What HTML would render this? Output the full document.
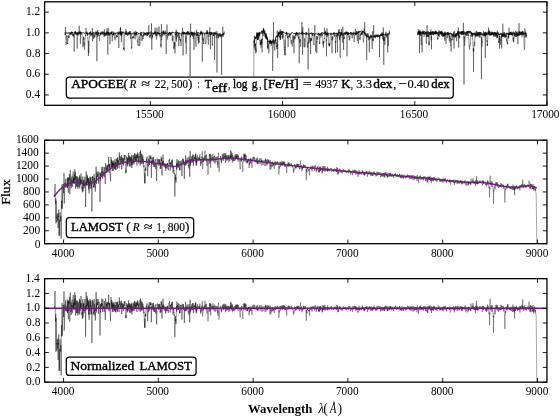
<!DOCTYPE html>
<html><head><meta charset="utf-8"><style>html,body{margin:0;padding:0;background:#fff;overflow:hidden}svg{display:block;will-change:transform;filter:blur(0.3px)}text{font-family:"Liberation Serif",serif;fill:#000}.b{font-weight:bold}.i{font-style:italic}</style></head><body>
<svg width="560" height="417" viewBox="0 0 560 417">
<defs><clipPath id="c1"><rect x="44.6" y="1.8" width="502.4" height="103.5"/></clipPath><clipPath id="c2"><rect x="44.6" y="140.2" width="502.4" height="103.5"/></clipPath><clipPath id="c3"><rect x="44.6" y="278.6" width="502.4" height="103.5"/></clipPath></defs>
<polyline fill="none" stroke="#000" stroke-width="0.4" stroke-linejoin="round" clip-path="url(#c1)" points="65,32 65.1,35 65.2,33.7 65.3,34.6 65.4,27 65.5,34.4 65.6,34.6 65.7,38 65.8,39.5 65.9,39.2 66,44.9 66.1,44.4 66.2,42.7 66.3,43.4 66.4,40.6 66.5,39.3 66.6,38.6 66.7,35.3 66.8,36.1 66.9,36.4 67,36.6 67.1,36 67.2,38.7 67.3,38.4 67.4,41.8 67.5,44 67.6,43 67.7,43.7 67.8,43.9 67.9,42.8 68,39.3 68.1,38 68.2,35.6 68.3,35.2 68.4,35.2 68.5,37.5 68.6,38.1 68.7,37 68.8,36.5 68.9,37.8 69,37.4 69.1,36.5 69.2,37.2 69.3,35.3 69.4,34.7 69.5,33.2 69.6,34 69.7,34.8 69.8,33.4 69.9,33.3 70,33.5 70.1,33.3 70.2,33.5 70.3,33.6 70.4,33.7 70.5,32.5 70.6,33.8 70.7,32.4 70.8,34.7 70.9,33.6 71,34.7 71.1,34.9 71.2,33.6 71.3,33.7 71.4,31.7 71.5,32.3 71.6,33.7 71.7,31.9 71.8,33.6 71.9,31.7 72,32.2 72.1,32 72.2,33.1 72.3,33.6 72.4,32.3 72.5,33.3 72.6,35.4 72.7,34 72.8,34 72.9,35.8 73,35.7 73.1,35.7 73.2,34.8 73.3,37.2 73.4,35.6 73.5,35.6 73.6,34 73.7,35.7 73.8,34.7 73.9,34.5 74,33.2 74.1,33.6 74.2,51.6 74.3,34 74.4,33.3 74.5,32.9 74.6,32.7 74.7,32.3 74.8,32.1 74.9,33.3 75,32.8 75.1,31.1 75.2,32.9 75.3,34.1 75.4,32.8 75.5,31.3 75.6,33 75.7,33.9 75.8,33.4 75.9,32.8 76,35 76.1,35.1 76.2,33.3 76.3,34.2 76.4,33.8 76.5,34.2 76.6,34.7 76.7,34.1 76.8,33.3 76.9,32.5 77,32.3 77.1,33 77.2,48.6 77.3,33.3 77.4,33.2 77.5,33.6 77.6,33.7 77.7,34.7 77.8,33.6 77.9,33.1 78,34.5 78.1,33.4 78.2,35.6 78.3,33.4 78.4,33 78.5,31.6 78.6,33.3 78.7,32.4 78.8,34.1 78.9,33.8 79,32.3 79.1,33.4 79.2,25.8 79.3,32.4 79.4,34.2 79.5,33.8 79.6,33.2 79.7,33 79.8,31.7 79.9,31.7 80,33.2 80.1,34.7 80.2,30.9 80.3,33.6 80.4,43.8 80.5,33.9 80.6,32.2 80.7,32.5 80.8,33 80.9,32 81,32 81.1,32.7 81.2,33.9 81.3,34.5 81.4,33.7 81.5,33.3 81.6,32.5 81.7,32.5 81.8,34.4 81.9,33.6 82,34.1 82.1,35.8 82.2,37.1 82.3,38.4 82.4,39.1 82.5,40.3 82.6,42.4 82.7,44 82.8,46.6 82.9,46.5 83,47.1 83.1,45.8 83.2,45.7 83.3,40.5 83.4,40.6 83.5,39.3 83.6,36.6 83.7,39.7 83.8,37.5 83.9,37.8 84,45.6 84.1,42.1 84.2,44 84.3,45.7 84.4,48.2 84.5,49.5 84.6,49.8 84.7,47.8 84.8,44.9 84.9,43.4 85,39.8 85.1,39.5 85.2,39.4 85.3,37.8 85.4,36.1 85.5,34.9 85.6,36 85.7,34.2 85.8,34.4 85.9,33.7 86,27.9 86.1,34.6 86.2,31.9 86.3,31.9 86.4,32.6 86.5,32.3 86.6,32.5 86.7,32.4 86.8,33.9 86.9,33.1 87,33.4 87.1,31.6 87.2,32.4 87.3,34.5 87.4,32.7 87.5,35.5 87.6,34.4 87.7,37 87.8,37.7 87.9,41.1 88,42.8 88.1,46.4 88.2,51.2 88.3,51.8 88.4,56 88.5,54.4 88.6,40.8 88.7,53.2 88.8,50.5 88.9,49.6 89,45.6 89.1,42.7 89.2,39.4 89.3,39 89.4,35.8 89.5,34.6 89.6,32.7 89.7,32.3 89.8,33.3 89.9,34 90,34.1 90.1,32.1 90.2,33.5 90.3,33.2 90.4,32 90.5,33.7 90.6,31.1 90.7,33.7 90.8,36.2 90.9,33.8 91,35.6 91.1,33.9 91.2,34.3 91.3,35.2 91.4,33.5 91.5,34.6 91.6,34.3 91.7,34.2 91.8,34.5 91.9,34.6 92,35.1 92.1,34.6 92.2,33 92.3,34.6 92.4,28 92.5,31.7 92.6,41.4 92.7,34 92.8,34 92.9,33.7 93,32.5 93.1,34.8 93.2,35 93.3,37.8 93.4,39 93.5,36 93.6,34.9 93.7,33.4 93.8,33.2 93.9,33.5 94,35.1 94.1,34.7 94.2,35.2 94.3,37.2 94.4,34.9 94.5,35.6 94.6,36.9 94.7,37.7 94.8,37.7 94.9,35.8 95,36.2 95.1,34.7 95.2,34.3 95.3,32.4 95.4,33.5 95.5,33.4 95.6,32.7 95.7,33.3 95.8,33.1 95.9,35.1 96,30.9 96.1,32.5 96.2,32.2 96.3,33.5 96.4,33.3 96.5,33.7 96.6,34.8 96.7,32.5 96.8,33.2 96.9,61.2 97,32.8 97.1,34.5 97.2,34.8 97.3,34.3 97.4,33.6 97.5,36.9 97.6,35.8 97.7,35.4 97.8,30 97.9,34 98,34.4 98.1,33.3 98.2,32.6 98.3,33.8 98.4,33.1 98.5,32.4 98.6,32.4 98.7,34.6 98.8,34.4 98.9,36.2 99,34.5 99.1,35.1 99.2,37.1 99.3,38.9 99.4,38.9 99.5,39.3 99.6,40.8 99.7,38.1 99.8,37 99.9,36.7 100,36.2 100.1,36 100.2,35.8 100.3,34.6 100.4,35.2 100.5,32.7 100.6,35.1 100.7,32.5 100.8,34.3 100.9,32.3 101,33.5 101.1,33.2 101.2,33.6 101.3,33.8 101.4,32.8 101.5,33 101.6,33.2 101.7,31.8 101.8,32.3 101.9,31.5 102,33 102.1,35.1 102.2,33.7 102.3,32.2 102.4,32.3 102.5,33.9 102.6,32.5 102.7,31.5 102.8,32 102.9,32 103,32 103.1,33.7 103.2,33.1 103.3,31.7 103.4,32.6 103.5,32.1 103.6,32.2 103.7,32.1 103.8,35.4 103.9,33.9 104,35.4 104.1,36.6 104.2,35.9 104.3,36.4 104.4,29.4 104.5,34.7 104.6,36.2 104.7,34.1 104.8,33.4 104.9,34 105,35 105.1,34.1 105.2,32.7 105.3,32.4 105.4,32.6 105.5,33.2 105.6,34.6 105.7,35.6 105.8,33.1 105.9,35.4 106,34.3 106.1,35.7 106.2,35.4 106.3,33.4 106.4,33.3 106.5,32.5 106.6,33.6 106.7,31.6 106.8,32 106.9,32.4 107,28.3 107.1,35.3 107.2,33 107.3,31.8 107.4,33.1 107.5,32.2 107.6,33.4 107.7,31.9 107.8,54.6 107.9,33 108,33.5 108.1,33 108.2,27.9 108.3,33.4 108.4,31.8 108.5,34.6 108.6,33.7 108.7,33.6 108.8,35.9 108.9,33.6 109,34.5 109.1,33.6 109.2,35.4 109.3,33.5 109.4,34 109.5,32.7 109.6,36.5 109.7,36.6 109.8,40.2 109.9,44.2 110,44.2 110.1,42.3 110.2,36.4 110.3,35.6 110.4,34.1 110.5,33.8 110.6,34.2 110.7,33.2 110.8,32.2 110.9,32.9 111,34.5 111.1,31.9 111.2,33.1 111.3,32.1 111.4,34.1 111.5,31.4 111.6,32.7 111.7,32.9 111.8,33.3 111.9,36 112,36.5 112.1,36.1 112.2,41.2 112.3,38.9 112.4,37.5 112.5,36.2 112.6,36.5 112.7,36.2 112.8,33.4 112.9,35.7 113,34.8 113.1,35.4 113.2,33.9 113.3,34.8 113.4,34.2 113.5,32.3 113.6,34.6 113.7,33.4 113.8,34 113.9,34.7 114,32.9 114.1,34.2 114.2,33.6 114.3,33.4 114.4,34.5 114.5,35.1 114.6,37 114.7,38.3 114.8,37.8 114.9,37.2 115,40.3 115.1,38 115.2,34.5 115.3,32.9 115.4,32.9 115.5,33.3 115.6,34.1 115.7,34 115.8,33.5 115.9,33 116,33.5 116.1,33.4 116.2,34.2 116.3,34.8 116.4,36.4 116.5,35.1 116.6,37.2 116.7,37.5 116.8,36.6 116.9,37.2 117,36 117.1,36.3 117.2,36.8 117.3,36.9 117.4,36.2 117.5,36.8 117.6,34.8 117.7,34.1 117.8,33.6 117.9,32.6 118,32.4 118.1,34.1 118.2,33 118.3,31.8 118.4,31.5 118.5,33.9 118.6,33 118.7,33.6 118.8,48 118.9,33.2 119,33.3 119.1,32.2 119.2,33.3 119.3,34.3 119.4,34.2 119.5,31.9 119.6,32.1 119.7,31.9 119.8,32.8 119.9,33.8 120,33.3 120.1,31.3 120.2,33.1 120.3,27.7 120.4,32.6 120.5,34.9 120.6,27 120.7,34.2 120.8,35.4 120.9,31.9 121,32.8 121.1,33.6 121.2,36.1 121.3,31.3 121.4,42 121.5,33.3 121.6,32.6 121.7,32.2 121.8,32.5 121.9,32.7 122,31.8 122.1,34.5 122.2,31.9 122.3,32.6 122.4,32.4 122.5,32.6 122.6,33.1 122.7,32.4 122.8,33 122.9,35.2 123,35.2 123.1,35.4 123.2,39.2 123.3,41.6 123.4,47 123.5,48.7 123.6,48 123.7,49 123.8,49.2 123.9,47.5 124,48.8 124.1,50.1 124.2,50.9 124.3,49.1 124.4,45.6 124.5,41 124.6,36.8 124.7,35 124.8,35.7 124.9,35.3 125,34.1 125.1,31.7 125.2,34.7 125.3,33.4 125.4,33 125.5,33.1 125.6,32.7 125.7,34.7 125.8,29.1 125.9,32.1 126,32.9 126.1,33.4 126.2,34.3 126.3,30.8 126.4,34 126.5,34.7 126.6,32.9 126.7,33.3 126.8,34.8 126.9,34.4 127,33.4 127.1,34.3 127.2,34.7 127.3,34.3 127.4,35.5 127.5,34.8 127.6,35.1 127.7,35.3 127.8,35.9 127.9,34 128,31.8 128.1,34.6 128.2,33.1 128.3,34.2 128.4,32.7 128.5,33.5 128.6,33.2 128.7,33.5 128.8,35 128.9,33.2 129,34 129.1,34 129.2,33.3 129.3,31.6 129.4,34.1 129.5,31.3 129.6,32.6 129.7,33.6 129.8,34.3 129.9,34.4 130,34.2 130.1,33.8 130.2,32.8 130.3,34.2 130.4,32.8 130.5,34.2 130.6,31.1 130.7,32.5 130.8,39 130.9,34.7 131,33.6 131.1,38.4 131.2,40.8 131.3,43.1 131.4,44.2 131.5,47.9 131.6,47.1 131.7,48.8 131.8,46.8 131.9,44.2 132,40.8 132.1,38.3 132.2,37.6 132.3,36.9 132.4,36.6 132.5,36.2 132.6,36.4 132.7,36.8 132.8,38.6 132.9,37.1 133,37.3 133.1,38.2 133.2,36.7 133.3,37.9 133.4,37.9 133.5,36.6 133.6,36.5 133.7,37.1 133.8,35.6 133.9,35.3 134,35.7 134.1,33.6 134.2,32.6 134.3,33.3 134.4,33.6 134.5,31.5 134.6,34 134.7,33.6 134.8,34.7 134.9,36.1 135,38.2 135.1,39.4 135.2,37.5 135.3,36 135.4,33.6 135.5,35 135.6,34.6 135.7,33.4 135.8,30.9 135.9,33.4 136,35.9 136.1,33.2 136.2,32.3 136.3,35.1 136.4,33.1 136.5,34.1 136.6,34.2 136.7,32 136.8,33.6 136.9,34.9 137,34.1 137.1,36.2 137.2,37 137.3,39.7 137.4,42.1 137.5,40.7 137.6,42.7 137.7,44.4 137.8,44.1 137.9,44.5 138,45.2 138.1,45.5 138.2,45.1 138.3,45.9 138.4,45.8 138.5,44.8 138.6,43.4 138.7,42.4 138.8,38.4 138.9,38.2 139,37.5 139.1,37.5 139.2,35.7 139.3,40 139.4,39 139.5,41.9 139.6,44.2 139.7,45.9 139.8,44.7 139.9,44.5 140,44.1 140.1,42.4 140.2,40.6 140.3,37.7 140.4,35.4 140.5,33.6 140.6,35.7 140.7,32.2 140.8,34 140.9,33.5 141,34 141.1,34.4 141.2,35.2 141.3,34.4 141.4,35.7 141.5,34.5 141.6,37.6 141.7,37.8 141.8,39.4 141.9,41.1 142,39.8 142.1,40.1 142.2,38.1 142.3,38.1 142.4,37.2 142.5,35.4 142.6,37.6 142.7,38.4 142.8,39.1 142.9,38.9 143,38.5 143.1,39 143.2,38 143.3,36.4 143.4,37.1 143.5,34 143.6,35.2 143.7,35 143.8,35.9 143.9,33.7 144,32.4 144.1,33.7 144.2,34.9 144.3,32.9 144.4,33 144.5,32.9 144.6,33.1 144.7,34.3 144.8,35.1 144.9,33.8 145,33.4 145.1,35.5 145.2,34.1 145.3,34.3 145.4,34.1 145.5,34.2 145.6,34.6 145.7,33.9 145.8,34.3 145.9,33.8 146,34.1 146.1,33.2 146.2,33.5 146.3,34.2 146.4,34.2 146.5,34.4 146.6,35.5 146.7,33.4 146.8,32.7 146.9,35.4 147,34.5 147.1,35.9 147.2,34.3 147.3,33 147.4,35.9 147.5,33.9 147.6,33 147.7,32.6 147.8,34 147.9,32.9 148,34 148.1,34.8 148.2,32.3 148.3,33.1 148.4,33.7 148.5,34.7 148.6,34 148.7,32.6 148.8,25.2 148.9,32.7 149,32.9 149.1,33.5 149.2,32.3 149.3,36.6 149.4,35.3 149.5,35.1 149.6,35.1 149.7,35.3 149.8,37.4 149.9,38.1 150,37.2 150.1,37.3 150.2,37.8 150.3,37 150.4,34.7 150.5,36.4 150.6,35.1 150.7,34.8 150.8,32.9 150.9,31.3 151,32 151.1,33.5 151.2,35.3 151.3,35.7 151.4,34 151.5,23.4 151.6,34.4 151.7,35.8 151.8,49.8 151.9,36.7 152,38.3 152.1,36.3 152.2,35 152.3,35.9 152.4,35.1 152.5,37.7 152.6,34.7 152.7,33 152.8,34.4 152.9,34.5 153,33.4 153.1,33.4 153.2,34.2 153.3,33.7 153.4,32.7 153.5,34 153.6,34.5 153.7,34 153.8,34.5 153.9,34.1 154,33.2 154.1,33.2 154.2,33.8 154.3,32.6 154.4,34.3 154.5,34.4 154.6,31.5 154.7,33.6 154.8,33.1 154.9,33.2 155,33.8 155.1,27.7 155.2,33.8 155.3,33.4 155.4,33.4 155.5,32.4 155.6,32.9 155.7,34.7 155.8,31.3 155.9,35.7 156,34.1 156.1,36.4 156.2,33.7 156.3,36.7 156.4,38.7 156.5,38.6 156.6,39.6 156.7,37.6 156.8,37.2 156.9,36.2 157,27.7 157.1,35.4 157.2,34.1 157.3,33.5 157.4,33.1 157.5,33.3 157.6,32.2 157.7,33 157.8,32.9 157.9,32.5 158,32.5 158.1,34.4 158.2,32.4 158.3,33.4 158.4,34.3 158.5,33.7 158.6,33 158.7,34 158.8,31.6 158.9,31.8 159,26.4 159.1,32.8 159.2,32.9 159.3,34.8 159.4,34.8 159.5,33.3 159.6,33.9 159.7,33.2 159.8,34.8 159.9,33.6 160,36.5 160.1,35 160.2,36.3 160.3,35.1 160.4,38.4 160.5,38.8 160.6,41.5 160.7,41.4 160.8,46.2 160.9,43.9 161,44.5 161.1,47.6 161.2,45 161.3,43.5 161.4,24 161.5,40.3 161.6,38.4 161.7,35.8 161.8,33.2 161.9,33.1 162,31.9 162.1,35.1 162.2,34.7 162.3,33.8 162.4,35.2 162.5,35.8 162.6,36.4 162.7,36.5 162.8,36.5 162.9,35 163,32 163.1,30.9 163.2,34.5 163.3,33.7 163.4,30.7 163.5,33.2 163.6,32.2 163.7,32.5 163.8,30.5 163.9,33.8 164,33 164.1,34.1 164.2,34.7 164.3,35.2 164.4,35.4 164.5,33.8 164.6,33.4 164.7,32.4 164.8,33.5 164.9,32.8 165,31.9 165.1,34.1 165.2,33.7 165.3,30.5 165.4,31.3 165.5,33.1 165.6,32.3 165.7,35.3 165.8,35.2 165.9,37 166,38.7 166.1,39.4 166.2,54 166.3,37.7 166.4,36.6 166.5,36.3 166.6,35.3 166.7,35.7 166.8,34.8 166.9,34 167,24.6 167.1,34.9 167.2,37.4 167.3,39.5 167.4,37.9 167.5,36.6 167.6,37.1 167.7,35.4 167.8,34.9 167.9,34.1 168,35.1 168.1,33.6 168.2,35.1 168.3,33.1 168.4,34.3 168.5,35.8 168.6,35.9 168.7,36.2 168.8,34.5 168.9,33.4 169,33.2 169.1,33.7 169.2,31.9 169.3,32.2 169.4,32.3 169.5,32.5 169.6,34.2 169.7,33.1 169.8,32.9 169.9,33.6 170,34.8 170.1,33.4 170.2,35.5 170.3,32.5 170.4,33.8 170.5,35.7 170.6,35.4 170.7,33.7 170.8,32.9 170.9,33.9 171,32.7 171.1,34.6 171.2,34.3 171.3,34 171.4,32.5 171.5,34.3 171.6,33.1 171.7,33.2 171.8,33.2 171.9,33.9 172,35.3 172.1,36.7 172.2,37.9 172.3,41.4 172.4,38.4 172.5,39.8 172.6,37.5 172.7,37.1 172.8,35.4 172.9,37.3 173,36.6 173.1,37.3 173.2,38.4 173.3,41 173.4,41.5 173.5,44.3 173.6,48.1 173.7,47.1 173.8,47.7 173.9,47.8 174,49.4 174.1,47.9 174.2,45.7 174.3,44 174.4,43.4 174.5,42.2 174.6,46.5 174.7,45.9 174.8,45.6 174.9,42.5 175,53.4 175.1,34.1 175.2,33.7 175.3,33.6 175.4,32.4 175.5,35.2 175.6,34.1 175.7,35 175.8,35 175.9,34.1 176,38.3 176.1,39.4 176.2,29.4 176.3,41.7 176.4,40.9 176.5,37.6 176.6,34.3 176.7,35 176.8,32.9 176.9,33.8 177,34 177.1,32.4 177.2,33.7 177.3,33.7 177.4,34.7 177.5,35.4 177.6,36.2 177.7,35.5 177.8,37.4 177.9,37.4 178,35.5 178.1,35.2 178.2,34.5 178.3,34.5 178.4,33.2 178.5,33.6 178.6,33.3 178.7,33.2 178.8,46 178.9,32.9 179,32.2 179.1,33.2 179.2,34.4 179.3,34.8 179.4,35.6 179.5,35.6 179.6,38.1 179.7,37.4 179.8,39.6 179.9,40 180,39.3 180.1,39.2 180.2,40.2 180.3,39 180.4,38.7 180.5,41.5 180.6,39.9 180.7,41 180.8,43.6 180.9,44.2 181,45.6 181.1,45.9 181.2,43.1 181.3,41.6 181.4,39 181.5,37.2 181.6,33.9 181.7,36.3 181.8,33.9 181.9,34.1 182,32.4 182.1,32 182.2,33.2 182.3,32.8 182.4,33.7 182.5,32.2 182.6,27.7 182.7,33.4 182.8,33.7 182.9,33.9 183,33 183.1,55.5 183.2,32.3 183.3,34.3 183.4,34.2 183.5,34.1 183.6,31.6 183.7,33.9 183.8,32.4 183.9,33.6 184,33.7 184.1,34.6 184.2,33.4 184.3,33.3 184.4,32.6 184.5,32.3 184.6,33.8 184.7,32.3 184.8,33.7 184.9,32.7 185,32.5 185.1,34 185.2,34.1 185.3,33 185.4,35.3 185.5,38.2 185.6,42 185.7,42.8 185.8,42.8 185.9,40.5 186,38.1 186.1,35.9 186.2,54 186.3,35 186.4,33.7 186.5,32.7 186.6,32.3 186.7,33.6 186.8,32 186.9,34.6 187,34.9 187.1,35.3 187.2,34.3 187.3,31.9 187.4,33 187.5,33.8 187.6,31 187.7,32.3 187.8,33.6 187.9,33.1 188,31.1 188.1,32.6 188.2,33.1 188.3,35 188.4,32.6 188.5,32.2 188.6,33.3 188.7,33.4 188.8,33.6 188.9,34.4 189,33 189.1,31.8 189.2,33.1 189.3,33.2 189.4,34.4 189.5,34.5 189.6,33 189.7,34.3 189.8,34.5 189.9,33.6 190,35 190.1,76 190.2,35.2 190.3,35 190.4,35.6 190.5,37.1 190.6,23.6 190.7,32.3 190.8,32.9 190.9,32.5 191,33.4 191.1,32.9 191.2,35.5 191.3,33.8 191.4,34.8 191.5,32.4 191.6,32.9 191.7,35.1 191.8,31.7 191.9,33.5 192,32 192.1,35.1 192.2,32.4 192.3,33.6 192.4,34 192.5,32.8 192.6,36.6 192.7,33.7 192.8,35.1 192.9,32.8 193,32.6 193.1,35.4 193.2,36.5 193.3,39 193.4,34 193.5,32.3 193.6,32.7 193.7,33.5 193.8,33.9 193.9,32.8 194,50 194.1,34.4 194.2,35.1 194.3,33.7 194.4,34.4 194.5,31.6 194.6,33.1 194.7,34.3 194.8,33.8 194.9,33.6 195,35.4 195.1,34 195.2,33.8 195.3,36 195.4,37.3 195.5,37.8 195.6,41.7 195.7,44.4 195.8,44.3 195.9,45.7 196,46.8 196.1,46.8 196.2,42.6 196.3,39.6 196.4,37.3 196.5,29.7 196.6,35.1 196.7,34.1 196.8,35.1 196.9,36 197,33.1 197.1,34.4 197.2,33.6 197.3,36.2 197.4,32.7 197.5,33.5 197.6,34.5 197.7,33.7 197.8,35.8 197.9,37.8 198,36.9 198.1,39 198.2,40.5 198.3,37.4 198.4,43.8 198.5,33.5 198.6,35.5 198.7,34.7 198.8,38.1 198.9,40.9 199,41.6 199.1,41.3 199.2,42.8 199.3,41 199.4,39 199.5,37.9 199.6,36.9 199.7,35 199.8,34.9 199.9,35.9 200,34.4 200.1,34.6 200.2,32.8 200.3,34.4 200.4,33.4 200.5,34 200.6,32.3 200.7,33.3 200.8,30.8 200.9,32.7 201,32.2 201.1,32.1 201.2,34.7 201.3,31.6 201.4,32.9 201.5,32.9 201.6,33.5 201.7,34 201.8,31.5 201.9,32.5 202,32.4 202.1,33.8 202.2,34.2 202.3,61.7 202.4,33.7 202.5,34.2 202.6,36.9 202.7,39.8 202.8,40 202.9,39.9 203,39.8 203.1,39.3 203.2,37.8 203.3,40.8 203.4,39.8 203.5,40.5 203.6,44 203.7,42.7 203.8,43.6 203.9,41.3 204,40.4 204.1,37.6 204.2,35.5 204.3,35.1 204.4,34.7 204.5,34.7 204.6,33.8 204.7,33.6 204.8,34 204.9,35.4 205,35.7 205.1,37.1 205.2,39.3 205.3,40.8 205.4,42.1 205.5,42 205.6,42.2 205.7,44.3 205.8,44.2 205.9,43.1 206,42.7 206.1,41.9 206.2,39.3 206.3,38.3 206.4,35.6 206.5,35.2 206.6,33.7 206.7,32.5 206.8,34 206.9,30.6 207,33.2 207.1,34 207.2,30 207.3,32 207.4,34 207.5,32.4 207.6,33.9 207.7,36.9 207.8,36.8 207.9,39.3 208,38.9 208.1,39.5 208.2,42.1 208.3,44.8 208.4,44.3 208.5,43.2 208.6,39.7 208.7,37.2 208.8,35.1 208.9,36.9 209,33.6 209.1,34.9 209.2,33 209.3,34.4 209.4,32 209.5,32.5 209.6,33.4 209.7,32.5 209.8,27.3 209.9,32.9 210,32.5 210.1,34.9 210.2,34.5 210.3,32.1 210.4,49.3 210.5,34 210.6,34.6 210.7,34.6 210.8,35.1 210.9,34.4 211,32.9 211.1,33.3 211.2,32 211.3,35 211.4,32.4 211.5,32.4 211.6,32.5 211.7,33.3 211.8,34 211.9,33.4 212,35 212.1,37.2 212.2,42.4 212.3,44.9 212.4,44.2 212.5,45.5 212.6,40.8 212.7,38.8 212.8,34.2 212.9,33.5 213,33.8 213.1,32.9 213.2,34.3 213.3,36.1 213.4,35.7 213.5,32.6 213.6,36 213.7,34.9 213.8,35.3 213.9,34.5 214,34.5 214.1,34.2 214.2,34.1 214.3,32.8 214.4,34.6 214.5,33.7 214.6,60 214.7,33.8 214.8,33.3 214.9,33.5 215,32.3 215.1,33.7 215.2,33.7 215.3,33.1 215.4,31.7 215.5,34.6 215.6,33.2 215.7,33.3 215.8,33.1 215.9,32.8 216,33.2 216.1,33.1 216.2,34.9 216.3,37.9 216.4,35.9 216.5,35.8 216.6,33.1 216.7,31.8 216.8,32.4 216.9,31.2 217,72.6 217.1,35 217.2,34 217.3,34.4 217.4,34.5 217.5,34.3 217.6,35.4 217.7,34.1 217.8,35.2 217.9,36.1 218,35.3 218.1,36.6 218.2,38.5 218.3,38.6 218.4,35.6 218.5,37.8 218.6,36.1 218.7,35.8 218.8,34.7 218.9,35.2 219,33.4 219.1,34.4 219.2,33.6 219.3,34.2 219.4,35.9 219.5,36.3 219.6,34.9 219.7,34.5 219.8,35.7 219.9,35.4 220,36.9 220.1,35.7 220.2,32.9 220.3,35.3 220.4,35 220.5,34.7 220.6,35.8 220.7,35.9 220.8,35.7 220.9,37.5 221,36.5 221.1,36.4 221.2,36 221.3,36.8 221.4,34.4 221.5,36.4 221.6,75 221.7,36.5 221.8,36.3 221.9,35.5 222,35 222.1,36.1 222.2,36.1 222.3,33.8 222.4,34.4 222.5,33.9 222.6,35.9 222.7,36.4 222.8,26.7 222.9,34.7 223,34.1 223.1,35.6 223.2,36 223.3,36.6 223.4,33.2 223.5,35 223.6,33.7 223.7,32.9 223.8,33.2 223.9,32.7 224,33.8 224.1,33.3 224.2,34.3 224.3,32.6 224.4,31.3"/>
<polyline fill="none" stroke="#000" stroke-width="0.8" stroke-linejoin="round" clip-path="url(#c1)" stroke-opacity="0.8" points="65.3,33 65.8,32.6 66.3,33.5 66.8,32.3 67.3,33.4 67.8,33.3 68.3,33.7 68.8,32 69.3,32.6 69.8,33 70.3,33.7 70.8,33.1 71.3,33.5 71.8,33.4 72.3,32.5 72.8,33 73.3,32.8 73.8,32.9 74.3,32.5 74.8,33.5 75.3,33.3 75.8,31.9 76.3,33.5 76.8,32.7 77.3,32.2 77.8,33.8 78.3,33.1 78.8,33.3 79.3,33 79.8,33.1 80.3,32 80.8,33.5 81.3,32.6 81.8,33.1 82.3,33 82.8,32.5 83.3,32.3 83.8,33 84.3,33.8 84.8,32.7 85.3,32.7 85.8,33.1 86.3,32.7 86.8,33.9 87.3,33.4 87.8,34.6 88.3,33.2 88.8,34.4 89.3,32.7 89.8,33.2 90.3,32.5 90.8,32.9 91.3,32.9 91.8,33.5 92.3,33.9 92.8,32.9 93.3,32.2 93.8,33.1 94.3,33 94.8,32.8 95.3,33.6 95.8,33.8 96.3,32.7 96.8,32.7 97.3,31.6 97.8,32.7 98.3,33.6 98.8,32.6 99.3,33.6 99.8,33.5 100.3,33.5 100.8,33.5 101.3,33.1 101.8,33.7 102.3,33.7 102.8,33.3 103.3,33.1 103.8,33.9 104.3,34 104.8,32.7 105.3,33.6 105.8,33.2 106.3,34.5 106.8,32.9 107.3,32.8 107.8,32.6 108.3,33.7 108.8,32.5 109.3,33.5 109.8,32.8 110.3,33.9 110.8,34.1 111.3,33.8 111.8,32 112.3,32.3 112.8,31.5 113.3,34.7 113.8,32.8 114.3,32.9 114.8,33.2 115.3,33.5 115.8,32.9 116.3,33.2 116.8,33.1 117.3,32.3 117.8,34.2 118.3,34.2 118.8,33.1 119.3,33.1 119.8,34.3 120.3,34.6 120.8,33.2 121.3,33.5 121.8,32.9 122.3,33.3 122.8,31.6 123.3,31.8 123.8,33.4 124.3,33 124.8,33.4 125.3,33.2 125.8,33.5 126.3,33.3 126.8,33 127.3,33.4 127.8,32.7 128.3,34 128.8,32.6 129.3,32.9 129.8,33.7 130.3,32.9 130.8,33.7 131.3,34 131.8,33.6 132.3,32.9 132.8,34.3 133.3,33.4 133.8,32.6 134.3,34.4 134.8,33.3 135.3,33.5 135.8,33.7 136.3,32.8 136.8,33.7 137.3,32.4 137.8,32.6 138.3,32.9 138.8,34.5 139.3,33.5 139.8,33.9 140.3,32.9 140.8,33.5 141.3,31.9 141.8,33 142.3,33.4 142.8,32.8 143.3,32 143.8,32.2 144.3,33.5 144.8,34 145.3,32.9 145.8,34.1 146.3,32.4 146.8,33.5 147.3,33.3 147.8,33.8 148.3,32.3 148.8,33.8 149.3,33.2 149.8,32.6 150.3,32.9 150.8,33 151.3,33.3 151.8,32.6 152.3,32.6 152.8,33.2 153.3,33.1 153.8,33.4 154.3,33.7 154.8,32 155.3,33.1 155.8,33.3 156.3,33.2 156.8,32.5 157.3,33.6 157.8,34.2 158.3,33 158.8,32.6 159.3,33.6 159.8,33.1 160.3,33.2 160.8,33.3 161.3,32.8 161.8,33.1 162.3,32.7 162.8,31.9 163.3,33.7 163.8,33.3 164.3,33.1 164.8,33.9 165.3,33 165.8,33.8 166.3,33.6 166.8,32.9 167.3,32.4 167.8,33.4 168.3,33.2 168.8,33.7 169.3,32.2 169.8,33 170.3,33.2 170.8,33.3 171.3,33.2 171.8,33.3 172.3,31.7 172.8,32.9 173.3,32.7 173.8,32.2 174.3,33.2 174.8,32.9 175.3,32.4 175.8,32.3 176.3,33.3 176.8,31.6 177.3,33 177.8,32.4 178.3,33.2 178.8,34.3 179.3,33.7 179.8,33.1 180.3,34 180.8,34.2 181.3,33.7 181.8,34.2 182.3,33.2 182.8,33.5 183.3,33.1 183.8,32.9 184.3,33.1 184.8,32.6 185.3,33.1 185.8,34.5 186.3,33.5 186.8,33 187.3,34.2 187.8,34 188.3,32.5 188.8,32.7 189.3,34.2 189.8,33.2 190.3,33.2 190.8,32.8 191.3,32.4 191.8,33.8 192.3,32.6 192.8,33.4 193.3,34.2 193.8,33.4 194.3,33 194.8,33.5 195.3,33.5 195.8,32.8 196.3,33.3 196.8,32.4 197.3,32.1 197.8,32.8 198.3,32 198.8,32.7 199.3,33 199.8,33.2 200.3,34.2 200.8,32.5 201.3,32.8 201.8,32.8 202.3,32.5 202.8,34.3 203.3,32.6 203.8,33 204.3,33 204.8,34.6 205.3,32.9 205.8,32.6 206.3,33.9 206.8,32.7 207.3,31.8 207.8,33.8 208.3,33.7 208.8,32.2 209.3,32.3 209.8,33.1 210.3,32.9 210.8,32.4 211.3,32.6 211.8,34.3 212.3,33.8 212.8,32.4 213.3,32.9 213.8,33 214.3,32.8 214.8,33.1 215.3,34.3 215.8,33 216.3,33.1 216.8,33.7 217.3,33.5 217.8,33.7 218.3,34 218.8,33.9 219.3,35.5 219.8,34.6 220.3,36 220.8,34.9 221.3,34.8 221.8,35.1 222.3,34.4 222.8,34.8 223.3,34.3 223.8,34.9"/>
<polyline fill="none" stroke="#000" stroke-width="0.4" stroke-linejoin="round" clip-path="url(#c1)" points="253.8,90 253.9,40.4 254,42.6 254.1,41.8 254.2,41.7 254.3,47.7 254.4,35.6 254.5,42.8 254.6,40.8 254.7,42 254.8,45.5 254.9,43.8 255,47 255.1,49.3 255.2,50 255.3,43.2 255.4,46.4 255.5,44.8 255.6,45.9 255.7,47.4 255.8,53.5 255.9,47.9 256,49.6 256.1,49.8 256.2,52.2 256.3,44.5 256.4,43.8 256.5,42.1 256.6,39.7 256.7,32.6 256.8,33.8 256.9,38.3 257,32.3 257.1,36 257.2,32.9 257.3,37.6 257.4,36.6 257.5,33.1 257.6,36.1 257.7,34.1 257.8,35.3 257.9,39.6 258,37.3 258.1,37.4 258.2,39.9 258.3,36 258.4,38.3 258.5,35.8 258.6,35.2 258.7,33.5 258.8,32.3 258.9,31.9 259,32.2 259.1,35.6 259.2,35.2 259.3,32.1 259.4,36.7 259.5,32.5 259.6,33.5 259.7,32.2 259.8,34.8 259.9,40.4 260,41 260.1,39.9 260.2,44.9 260.3,42.1 260.4,42.3 260.5,44.4 260.6,43.2 260.7,42.1 260.8,41.4 260.9,47.7 261,40.1 261.1,44.2 261.2,41.3 261.3,43 261.4,45.1 261.5,41 261.6,39.5 261.7,39.3 261.8,43.2 261.9,41.6 262,39.1 262.1,52.4 262.2,38.2 262.3,39.8 262.4,38 262.5,37.1 262.6,33.8 262.7,31.6 262.8,30.9 262.9,32.8 263,29.6 263.1,36.3 263.2,31.9 263.3,31.9 263.4,32.5 263.5,28.4 263.6,28.1 263.7,30 263.8,31.6 263.9,31.5 264,33.6 264.1,33.3 264.2,32.9 264.3,33.2 264.4,31.9 264.5,33.2 264.6,31.4 264.7,31.4 264.8,34.3 264.9,30.1 265,36.1 265.1,37.4 265.2,33.8 265.3,36.1 265.4,35.3 265.5,33.6 265.6,36.4 265.7,37.5 265.8,39 265.9,37.2 266,37.8 266.1,36.3 266.2,38.5 266.3,36.4 266.4,38 266.5,35.6 266.6,37.1 266.7,35.8 266.8,36.3 266.9,39.6 267,37.9 267.1,38.3 267.2,40.1 267.3,38.1 267.4,43.3 267.5,40.1 267.6,48.5 267.7,47.7 267.8,42.6 267.9,48.6 268,46.3 268.1,46 268.2,43.5 268.3,46.4 268.4,45.9 268.5,51.8 268.6,52.1 268.7,52.9 268.8,53.4 268.9,52.9 269,52.6 269.1,49.2 269.2,45.1 269.3,43.1 269.4,41.6 269.5,43.8 269.6,42.9 269.7,40.3 269.8,39.4 269.9,41.9 270,41.2 270.1,42.9 270.2,42 270.3,42.8 270.4,43.5 270.5,43.9 270.6,42 270.7,43.6 270.8,41.8 270.9,41 271,43.7 271.1,45.5 271.2,46.1 271.3,43.7 271.4,40.9 271.5,43.7 271.6,42.5 271.7,43.4 271.8,43.9 271.9,41.4 272,40.9 272.1,41.4 272.2,40.9 272.3,40.7 272.4,43.8 272.5,45.6 272.6,51.4 272.7,71 272.8,54.4 272.9,52.8 273,47.9 273.1,46.8 273.2,47.3 273.3,45.2 273.4,42.4 273.5,22 273.6,42.3 273.7,43.3 273.8,44.4 273.9,41.9 274,41.4 274.1,44.1 274.2,41.7 274.3,44.7 274.4,46.9 274.5,48 274.6,49 274.7,49.6 274.8,50.5 274.9,47.1 275,43.3 275.1,42.8 275.2,42.5 275.3,42.9 275.4,40.8 275.5,39.5 275.6,41.2 275.7,40.6 275.8,39.9 275.9,39.4 276,41.5 276.1,44 276.2,42.2 276.3,42.6 276.4,47.2 276.5,45.6 276.6,47.1 276.7,49.1 276.8,48.7 276.9,48.6 277,48.4 277.1,48.7 277.2,47.6 277.3,30.6 277.4,42.5 277.5,47 277.6,44.1 277.7,57.8 277.8,39 277.9,36.4 278,37.3 278.1,35.6 278.2,33 278.3,35.9 278.4,31.9 278.5,33.2 278.6,36.2 278.7,32.4 278.8,33.6 278.9,34.7 279,33.2 279.1,31.4 279.2,33.1 279.3,34.2 279.4,32.6 279.5,37 279.6,35.9 279.7,37 279.8,37.1 279.9,38.1 280,37.8 280.1,36.8 280.2,39.7 280.3,29.2 280.4,40 280.5,35.6 280.6,36.4 280.7,38 280.8,32.6 280.9,32.1 281,33.4 281.1,34.8 281.2,31 281.3,32.3 281.4,31.9 281.5,31.4 281.6,31.7 281.7,33.4 281.8,32.2 281.9,30.8 282,32.5 282.1,35.1 282.2,35.8 282.3,38.6 282.4,39.1 282.5,35.6 282.6,37.6 282.7,32 282.8,33.1 282.9,32.9 283,32.8 283.1,35.3 283.2,34.6 283.3,34.3 283.4,37 283.5,37.1 283.6,36.4 283.7,37.4 283.8,41.8 283.9,43 284,43.9 284.1,48 284.2,47.6 284.3,49.5 284.4,50 284.5,49.4 284.6,52.5 284.7,55 284.8,50.2 284.9,46.6 285,42.4 285.1,39.7 285.2,55.5 285.3,37.1 285.4,35.5 285.5,35.9 285.6,35.4 285.7,35.5 285.8,35.4 285.9,35.7 286,34.1 286.1,33.2 286.2,33.5 286.3,32.3 286.4,32.3 286.5,33.1 286.6,33.1 286.7,34.1 286.8,31.8 286.9,34.5 287,33.5 287.1,35.5 287.2,34.1 287.3,35.4 287.4,35.2 287.5,38 287.6,36.2 287.7,39.9 287.8,40.6 287.9,43.1 288,46.2 288.1,47.1 288.2,44.7 288.3,43 288.4,40.1 288.5,37.7 288.6,37.8 288.7,35.9 288.8,36.8 288.9,35.2 289,36.4 289.1,37.6 289.2,36.1 289.3,34.2 289.4,36.5 289.5,35.9 289.6,34.6 289.7,34.7 289.8,34 289.9,34.4 290,35 290.1,33.8 290.2,33.5 290.3,33.5 290.4,34.4 290.5,34.9 290.6,37.5 290.7,37.1 290.8,39.2 290.9,41.7 291,43 291.1,43.6 291.2,43.1 291.3,43.2 291.4,40.9 291.5,40.1 291.6,39.9 291.7,41.8 291.8,43.6 291.9,43.1 292,44.1 292.1,44.9 292.2,46.6 292.3,43.8 292.4,41.7 292.5,39 292.6,38 292.7,37.3 292.8,35.7 292.9,35.2 293,38.6 293.1,39.2 293.2,42.6 293.3,40.4 293.4,40.4 293.5,39.2 293.6,35.7 293.7,36.7 293.8,37.1 293.9,36.7 294,53.2 294.1,37.5 294.2,36.5 294.3,37.9 294.4,36.6 294.5,37.4 294.6,37.6 294.7,39.6 294.8,38.8 294.9,38.7 295,36.7 295.1,37.9 295.2,38.4 295.3,34.6 295.4,36.2 295.5,35 295.6,32.8 295.7,33.6 295.8,34.5 295.9,33.4 296,33.5 296.1,34.2 296.2,32.8 296.3,33.9 296.4,32 296.5,32.6 296.6,35.2 296.7,35.5 296.8,35.2 296.9,32.9 297,34.2 297.1,33.7 297.2,36.4 297.3,33.3 297.4,33.2 297.5,33.6 297.6,34.2 297.7,33.2 297.8,33.4 297.9,34 298,33.9 298.1,32.5 298.2,33.9 298.3,37.9 298.4,37.4 298.5,39.3 298.6,39 298.7,38.4 298.8,36.9 298.9,37.6 299,35.3 299.1,37.9 299.2,63.3 299.3,38.7 299.4,39.6 299.5,41.2 299.6,42.5 299.7,42.3 299.8,41.3 299.9,40.2 300,40.6 300.1,40.7 300.2,40.6 300.3,39.2 300.4,39.5 300.5,42.9 300.6,46.9 300.7,46.5 300.8,45.5 300.9,41.2 301,37.2 301.1,34.2 301.2,34.3 301.3,32.5 301.4,32.2 301.5,33.5 301.6,34 301.7,34 301.8,33.9 301.9,22 302,33 302.1,34.2 302.2,35.1 302.3,30.6 302.4,34.3 302.5,33.3 302.6,54.7 302.7,32.5 302.8,27.1 302.9,32.3 303,33.8 303.1,33 303.2,34.2 303.3,33.7 303.4,37.2 303.5,37.9 303.6,37.7 303.7,41.6 303.8,43.7 303.9,45.4 304,46.9 304.1,47.2 304.2,46.1 304.3,42.1 304.4,40.2 304.5,38.3 304.6,38.7 304.7,40.8 304.8,41.4 304.9,44.7 305,47.4 305.1,43.9 305.2,42.3 305.3,42.2 305.4,37.2 305.5,36.6 305.6,35.5 305.7,34.1 305.8,34.7 305.9,34.3 306,32.6 306.1,34.8 306.2,32.4 306.3,32.8 306.4,33.2 306.5,33.7 306.6,32.9 306.7,35 306.8,33.9 306.9,37.2 307,39 307.1,41.6 307.2,44.5 307.3,46.6 307.4,46.7 307.5,47.7 307.6,46.1 307.7,46.5 307.8,46.2 307.9,43 308,42.2 308.1,69.5 308.2,43.1 308.3,42.9 308.4,42.5 308.5,41.6 308.6,42.5 308.7,28.2 308.8,43.7 308.9,43.4 309,43.2 309.1,39.2 309.2,37.8 309.3,34.7 309.4,33.7 309.5,36.3 309.6,36.4 309.7,37.4 309.8,39.1 309.9,37.9 310,40.2 310.1,41.3 310.2,42 310.3,39.3 310.4,41.1 310.5,39.8 310.6,54 310.7,38.1 310.8,38 310.9,38.9 311,39.7 311.1,39.1 311.2,37.8 311.3,40.7 311.4,38.9 311.5,39.8 311.6,40.6 311.7,37.8 311.8,37.7 311.9,35.7 312,33.9 312.1,34.4 312.2,33.3 312.3,35.3 312.4,35.5 312.5,35.2 312.6,32.8 312.7,35.8 312.8,34.9 312.9,35.9 313,36.7 313.1,37.3 313.2,39.2 313.3,41.2 313.4,42.9 313.5,42.9 313.6,43 313.7,43.1 313.8,43.7 313.9,45.1 314,42.7 314.1,40.4 314.2,37 314.3,35.5 314.4,36.5 314.5,35.5 314.6,35.2 314.7,33.9 314.8,25 314.9,32.2 315,33.6 315.1,33.7 315.2,38.7 315.3,42 315.4,45.9 315.5,45.8 315.6,48.6 315.7,51.8 315.8,51.3 315.9,47.4 316,45.9 316.1,43.7 316.2,40.4 316.3,38.9 316.4,37 316.5,36 316.6,37.7 316.7,39.2 316.8,53.2 316.9,41.1 317,41.4 317.1,39.1 317.2,38.1 317.3,38.2 317.4,38.6 317.5,36.3 317.6,39.5 317.7,38.6 317.8,38 317.9,36.8 318,36.7 318.1,35.4 318.2,32.7 318.3,33.3 318.4,33.4 318.5,33.1 318.6,33.1 318.7,34.2 318.8,32.8 318.9,33.4 319,33.5 319.1,34.6 319.2,35.2 319.3,34.4 319.4,36.8 319.5,40.7 319.6,44.1 319.7,42.8 319.8,43.5 319.9,40.8 320,36 320.1,33.7 320.2,33.4 320.3,34.7 320.4,33.8 320.5,35.4 320.6,34.7 320.7,34.7 320.8,35.4 320.9,36.9 321,37.6 321.1,35.6 321.2,34.7 321.3,34 321.4,34.9 321.5,35.6 321.6,33.1 321.7,34 321.8,32.9 321.9,34.4 322,32.4 322.1,34.9 322.2,33.7 322.3,34.5 322.4,35.8 322.5,35.2 322.6,35.9 322.7,38.2 322.8,40.9 322.9,44.7 323,44 323.1,41.5 323.2,42.3 323.3,42.7 323.4,47.7 323.5,44.7 323.6,41.2 323.7,42.3 323.8,42 323.9,43.1 324,40.4 324.1,40.2 324.2,39.6 324.3,38 324.4,38.9 324.5,37.8 324.6,27.9 324.7,33.6 324.8,34.5 324.9,32.1 325,32.4 325.1,33 325.2,33 325.3,32.8 325.4,32.8 325.5,34.7 325.6,30.8 325.7,32.6 325.8,32.1 325.9,33.7 326,33.7 326.1,35.7 326.2,36.8 326.3,40.9 326.4,39.1 326.5,56.3 326.6,42 326.7,39.7 326.8,38.7 326.9,35.9 327,28.4 327.1,36.6 327.2,37 327.3,34.9 327.4,34.3 327.5,33.2 327.6,35.3 327.7,31.9 327.8,34 327.9,33.8 328,34.9 328.1,34.3 328.2,33.5 328.3,35.8 328.4,34.8 328.5,38.9 328.6,39.6 328.7,40.7 328.8,42.5 328.9,44.7 329,43.1 329.1,46.4 329.2,43.8 329.3,45.6 329.4,44.2 329.5,46.1 329.6,43.4 329.7,45.6 329.8,44.6 329.9,43.4 330,43.6 330.1,40.9 330.2,38.6 330.3,37.4 330.4,35.4 330.5,34.7 330.6,34.1 330.7,34.7 330.8,33.3 330.9,32.6 331,34.2 331.1,33.4 331.2,33.3 331.3,33.8 331.4,37.7 331.5,37.2 331.6,40.3 331.7,39.2 331.8,40.3 331.9,43.8 332,53.2 332.1,41.9 332.2,41.2 332.3,39.4 332.4,40.3 332.5,37.3 332.6,38.5 332.7,36.3 332.8,39.5 332.9,37.3 333,37.1 333.1,33.8 333.2,35.1 333.3,33.6 333.4,32.8 333.5,32.5 333.6,34 333.7,33.2 333.8,32.7 333.9,32.7 334,32.8 334.1,33.2 334.2,33.8 334.3,33.3 334.4,34 334.5,33.2 334.6,35.9 334.7,36.7 334.8,35.3 334.9,36.4 335,33.7 335.1,34.5 335.2,36.2 335.3,36.7 335.4,37.5 335.5,53.2 335.6,41 335.7,42.8 335.8,41.9 335.9,39.7 336,39.1 336.1,39.1 336.2,37.8 336.3,37.3 336.4,36.2 336.5,35.7 336.6,35.5 336.7,36.9 336.8,34.6 336.9,35.6 337,36.3 337.1,32.9 337.2,34.7 337.3,33.3 337.4,52.4 337.5,34.7 337.6,33.4 337.7,33.6 337.8,35 337.9,35.8 338,35.1 338.1,33.9 338.2,34.8 338.3,32.6 338.4,32 338.5,33.5 338.6,29.8 338.7,33.4 338.8,34.5 338.9,34.5 339,36 339.1,36.8 339.2,29.1 339.3,39 339.4,39 339.5,40.2 339.6,37.2 339.7,38.7 339.8,37 339.9,35.7 340,36.2 340.1,35.7 340.2,57.8 340.3,35.1 340.4,36.5 340.5,35 340.6,34.6 340.7,32.1 340.8,32.8 340.9,34.2 341,33.7 341.1,33.3 341.2,33.4 341.3,34.7 341.4,28.9 341.5,33.2 341.6,32.9 341.7,35.4 341.8,33.3 341.9,34.9 342,37.3 342.1,37.2 342.2,39.4 342.3,40.6 342.4,41.8 342.5,42.7 342.6,38 342.7,37.2 342.8,26.7 342.9,36.7 343,33.8 343.1,35.3 343.2,35.1 343.3,35.7 343.4,34.5 343.5,35.2 343.6,50 343.7,37.9 343.8,38.1 343.9,36.9 344,39 344.1,36.8 344.2,38.9 344.3,35.3 344.4,35.2 344.5,35 344.6,33.5 344.7,32.5 344.8,32.7 344.9,33.2 345,32.6 345.1,34.9 345.2,32.5 345.3,33.7 345.4,33.8 345.5,33.2 345.6,32 345.7,33.5 345.8,33.9 345.9,33.2 346,33 346.1,30.9 346.2,31.9 346.3,32.8 346.4,33.2 346.5,33.7 346.6,32.7 346.7,33.2 346.8,32 346.9,33.6 347,56.3 347.1,32.9 347.2,33.9 347.3,32.7 347.4,32.6 347.5,32.8 347.6,35.2 347.7,31.9 347.8,33.9 347.9,33.5 348,33.8 348.1,32.1 348.2,34 348.3,33.8 348.4,33 348.5,33 348.6,33.7 348.7,35 348.8,33.1 348.9,36.5 349,35.6 349.1,37.5 349.2,36.7 349.3,40 349.4,38.8 349.5,40.4 349.6,38 349.7,37.6 349.8,38.6 349.9,37.5 350,36.4 350.1,36.6 350.2,35.4 350.3,34.4 350.4,32.8 350.5,32.2 350.6,34.5 350.7,34 350.8,32.4 350.9,33.6 351,32.9 351.1,33.2 351.2,34.2 351.3,32 351.4,34 351.5,34.4 351.6,34.1 351.7,35.1 351.8,34.5 351.9,36.4 352,37.6 352.1,38.3 352.2,37 352.3,37.6 352.4,35.8 352.5,34.9 352.6,33.5 352.7,33.8 352.8,33.3 352.9,35.4 353,32.8 353.1,34.1 353.2,33 353.3,31.7 353.4,33.6 353.5,34.5 353.6,34.4 353.7,34.9 353.8,34.2 353.9,36.3 354,36.2 354.1,41 354.2,42.1 354.3,39.6 354.4,38.9 354.5,36 354.6,34.5 354.7,33.5 354.8,32.2 354.9,32.7 355,33.8 355.1,33 355.2,34.1 355.3,28.7 355.4,34.1 355.5,33.1 355.6,35.4 355.7,33.5 355.8,34.1 355.9,33 356,34.4 356.1,32.6 356.2,33.9 356.3,35.1 356.4,33.5 356.5,30.9 356.6,34 356.7,33.4 356.8,34.2 356.9,34.8 357,37.2 357.1,38.6 357.2,39.9 357.3,40.2 357.4,41.1 357.5,40.1 357.6,35 357.7,34.8 357.8,31.4 357.9,33.4 358,33.8 358.1,32.7 358.2,31.4 358.3,32.5 358.4,43.8 358.5,33.3 358.6,33.1 358.7,32.8 358.8,30.8 358.9,31.8 359,32.6 359.1,32.6 359.2,31.3 359.3,33.9 359.4,34.4 359.5,36.7 359.6,38.7 359.7,38.3 359.8,39.1 359.9,39.9 360,38.6 360.1,39.2 360.2,37.7 360.3,36.9 360.4,37.5 360.5,35.6 360.6,34.4 360.7,35.6 360.8,33.2 360.9,32.9 361,32.5 361.1,35.2 361.2,32.9 361.3,33.4 361.4,32.6 361.5,34.1 361.6,34.6 361.7,32.4 361.8,33.6 361.9,34.4 362,34.2 362.1,32.6 362.2,34.5 362.3,31.3 362.4,32.6 362.5,32.1 362.6,30.8 362.7,33.3 362.8,32 362.9,33.7 363,35.7 363.1,36.5 363.2,41 363.3,41.4 363.4,41.3 363.5,42.4 363.6,41.4 363.7,39.3 363.8,38.4 363.9,38.2 364,36.6 364.1,33.1 364.2,28.6 364.3,34.2 364.4,34.2 364.5,32.7 364.6,32.8 364.7,22 364.8,34.7 364.9,36.1 365,36 365.1,36.2 365.2,35.8 365.3,35.8 365.4,35.4 365.5,34.6 365.6,34 365.7,35.9 365.8,35.2 365.9,34.7 366,33.5 366.1,35 366.2,34.4 366.3,35.2 366.4,35 366.5,37.3 366.6,35.1 366.7,60.2 366.8,36.3 366.9,36.5 367,36.9 367.1,33.1 367.2,34.7 367.3,34.9 367.4,34.1 367.5,35.8 367.6,36.4 367.7,36.8 367.8,36.7 367.9,35.9 368,37.4 368.1,36.2 368.2,33.3 368.3,35.8 368.4,35.4 368.5,36.6 368.6,36.3 368.7,37.5 368.8,40.3 368.9,38 369,36.4 369.1,37.2 369.2,37.3 369.3,52.4 369.4,37.2 369.5,38 369.6,38.9 369.7,39.8 369.8,38.1 369.9,38.8 370,36.5 370.1,37.9 370.2,36.3 370.3,35.6 370.4,36.6 370.5,36.6 370.6,37.7 370.7,34.4 370.8,36 370.9,36.8 371,35.7 371.1,36.5 371.2,36.2 371.3,38.1 371.4,38.3 371.5,35.6 371.6,37.1 371.7,39.2 371.8,41.6 371.9,43.5 372,45.1 372.1,47.8 372.2,49 372.3,48.3 372.4,47.1 372.5,45.9 372.6,43.1 372.7,31.2 372.8,41.1 372.9,38.4 373,40.5 373.1,39.4 373.2,40.6 373.3,39.7 373.4,38.8 373.5,38.6 373.6,36 373.7,25.1 373.8,35.1 373.9,36.6 374,35.9 374.1,35.9 374.2,35.7 374.3,36.9 374.4,36.6 374.5,36.1 374.6,35.8 374.7,37.9 374.8,37.5 374.9,34.9 375,37.2 375.1,36.5 375.2,36.3 375.3,36.4 375.4,34.6 375.5,38.3 375.6,37.9 375.7,36 375.8,36 375.9,36.1 376,35.3 376.1,36.4 376.2,35.9 376.3,34.9 376.4,35.4 376.5,35.3 376.6,35.3 376.7,35.5 376.8,36.5 376.9,35.4 377,34.3 377.1,37.2 377.2,35.3 377.3,37.2 377.4,36 377.5,36.3 377.6,35 377.7,35.9 377.8,35.4 377.9,35.7 378,36.2 378.1,35.4 378.2,36.5 378.3,34.3 378.4,34.6 378.5,36 378.6,36.1 378.7,36.6 378.8,37.1 378.9,36.1 379,36.5 379.1,36.1 379.2,36.2 379.3,36 379.4,36.1 379.5,57 379.6,36 379.7,38 379.8,38.5 379.9,38.3 380,35.7 380.1,35.5 380.2,36.3 380.3,35 380.4,34.8 380.5,35.9 380.6,34.8 380.7,35.8 380.8,35 380.9,34.4 381,33.8 381.1,35.9 381.2,34.7 381.3,33.8 381.4,33.2 381.5,33.5 381.6,34.3 381.7,35.9 381.8,33.9 381.9,35.2 382,35.3 382.1,32 382.2,33.9 382.3,35.9 382.4,33.3 382.5,36.5 382.6,35.8 382.7,34.7 382.8,38.8 382.9,37.6 383,39.8 383.1,39 383.2,38.3 383.3,27.5 383.4,40.8 383.5,40.5 383.6,38.3 383.7,39.5 383.8,64.8 383.9,36.3 384,38.2 384.1,36.7 384.2,41.1 384.3,37.2 384.4,38 384.5,41.3 384.6,41.7 384.7,43 384.8,43 384.9,44.8 385,43.9 385.1,42.8 385.2,40.8 385.3,38.7 385.4,38.7 385.5,35.3 385.6,35.6 385.7,36 385.8,35.5 385.9,34.1 386,31.8 386.1,34.7 386.2,35.2 386.3,34.6 386.4,36.2 386.5,36.5 386.6,34.3 386.7,36.1 386.8,35.9 386.9,37.7 387,36.9 387.1,35.5 387.2,35.6 387.3,35.5 387.4,33.7 387.5,34.1 387.6,34.3 387.7,52.4 387.8,35.5 387.9,37.7 388,38.4 388.1,40.8 388.2,44.5 388.3,45.8 388.4,45.4 388.5,40 388.6,39.7 388.7,36.3 388.8,35 388.9,34.2 389,34.3 389.1,34.2 389.2,31.2 389.3,30.6 389.4,34.5 389.5,33.6 389.6,31.9"/>
<polyline fill="none" stroke="#000" stroke-width="0.95" stroke-linejoin="round" clip-path="url(#c1)" stroke-opacity="0.8" points="254.1,40.8 254.6,41.7 255.1,36.7 255.6,39 256.1,37.4 256.6,35.4 257.1,37.4 257.6,40 258.1,33.1 258.6,35.7 259.1,33.1 259.6,34.2 260.1,33.1 260.6,33.3 261.1,31.9 261.6,30.8 262.1,34 262.6,31.6 263.1,31.7 263.6,28.5 264.1,32.5 264.6,32.9 265.1,34.7 265.6,37.1 266.1,33.5 266.6,38.8 267.1,37.2 267.6,39.2 268.1,40.8 268.6,42.3 269.1,41.1 269.6,41 270.1,42.4 270.6,40.2 271.1,42.6 271.6,43.5 272.1,41.9 272.6,42.2 273.1,39.5 273.6,42.5 274.1,41.7 274.6,40.5 275.1,41.6 275.6,38 276.1,36.6 276.6,37.2 277.1,35.2 277.6,36.5 278.1,34.7 278.6,34.6 279.1,34.2 279.6,32.1 280.1,31.6 280.6,32.1 281.1,35.1 281.6,33.8 282.1,31.2 282.6,33.3 283.1,32.9 283.6,31.6 284.1,32.5 284.6,32.9 285.1,33.5 285.6,33.4 286.1,32.5 286.6,32.8 287.1,33.4 287.6,34 288.1,33.3 288.6,33.3 289.1,34.1 289.6,33.9 290.1,34.4 290.6,33.8 291.1,34.1 291.6,32.4 292.1,32.7 292.6,32.6 293.1,33.1 293.6,33.7 294.1,33.4 294.6,33.8 295.1,33.1 295.6,34.1 296.1,34 296.6,32.5 297.1,32.9 297.6,33.1 298.1,34 298.6,34 299.1,34.6 299.6,32.6 300.1,33.6 300.6,33.5 301.1,33.3 301.6,33.4 302.1,32.2 302.6,33.7 303.1,33.2 303.6,32.7 304.1,34.3 304.6,33.1 305.1,33.6 305.6,33.1 306.1,32.5 306.6,33.2 307.1,33.7 307.6,32.9 308.1,33.8 308.6,34.5 309.1,34.2 309.6,33.3 310.1,33 310.6,34 311.1,32.6 311.6,32.9 312.1,34.5 312.6,33.7 313.1,33.8 313.6,33.3 314.1,35.2 314.6,35.4 315.1,33.4 315.6,34 316.1,33.4 316.6,33.8 317.1,34.4 317.6,34.3 318.1,33.4 318.6,33.8 319.1,35.3 319.6,34.1 320.1,34.4 320.6,33.9 321.1,33.5 321.6,32.9 322.1,33 322.6,32.5 323.1,32.9 323.6,33 324.1,34 324.6,32.5 325.1,33.8 325.6,32.4 326.1,35.2 326.6,33.2 327.1,33.7 327.6,34.6 328.1,33.4 328.6,33.6 329.1,33.6 329.6,33.9 330.1,33.3 330.6,34.6 331.1,34.3 331.6,33.6 332.1,34.3 332.6,33.5 333.1,33.2 333.6,33.5 334.1,33.8 334.6,32.6 335.1,33.4 335.6,33.8 336.1,32.9 336.6,33.8 337.1,32.9 337.6,33.7 338.1,33.5 338.6,33.8 339.1,33.1 339.6,32.3 340.1,32 340.6,35.8 341.1,32.6 341.6,33 342.1,32.5 342.6,34.4 343.1,34 343.6,34.1 344.1,32.8 344.6,34.2 345.1,33.1 345.6,34.3 346.1,33.5 346.6,32.1 347.1,33.5 347.6,33 348.1,35 348.6,32.7 349.1,33.3 349.6,33.4 350.1,33 350.6,33.1 351.1,33.5 351.6,33.7 352.1,33.3 352.6,33.4 353.1,33.5 353.6,32.9 354.1,33.4 354.6,33.5 355.1,34.2 355.6,33.9 356.1,33.8 356.6,34.1 357.1,32.3 357.6,33.2 358.1,32.1 358.6,32 359.1,31.6 359.6,32 360.1,31 360.6,31.5 361.1,30.8 361.6,30.9 362.1,31.6 362.6,31 363.1,32.4 363.6,31.4 364.1,31.8 364.6,33.5 365.1,32.6 365.6,34.7 366.1,34.8 366.6,35.5 367.1,36.1 367.6,35.6 368.1,37.4 368.6,36.9 369.1,37.1 369.6,37.3 370.1,37.6 370.6,37.1 371.1,36.3 371.6,36 372.1,35.9 372.6,36.4 373.1,37.3 373.6,35.8 374.1,36.3 374.6,36.9 375.1,36.3 375.6,36.3 376.1,35.7 376.6,36.5 377.1,36 377.6,35.9 378.1,36 378.6,36.3 379.1,36.5 379.6,35 380.1,35.9 380.6,34.7 381.1,34.1 381.6,34.7 382.1,35 382.6,34.8 383.1,35 383.6,33.5 384.1,35.5 384.6,35.1 385.1,35 385.6,33.5 386.1,34.7 386.6,34.1 387.1,34 387.6,34.3 388.1,33.2 388.6,34.8 389.1,34.7"/>
<polyline fill="none" stroke="#000" stroke-width="0.4" stroke-linejoin="round" clip-path="url(#c1)" points="417.5,35.2 417.6,33.3 417.7,33.5 417.8,34.5 417.9,32.5 418,32.2 418.1,35 418.2,29 418.3,33.6 418.4,31 418.5,32.4 418.6,32.3 418.7,32 418.8,33.2 418.9,31.8 419,31.5 419.1,35.1 419.2,33.4 419.3,31.7 419.4,35.3 419.5,53.2 419.6,33.3 419.7,29.8 419.8,34.6 419.9,33.1 420,34.3 420.1,34.9 420.2,31.4 420.3,35.1 420.4,33.9 420.5,33.2 420.6,30.6 420.7,35.9 420.8,34.9 420.9,36.9 421,37.1 421.1,41.7 421.2,43.6 421.3,45.2 421.4,41.3 421.5,37.7 421.6,37.1 421.7,34.6 421.8,34.7 421.9,33.5 422,33.5 422.1,52.4 422.2,35 422.3,33 422.4,31.1 422.5,32.9 422.6,32.7 422.7,32.8 422.8,32.8 422.9,32.9 423,30.4 423.1,33.5 423.2,33.5 423.3,33.3 423.4,32.9 423.5,34.1 423.6,31.3 423.7,33.5 423.8,34.7 423.9,34.1 424,35.1 424.1,36.8 424.2,35.5 424.3,34.5 424.4,34.6 424.5,35 424.6,32.9 424.7,33.7 424.8,32.9 424.9,33.2 425,33.9 425.1,33.8 425.2,33.1 425.3,33.4 425.4,34.2 425.5,32.5 425.6,33.6 425.7,32 425.8,34.7 425.9,33.3 426,31.8 426.1,32.8 426.2,34.4 426.3,43.8 426.4,32.3 426.5,36.5 426.6,34.9 426.7,35 426.8,34 426.9,33.2 427,32.2 427.1,25.1 427.2,34.5 427.3,34.9 427.4,36.6 427.5,36.5 427.6,35.1 427.7,35.6 427.8,36.8 427.9,33.4 428,36.8 428.1,33.5 428.2,37.2 428.3,35.4 428.4,34.2 428.5,38.1 428.6,39.7 428.7,41.2 428.8,43.6 428.9,44.9 429,41.5 429.1,45.4 429.2,42.7 429.3,41.1 429.4,39.8 429.5,37.1 429.6,34.2 429.7,35.4 429.8,33.4 429.9,33.6 430,32.3 430.1,32.9 430.2,32 430.3,35.2 430.4,32.6 430.5,34.9 430.6,31.4 430.7,33.9 430.8,33.8 430.9,29.5 431,36.3 431.1,39.3 431.2,40.4 431.3,36.2 431.4,36.9 431.5,49.3 431.6,33.4 431.7,33.8 431.8,34.5 431.9,34 432,33 432.1,34.4 432.2,31.8 432.3,32.1 432.4,33.1 432.5,31.2 432.6,34.8 432.7,33.1 432.8,32.9 432.9,33.7 433,31.7 433.1,33.1 433.2,31.3 433.3,33.1 433.4,33.5 433.5,35.3 433.6,33.5 433.7,35 433.8,33.4 433.9,31.5 434,34.1 434.1,33.3 434.2,32.4 434.3,34.1 434.4,31.8 434.5,32.6 434.6,33.8 434.7,34 434.8,32.3 434.9,33.3 435,33.1 435.1,33.7 435.2,32.7 435.3,30.6 435.4,32.6 435.5,34.7 435.6,32 435.7,32.8 435.8,33.9 435.9,32.7 436,31.8 436.1,33 436.2,32.8 436.3,32.1 436.4,33 436.5,31.7 436.6,31.5 436.7,32.1 436.8,33.4 436.9,33.9 437,33.7 437.1,36.2 437.2,36.4 437.3,36.5 437.4,38.5 437.5,39.5 437.6,39.1 437.7,37.8 437.8,39.3 437.9,39.4 438,37.9 438.1,36.6 438.2,36.3 438.3,35.7 438.4,32.6 438.5,36 438.6,33.9 438.7,36 438.8,33.9 438.9,33.2 439,35.7 439.1,35.6 439.2,37.1 439.3,35.9 439.4,35.6 439.5,34.6 439.6,33.8 439.7,34.4 439.8,32 439.9,33.4 440,34.3 440.1,31.9 440.2,32.8 440.3,32.1 440.4,32.6 440.5,33.2 440.6,33.8 440.7,34.1 440.8,32.5 440.9,34.2 441,32.9 441.1,32.4 441.2,32.5 441.3,31.3 441.4,33.3 441.5,31.1 441.6,33.3 441.7,36 441.8,32 441.9,30.6 442,33.5 442.1,32 442.2,33.3 442.3,33.6 442.4,34.2 442.5,37 442.6,35.2 442.7,35.5 442.8,35.3 442.9,34.7 443,35 443.1,34.6 443.2,36.8 443.3,35.3 443.4,35.7 443.5,34.6 443.6,36.3 443.7,33.3 443.8,33.9 443.9,32.5 444,34.7 444.1,33.5 444.2,34 444.3,32.3 444.4,34.4 444.5,35.7 444.6,35.4 444.7,40.7 444.8,34.8 444.9,32.8 445,31.6 445.1,32 445.2,34.9 445.3,33.5 445.4,33.2 445.5,36.1 445.6,37.7 445.7,38.8 445.8,41.3 445.9,41.5 446,43.9 446.1,43.3 446.2,41.5 446.3,40.7 446.4,40 446.5,37.7 446.6,37.7 446.7,36.9 446.8,36.8 446.9,35.1 447,35.8 447.1,35.6 447.2,36.1 447.3,38.1 447.4,33.3 447.5,33.3 447.6,32 447.7,33.1 447.8,33.8 447.9,35.3 448,32.5 448.1,34.1 448.2,33.6 448.3,33 448.4,32 448.5,32.4 448.6,33.6 448.7,34.8 448.8,34.5 448.9,34.6 449,37.1 449.1,36.5 449.2,38.7 449.3,40.8 449.4,36.5 449.5,38.1 449.6,35.4 449.7,36.1 449.8,36.1 449.9,36.7 450,35.4 450.1,37.4 450.2,43 450.3,37.5 450.4,39 450.5,40.4 450.6,41.6 450.7,45.5 450.8,44.6 450.9,48 451,48.9 451.1,51.6 451.2,48.8 451.3,48.5 451.4,46 451.5,39 451.6,40.5 451.7,39 451.8,38.1 451.9,34.3 452,35.1 452.1,36.9 452.2,34.8 452.3,35.9 452.4,38.3 452.5,39 452.6,40.1 452.7,39.7 452.8,38.1 452.9,35.9 453,35.4 453.1,35.3 453.2,35 453.3,34 453.4,34.5 453.5,32.5 453.6,32.7 453.7,31.7 453.8,35.4 453.9,32.9 454,48.5 454.1,34.6 454.2,33.5 454.3,32.9 454.4,32.5 454.5,32.8 454.6,31.1 454.7,32.5 454.8,34.1 454.9,34.3 455,36.9 455.1,38.2 455.2,36.8 455.3,34.5 455.4,34.4 455.5,35.6 455.6,34.6 455.7,33.9 455.8,36.7 455.9,35.8 456,36.8 456.1,34.5 456.2,33 456.3,34.6 456.4,34.8 456.5,36.2 456.6,41.2 456.7,40.6 456.8,37.6 456.9,34.7 457,34.4 457.1,34.2 457.2,33.5 457.3,34.5 457.4,33.5 457.5,33.7 457.6,30.9 457.7,34.6 457.8,32.5 457.9,34.2 458,31.5 458.1,32.7 458.2,36.2 458.3,27.5 458.4,39.2 458.5,39.2 458.6,40.6 458.7,47.7 458.8,36.7 458.9,34.7 459,33.1 459.1,37.9 459.2,35.6 459.3,37 459.4,37.4 459.5,35.9 459.6,38.4 459.7,36.7 459.8,34.5 459.9,34 460,32.4 460.1,33.5 460.2,33.8 460.3,32.7 460.4,33.7 460.5,33.2 460.6,34.2 460.7,33.5 460.8,33.3 460.9,32.5 461,31.9 461.1,32.2 461.2,33.6 461.3,32.5 461.4,34.8 461.5,34 461.6,31.5 461.7,33.6 461.8,34.5 461.9,32.3 462,34.5 462.1,32.2 462.2,34.9 462.3,33.7 462.4,32.8 462.5,31.1 462.6,33 462.7,32.4 462.8,34.2 462.9,33 463,34.4 463.1,32.9 463.2,33.9 463.3,34.1 463.4,22.8 463.5,33.9 463.6,34.8 463.7,32.7 463.8,34.9 463.9,35.1 464,84.6 464.1,36.3 464.2,38.8 464.3,37.2 464.4,42.4 464.5,43.3 464.6,44.6 464.7,45.7 464.8,42.7 464.9,42.6 465,41 465.1,38.6 465.2,36.7 465.3,37 465.4,34.9 465.5,33.9 465.6,33.7 465.7,34.9 465.8,35.3 465.9,34.3 466,33.6 466.1,31.5 466.2,32.5 466.3,32.2 466.4,32.4 466.5,35.1 466.6,33.4 466.7,35.9 466.8,34.6 466.9,34.3 467,34 467.1,32.3 467.2,33.1 467.3,34.3 467.4,34 467.5,33.3 467.6,33.9 467.7,33.3 467.8,33.6 467.9,36 468,33.4 468.1,31.4 468.2,31 468.3,32.8 468.4,34.1 468.5,35.3 468.6,34.9 468.7,36.4 468.8,39 468.9,39.8 469,43.6 469.1,46.5 469.2,47.2 469.3,47.4 469.4,49.2 469.5,49.7 469.6,48.5 469.7,45.4 469.8,46.4 469.9,45.7 470,45.6 470.1,43.9 470.2,43.4 470.3,44.3 470.4,43.4 470.5,40.3 470.6,37 470.7,35.2 470.8,36 470.9,33.6 471,33.9 471.1,33.4 471.2,33.6 471.3,33.8 471.4,32.3 471.5,32.9 471.6,34.1 471.7,34.2 471.8,32.9 471.9,36.9 472,33.3 472.1,36.2 472.2,33.2 472.3,36.3 472.4,33.5 472.5,37.4 472.6,37.7 472.7,40.1 472.8,40.2 472.9,43.5 473,45.5 473.1,47.1 473.2,47.7 473.3,51 473.4,48.1 473.5,72.1 473.6,49 473.7,51.9 473.8,48.5 473.9,47.6 474,46.3 474.1,45.2 474.2,43.6 474.3,42.4 474.4,41.7 474.5,45.6 474.6,46 474.7,45.7 474.8,40.4 474.9,36 475,32.4 475.1,33.3 475.2,33.7 475.3,34.9 475.4,33.4 475.5,33.9 475.6,33.7 475.7,34.9 475.8,34.3 475.9,33 476,31.3 476.1,34.9 476.2,33.1 476.3,32.1 476.4,31.3 476.5,31 476.6,33.3 476.7,32.9 476.8,33.6 476.9,34.9 477,33.2 477.1,34.8 477.2,34.6 477.3,35.2 477.4,34.1 477.5,35.3 477.6,36.5 477.7,33.8 477.8,34.2 477.9,33.6 478,35.5 478.1,34.8 478.2,32.3 478.3,32.5 478.4,34.3 478.5,33.3 478.6,33.1 478.7,34.4 478.8,33.7 478.9,33.5 479,37.2 479.1,34.3 479.2,32.2 479.3,33.9 479.4,33.7 479.5,35.4 479.6,34.3 479.7,34.1 479.8,36.7 479.9,36.2 480,37.6 480.1,37.8 480.2,35 480.3,32.4 480.4,32.7 480.5,32.5 480.6,33.8 480.7,32.5 480.8,33 480.9,32 481,33.3 481.1,32.7 481.2,34.4 481.3,34.7 481.4,79.3 481.5,37.5 481.6,38.3 481.7,40.3 481.8,44.2 481.9,46.2 482,46.8 482.1,43.8 482.2,42.7 482.3,41.9 482.4,42.4 482.5,42.3 482.6,40.9 482.7,39.4 482.8,38.2 482.9,37.3 483,33.8 483.1,34.9 483.2,34.1 483.3,33.7 483.4,33 483.5,31.1 483.6,33.7 483.7,32.8 483.8,33.8 483.9,35 484,35.2 484.1,35.5 484.2,35 484.3,33 484.4,32.5 484.5,34.7 484.6,32.8 484.7,36.2 484.8,32.5 484.9,33.9 485,33.5 485.1,33.8 485.2,32.3 485.3,57.9 485.4,35.7 485.5,33.1 485.6,31.7 485.7,35.3 485.8,34.8 485.9,34.5 486,32.3 486.1,33.4 486.2,33.9 486.3,32.4 486.4,33.1 486.5,33.9 486.6,34.7 486.7,34.4 486.8,36.1 486.9,39.8 487,41.8 487.1,40.3 487.2,45.8 487.3,44 487.4,45.8 487.5,42.4 487.6,42 487.7,39.5 487.8,39.1 487.9,36.6 488,35.5 488.1,34.5 488.2,33.7 488.3,34.2 488.4,33.1 488.5,27.5 488.6,32.2 488.7,31.9 488.8,32.5 488.9,33.6 489,34.5 489.1,33.2 489.2,29.9 489.3,34.6 489.4,33.1 489.5,33.5 489.6,33.1 489.7,31.3 489.8,34.6 489.9,34.3 490,32.5 490.1,35.9 490.2,34.6 490.3,35.2 490.4,33.5 490.5,35.2 490.6,35.4 490.7,34 490.8,34.1 490.9,31.6 491,34.1 491.1,33.3 491.2,33.2 491.3,34 491.4,34.4 491.5,33.2 491.6,34.3 491.7,35.4 491.8,32.1 491.9,33.5 492,31.5 492.1,33.8 492.2,34.9 492.3,33.2 492.4,32.1 492.5,32.9 492.6,34.1 492.7,32.1 492.8,32.5 492.9,34.9 493,33.1 493.1,35 493.2,33.8 493.3,33.2 493.4,35.9 493.5,36.1 493.6,33.7 493.7,36.9 493.8,34.3 493.9,34.5 494,33.9 494.1,32.4 494.2,34.8 494.3,33.7 494.4,34.1 494.5,33.8 494.6,33.1 494.7,36.3 494.8,34.1 494.9,33.4 495,34.5 495.1,32.4 495.2,34.3 495.3,37 495.4,33.2 495.5,34.6 495.6,32.8 495.7,34.2 495.8,35.6 495.9,33.2 496,33.4 496.1,36 496.2,35.3 496.3,36.1 496.4,36.4 496.5,34.8 496.6,34.8 496.7,35.1 496.8,38.2 496.9,36.3 497,36 497.1,37.3 497.2,37.4 497.3,30.6 497.4,34.6 497.5,37.7 497.6,34.7 497.7,35.7 497.8,35.4 497.9,34.5 498,36.4 498.1,36.9 498.2,38.7 498.3,40.7 498.4,42.2 498.5,42.1 498.6,42.9 498.7,42.3 498.8,41 498.9,42.5 499,40.3 499.1,39.3 499.2,37.7 499.3,37.7 499.4,36 499.5,38.9 499.6,48.5 499.7,36 499.8,37.8 499.9,40.1 500,38.4 500.1,41.5 500.2,42.1 500.3,44 500.4,44.1 500.5,44.9 500.6,44.6 500.7,43.7 500.8,39.8 500.9,40.8 501,38.7 501.1,36.8 501.2,36.6 501.3,37.9 501.4,35.4 501.5,34.4 501.6,36.1 501.7,48.5 501.8,36 501.9,35.5 502,36.7 502.1,34.4 502.2,34.6 502.3,36.3 502.4,37 502.5,35.2 502.6,36.3 502.7,35.4 502.8,23.6 502.9,32.9 503,37.2 503.1,36.1 503.2,32.1 503.3,35.8 503.4,34.2 503.5,33.7 503.6,34 503.7,35.4 503.8,34.4 503.9,34.1 504,34.1 504.1,33.9 504.2,34.9 504.3,31.9 504.4,32.6 504.5,34 504.6,32.8 504.7,34.4 504.8,33.9 504.9,35.1 505,34.9 505.1,36.4 505.2,36.4 505.3,37.8 505.4,36.9 505.5,35.1 505.6,36.7 505.7,36 505.8,34.8 505.9,36.1 506,35.5 506.1,37.1 506.2,35.5 506.3,36.3 506.4,38.3 506.5,40.6 506.6,39.3 506.7,41.6 506.8,41.6 506.9,41.3 507,42.3 507.1,41.9 507.2,42 507.3,41.8 507.4,44.3 507.5,42.9 507.6,44 507.7,39 507.8,37.7 507.9,37.8 508,36.5 508.1,37 508.2,35.7 508.3,38.8 508.4,33.9 508.5,34.4 508.6,34.9 508.7,38 508.8,34.1 508.9,34.5 509,27.8 509.1,31.3 509.2,34.6 509.3,33.8 509.4,35 509.5,35 509.6,33.8 509.7,34.5 509.8,32.5 509.9,31.9 510,32.9 510.1,33.4 510.2,32.9 510.3,33.8 510.4,34 510.5,35.3 510.6,33.2 510.7,32.8 510.8,34 510.9,33.7 511,34.1 511.1,35.4 511.2,32.4 511.3,34.2 511.4,34.9 511.5,34.8 511.6,31.6 511.7,32.9 511.8,34.7 511.9,33.3 512,33.8 512.1,33.2 512.2,34.8 512.3,33.7 512.4,33.3 512.5,34 512.6,36 512.7,35.6 512.8,34.1 512.9,34.7 513,39.2 513.1,37.8 513.2,41 513.3,40.9 513.4,42.4 513.5,41.2 513.6,38.7 513.7,42 513.8,39.1 513.9,37.6 514,38.3 514.1,36.3 514.2,35.9 514.3,33.8 514.4,33.8 514.5,33.9 514.6,32.6 514.7,34.2 514.8,33.8 514.9,33.1 515,33.2 515.1,34.9 515.2,34 515.3,35 515.4,35 515.5,34.4 515.6,30.9 515.7,34.7 515.8,34.9 515.9,33 516,32.7 516.1,34.3 516.2,31.8 516.3,34.5 516.4,33.7 516.5,34.7 516.6,33 516.7,33.3 516.8,33.5 516.9,31.6 517,32.7 517.1,35.9 517.2,34.7 517.3,34.5 517.4,35.3 517.5,35.8 517.6,33.9 517.7,33.5 517.8,33.6 517.9,44.2 518,31.6 518.1,33.7 518.2,33.7 518.3,34.4 518.4,34.4 518.5,33.9 518.6,35.5 518.7,33.3 518.8,33.1 518.9,35.1 519,23.2 519.1,32.6 519.2,32.7 519.3,33.5 519.4,32.2 519.5,35.2 519.6,34.6 519.7,35.9 519.8,33.6 519.9,34.7 520,34.1 520.1,34.6 520.2,34 520.3,34.5 520.4,34.8 520.5,33.1 520.6,34.5 520.7,34 520.8,33.5 520.9,34 521,31.3 521.1,32.6 521.2,33.1 521.3,32.4 521.4,31.9 521.5,34.2 521.6,34.2 521.7,35.3 521.8,32.9 521.9,32.5 522,37.2 522.1,36.5 522.2,34.7 522.3,35.1 522.4,33.4 522.5,31.2 522.6,33.1 522.7,31.1 522.8,33.6 522.9,31.6 523,31.3 523.1,33.8 523.2,34.1 523.3,32.9 523.4,32.1 523.5,34.5 523.6,34.6 523.7,35.8 523.8,36.5 523.9,37.1 524,40.6 524.1,45.5 524.2,45.8 524.3,48.4 524.4,49.4 524.5,49.9 524.6,47.3 524.7,43.9 524.8,43.8 524.9,28.4 525,37.5 525.1,34.9 525.2,33 525.3,34.6 525.4,33.4 525.5,34.2 525.6,31.5 525.7,36.3 525.8,35 525.9,36.4 526,34.8 526.1,36.4 526.2,36.7 526.3,37.6 526.4,36.9 526.5,33.3 526.6,35.3"/>
<polyline fill="none" stroke="#000" stroke-width="1.5" stroke-linejoin="round" clip-path="url(#c1)" stroke-opacity="0.8" points="417.8,33 418.3,32.9 418.8,32 419.3,32.6 419.8,33.5 420.3,33 420.8,33.6 421.3,32.4 421.8,33.6 422.3,33.5 422.8,32.2 423.3,32.8 423.8,32.9 424.3,31.8 424.8,32.8 425.3,32.8 425.8,32.4 426.3,32.2 426.8,32.2 427.3,32.6 427.8,33.3 428.3,32 428.8,33.1 429.3,33.4 429.8,32.9 430.3,32.7 430.8,33.4 431.3,32.5 431.8,33.6 432.3,33.3 432.8,32.6 433.3,33.1 433.8,32.4 434.3,32.4 434.8,33.5 435.3,32.4 435.8,31.6 436.3,33.5 436.8,32.7 437.3,32.7 437.8,33.9 438.3,32.5 438.8,32.8 439.3,31.3 439.8,31.7 440.3,32.2 440.8,33.6 441.3,33.1 441.8,32.6 442.3,34.5 442.8,34 443.3,34.5 443.8,34.9 444.3,35.6 444.8,34 445.3,34.8 445.8,32.9 446.3,33.9 446.8,34.2 447.3,32.9 447.8,33.8 448.3,33.9 448.8,34.6 449.3,33.7 449.8,33.5 450.3,33.2 450.8,33.8 451.3,33.7 451.8,34 452.3,34.3 452.8,35.4 453.3,35.1 453.8,35.8 454.3,36 454.8,36.1 455.3,36.3 455.8,35.5 456.3,34 456.8,34.9 457.3,34.6 457.8,34.2 458.3,33.6 458.8,31.8 459.3,32.4 459.8,32.8 460.3,32.7 460.8,32.2 461.3,32.3 461.8,31.7 462.3,32.7 462.8,31.4 463.3,32.6 463.8,33.4 464.3,32.1 464.8,33.7 465.3,34.1 465.8,33.3 466.3,32.6 466.8,32.4 467.3,31.7 467.8,32.7 468.3,31.5 468.8,32.2 469.3,31.5 469.8,32.6 470.3,31.6 470.8,32.5 471.3,32.5 471.8,33.9 472.3,33.4 472.8,33.7 473.3,34.7 473.8,33.5 474.3,33.6 474.8,34.7 475.3,34.6 475.8,36.4 476.3,35.5 476.8,35.3 477.3,34.6 477.8,32.6 478.3,35 478.8,34 479.3,32.7 479.8,33.1 480.3,33.6 480.8,34.4 481.3,34 481.8,34.2 482.3,34.6 482.8,34.2 483.3,34.6 483.8,35.2 484.3,34.5 484.8,35.4 485.3,35.7 485.8,33.6 486.3,34.5 486.8,33.9 487.3,33.5 487.8,33.9 488.3,31.8 488.8,33.8 489.3,33.2 489.8,34.6 490.3,33.2 490.8,34 491.3,33.9 491.8,34.4 492.3,33.5 492.8,33.5 493.3,33.6 493.8,33.9 494.3,32.6 494.8,33.2 495.3,33.1 495.8,33.9 496.3,34.3 496.8,32.9 497.3,33.1 497.8,33.5 498.3,33 498.8,34.6 499.3,34.9 499.8,34.5 500.3,34.5 500.8,33.6 501.3,33.7 501.8,34.6 502.3,35.3 502.8,34.3 503.3,35 503.8,36.2 504.3,36.6 504.8,35.1 505.3,35.6 505.8,35.4 506.3,33.4 506.8,33.6 507.3,33.8 507.8,33.5 508.3,34.4 508.8,34 509.3,33.3 509.8,33.6 510.3,32.9 510.8,33.2 511.3,34.1 511.8,33.6 512.3,33.4 512.8,33.6 513.3,32.2 513.8,33 514.3,34.1 514.8,35.8 515.3,35.7 515.8,35.9 516.3,36.3 516.8,35.3 517.3,34.2 517.8,34.9 518.3,33.6 518.8,33.4 519.3,32 519.8,32 520.3,33.1 520.8,33 521.3,33.7 521.8,33 522.3,33.6 522.8,34 523.3,34.2 523.8,33.6 524.3,33.8 524.8,33.4 525.3,33.2 525.8,33.2 526.3,33.4"/>
<polyline fill="none" stroke="#000" stroke-width="0.42" stroke-linejoin="round" clip-path="url(#c2)" points="54.5,194.5 54.7,196.2 54.9,187.9 55,184 55.2,193.3 55.4,201.4 55.6,203.6 55.8,198.2 55.9,223.4 56.1,200.5 56.3,218.2 56.5,217.1 56.7,219.7 56.8,222.2 57,219.2 57.2,214.2 57.4,215.2 57.6,215.7 57.7,220.4 57.9,213 58.1,228 58.3,216 58.5,217 58.6,212.8 58.8,209.5 59,235.7 59.2,219.8 59.4,221.1 59.5,226.7 59.7,235.6 59.9,213.5 60.1,212.3 60.3,215 60.4,217.7 60.6,221.3 60.8,216.3 61,216 61.2,238.6 61.3,205.8 61.5,200.8 61.7,209.3 61.9,205.3 62.1,183.9 62.2,208.6 62.4,204.6 62.6,197.4 62.8,195 63,190.6 63.1,190.5 63.3,184.2 63.5,190.5 63.7,193.3 63.9,186.9 64,173 64.2,203.6 64.4,200.9 64.6,196.9 64.8,184.2 64.9,182.7 65.1,185.6 65.3,187.6 65.5,182.2 65.7,178.8 65.8,184.5 66,183.2 66.2,186.7 66.4,185.4 66.6,186 66.7,186 66.9,187.4 67.1,182.9 67.3,178.6 67.5,188.1 67.6,177.1 67.8,184.7 68,184.1 68.2,191.8 68.4,192.8 68.5,178.1 68.7,186 68.9,177 69.1,180.1 69.3,178.9 69.4,174 69.6,180.1 69.8,194.3 70,187.2 70.2,174.8 70.3,170.2 70.5,179.7 70.7,182.8 70.9,186 71.1,177.6 71.2,188.4 71.4,185.9 71.6,180 71.8,179.9 72,181.6 72.1,175.7 72.3,186.6 72.5,186.6 72.7,182.9 72.9,180.5 73,182.2 73.2,171.5 73.4,183.6 73.6,177.8 73.8,182.8 73.9,177.9 74.1,181.6 74.3,184.1 74.5,174.6 74.7,179.8 74.8,169.2 75,180.3 75.2,178.8 75.4,171.9 75.6,188.7 75.7,185.4 75.9,177.8 76.1,176 76.3,176 76.5,180.7 76.6,186.6 76.8,176.7 77,179 77.2,187.1 77.4,182.6 77.5,176.6 77.7,183.7 77.9,188.8 78.1,185.1 78.3,184.9 78.4,181.5 78.6,178.5 78.8,187 79,185.5 79.2,177.7 79.3,178.6 79.5,175.4 79.7,188.4 79.9,185.9 80.1,176.7 80.2,185.3 80.4,179.1 80.6,180.6 80.8,183.8 81,173.5 81.1,180.5 81.3,182.9 81.5,181.5 81.7,179.7 81.9,189.4 82,186.8 82.2,188.3 82.4,192.4 82.6,178.5 82.8,176.5 82.9,178 83.1,191.6 83.3,181.8 83.5,180.4 83.7,186 83.8,179.7 84,188.3 84.2,187.8 84.4,186.3 84.6,185.5 84.7,186.2 84.9,176.8 85.1,185.5 85.3,182.1 85.5,182.6 85.6,207.1 85.8,184.1 86,178.1 86.2,171.3 86.4,184.6 86.5,183.4 86.7,181.3 86.9,185.9 87.1,174.6 87.3,182.9 87.4,176.4 87.6,178.9 87.8,181.8 88,177.8 88.2,183.9 88.3,178.2 88.5,189.3 88.7,187.2 88.9,178.6 89.1,193.4 89.2,181.9 89.4,185.7 89.6,186 89.8,186 90,176.6 90.1,188.8 90.3,177.5 90.5,178.7 90.7,182.3 90.9,180.7 91,177.2 91.2,183.4 91.4,188.4 91.6,181.2 91.8,187.4 91.9,211.6 92.1,184.8 92.3,181.8 92.5,176 92.7,181.6 92.8,181.2 93,176.8 93.2,178.6 93.4,187.5 93.6,185.6 93.7,186.5 93.9,176.6 94.1,174.1 94.3,178.7 94.5,185 94.6,178 94.8,187.5 95,184.7 95.2,191.6 95.4,191.2 95.5,189.4 95.7,181.5 95.9,183 96.1,166.6 96.3,184.1 96.4,176.2 96.6,180.1 96.8,172 97,172.6 97.2,177 97.3,175.4 97.5,174.8 97.7,173.8 97.9,176.6 98.1,171.2 98.2,177.3 98.4,183.6 98.6,176.8 98.8,177.9 99,172.6 99.1,172.3 99.3,173.7 99.5,173.6 99.7,173.5 99.9,176.1 100,201.9 100.2,176.1 100.4,173.2 100.6,181 100.8,174.2 100.9,175.9 101.1,172.4 101.3,174.9 101.5,171.5 101.7,172.5 101.8,167 102,173.2 102.2,172.7 102.4,171.7 102.6,178.7 102.7,176 102.9,166.7 103.1,170.1 103.3,175.2 103.5,175.3 103.6,172.9 103.8,171.9 104,171.9 104.2,177.2 104.4,167 104.5,171.2 104.7,171.7 104.9,174.6 105.1,177.8 105.3,184.1 105.4,173.2 105.6,163 105.8,166.1 106,170.2 106.2,172.5 106.3,169 106.5,167.7 106.7,169.6 106.9,166 107.1,172.5 107.2,164.9 107.4,168 107.6,170.2 107.8,169 108,166.3 108.1,164.3 108.3,166.7 108.5,164.1 108.7,156.8 108.9,171.7 109,172.6 109.2,164.4 109.4,168.1 109.6,164 109.8,171.5 109.9,172.7 110.1,174.8 110.3,174.6 110.5,181.3 110.7,172.9 110.8,163.2 111,157 111.2,167.1 111.4,166.8 111.6,159.6 111.7,165.4 111.9,168.3 112.1,160.7 112.3,171.1 112.5,167.6 112.6,161.7 112.8,167.9 113,162.9 113.2,170.9 113.4,163.5 113.5,165 113.7,160.6 113.9,167.9 114.1,168.4 114.3,167.2 114.4,162.6 114.6,169.3 114.8,166.9 115,159.1 115.2,164.3 115.3,165.5 115.5,169.4 115.7,162.3 115.9,169 116.1,169.9 116.2,167.6 116.4,158.7 116.6,163.1 116.8,166.9 117,164.5 117.1,161.3 117.3,158.4 117.5,168.7 117.7,157.4 117.9,158.7 118,164.5 118.2,163.3 118.4,160 118.6,162.8 118.8,161.2 118.9,165.5 119.1,168.2 119.3,152.3 119.5,160.4 119.7,160.1 119.8,158.8 120,155.7 120.2,157.2 120.4,164.5 120.6,160.8 120.7,160 120.9,157.3 121.1,162.4 121.3,158.7 121.5,159.1 121.6,155 121.8,169.5 122,159.6 122.2,158.8 122.4,157.7 122.5,160.2 122.7,163.2 122.9,158 123.1,159.2 123.3,163.8 123.4,165.5 123.6,158.6 123.8,163.6 124,158.1 124.2,154.9 124.3,159.4 124.5,159.2 124.7,159.5 124.9,155 125.1,155 125.2,160.6 125.4,160.8 125.6,167.7 125.8,173.3 126,169.7 126.1,172.7 126.3,168.7 126.5,166 126.7,156.4 126.9,163.5 127,164.4 127.2,161.3 127.4,157.6 127.6,166.3 127.8,157.9 127.9,158.9 128.1,164.3 128.3,163.9 128.5,160.3 128.7,152.8 128.8,160.4 129,155.7 129.2,156.8 129.4,166.4 129.6,161.2 129.7,157.4 129.9,162 130.1,156.2 130.3,164.7 130.5,166.5 130.6,162.9 130.8,158.4 131,161.5 131.2,156.8 131.4,165.2 131.5,161.8 131.7,155.1 131.9,168.1 132.1,158.5 132.3,162.8 132.4,162.3 132.6,160.9 132.8,164.7 133,156.4 133.2,157.3 133.3,155 133.5,158.8 133.7,162.7 133.9,157.3 134.1,164.2 134.2,163.1 134.4,153.1 134.6,156.2 134.8,158.1 135,154.3 135.1,160.2 135.3,156.9 135.5,161.6 135.7,159.9 135.9,158.3 136,153.7 136.2,161.2 136.4,155.1 136.6,158.7 136.8,164.8 136.9,165.4 137.1,161.1 137.3,155.1 137.5,157.7 137.7,152.4 137.8,158.2 138,153.9 138.2,158 138.4,162.1 138.6,156.5 138.7,161.4 138.9,163.6 139.1,161.4 139.3,160.1 139.5,158 139.6,156 139.8,156.9 140,151.9 140.2,165.3 140.4,159.5 140.5,150.2 140.7,159.9 140.9,163.1 141.1,161.7 141.3,162.6 141.4,161 141.6,153.7 141.8,164 142,161.6 142.2,154.6 142.3,158.6 142.5,158.4 142.7,160.5 142.9,156.4 143.1,164.2 143.2,159.2 143.4,161.3 143.6,163.2 143.8,167.2 144,165.3 144.1,169.4 144.3,175.7 144.5,178.7 144.7,183.5 144.9,173.1 145,182.9 145.2,169 145.4,170.5 145.6,167.6 145.8,170.8 145.9,165.4 146.1,163.3 146.3,161.9 146.5,158.9 146.7,162 146.8,162.8 147,156.5 147.2,162 147.4,165.6 147.6,175.1 147.7,176.1 147.9,169.7 148.1,163 148.3,166.6 148.5,160.2 148.6,159 148.8,161.7 149,159.8 149.2,155.4 149.4,162 149.5,164.9 149.7,160.8 149.9,162.5 150.1,159.8 150.3,157.5 150.4,157 150.6,158.7 150.8,155.4 151,158.9 151.2,157.3 151.3,177.9 151.5,160.7 151.7,162.7 151.9,161.4 152.1,164 152.2,163 152.4,161 152.6,157.4 152.8,162.4 153,160.1 153.1,165 153.3,161.6 153.5,157 153.7,160.1 153.9,166.8 154,161.6 154.2,162.3 154.4,165.3 154.6,167.1 154.8,164.9 154.9,165.2 155.1,159.8 155.3,160.4 155.5,160.3 155.7,159.1 155.8,169 156,163.5 156.2,163 156.4,172.5 156.6,180.9 156.7,177.3 156.9,165.4 157.1,162.8 157.3,158.5 157.5,161.1 157.6,161.4 157.8,162 158,164.3 158.2,161.4 158.4,159.2 158.5,160.2 158.7,164.7 158.9,165.9 159.1,159.4 159.3,161 159.4,160.7 159.6,163.9 159.8,159.3 160,159.8 160.2,168.9 160.3,168.4 160.5,165.1 160.7,162.5 160.9,168.8 161.1,164.4 161.2,156.6 161.4,161.1 161.6,157.9 161.8,161.2 162,175.5 162.1,162.5 162.3,164.5 162.5,161.4 162.7,165.6 162.9,163.5 163,154.6 163.2,162.4 163.4,165.3 163.6,160.9 163.8,162.8 163.9,164.7 164.1,167 164.3,164.3 164.5,164.9 164.7,163.6 164.8,163.1 165,164.2 165.2,168.1 165.4,163.8 165.6,164.3 165.7,170.8 165.9,166.5 166.1,166.6 166.3,164.1 166.5,167.6 166.6,167.3 166.8,168.5 167,168.6 167.2,162.9 167.4,165.1 167.5,163.3 167.7,167.1 167.9,168.2 168.1,167.7 168.3,170.4 168.4,166.6 168.6,163.5 168.8,160.4 169,161.1 169.2,160.5 169.3,160.6 169.5,158.6 169.7,164.6 169.9,162.4 170.1,162.3 170.2,170.6 170.4,162.9 170.6,163.3 170.8,162.3 171,164.8 171.1,165.5 171.3,164.8 171.5,161.5 171.7,162.5 171.9,159.9 172,167.6 172.2,161.3 172.4,159.4 172.6,167.3 172.8,164.9 172.9,169.5 173.1,173.1 173.3,169.8 173.5,166.8 173.7,167.6 173.8,171 174,170.4 174.2,174 174.4,173.2 174.6,187.3 174.7,189.8 174.9,196.5 175.1,185.9 175.3,184.3 175.5,174.5 175.6,179.9 175.8,177.2 176,182.7 176.2,176.1 176.4,166.6 176.5,163.6 176.7,169.7 176.9,159 177.1,163.1 177.3,166.1 177.4,162.7 177.6,165.6 177.8,167.6 178,163 178.2,161 178.3,160.2 178.5,167.4 178.7,165.4 178.9,163.6 179.1,160.9 179.2,161.7 179.4,167.8 179.6,170.5 179.8,166.8 180,170 180.1,165.4 180.3,161.2 180.5,161.2 180.7,165.3 180.9,165.8 181,166.3 181.2,160.5 181.4,160.9 181.6,170 181.8,173 181.9,176 182.1,170.8 182.3,168.4 182.5,165.7 182.7,158.8 182.8,159.3 183,161.7 183.2,158.6 183.4,163.4 183.6,160.5 183.7,164.6 183.9,164.9 184.1,162 184.3,179 184.5,164.4 184.6,165.1 184.8,165 185,161.4 185.2,161.4 185.4,165.6 185.5,155.3 185.7,157 185.9,163.7 186.1,160 186.3,160.7 186.4,163 186.6,164.7 186.8,160.9 187,161.3 187.2,157.6 187.3,160.2 187.5,163.2 187.7,162.2 187.9,161.1 188.1,159.6 188.2,165.8 188.4,165.5 188.6,165 188.8,168.4 189,156.5 189.1,161 189.3,159.5 189.5,160.8 189.7,176.7 189.9,157.5 190,157.5 190.2,151.1 190.4,165.9 190.6,161.2 190.8,163.3 190.9,159.6 191.1,160.8 191.3,159.4 191.5,158.7 191.7,160.3 191.8,156.1 192,162.8 192.2,160.1 192.4,158.4 192.6,154.6 192.7,161.9 192.9,161.6 193.1,158.8 193.3,165.8 193.5,164.8 193.6,154.8 193.8,157.1 194,158.7 194.2,158.6 194.4,157.3 194.5,158.7 194.7,156.9 194.9,157 195.1,161 195.3,162.3 195.4,153.8 195.6,159.7 195.8,153.6 196,157.9 196.2,165.8 196.3,157.9 196.5,161 196.7,164.6 196.9,158.4 197.1,161.6 197.2,159.1 197.4,155.3 197.6,156.2 197.8,158 198,157.9 198.1,157.8 198.3,159.7 198.5,160.7 198.7,159.2 198.9,157.4 199,159.9 199.2,158.5 199.4,157.9 199.6,160.4 199.8,155.1 199.9,154.4"/>
<polyline fill="none" stroke="#000" stroke-width="0.35" stroke-linejoin="round" clip-path="url(#c2)" points="199.9,154.4 200.1,157.5 200.3,160.9 200.5,163.7 200.7,166.1 200.8,160.3 201,164.4 201.2,162.3 201.4,163.1 201.6,159.5 201.7,156.6 201.9,158.3 202.1,162 202.3,151.3 202.5,159.4 202.6,169 202.8,168 203,163.8 203.2,158.4 203.4,158.1 203.5,162.1 203.7,157.7 203.9,160.7 204.1,158.1 204.3,158.3 204.4,156.3 204.6,157.5 204.8,159 205,151 205.2,158.7 205.3,158.7 205.5,156.5 205.7,156.4 205.9,155.1 206.1,161.5 206.2,159.2 206.4,154.6 206.6,158.1 206.8,162.1 207,165.8 207.1,162 207.3,159.9 207.5,158.5 207.7,160.8 207.9,165.5 208,174.7 208.2,166.4 208.4,161 208.6,159.6 208.8,158.7 208.9,160.3 209.1,158.5 209.3,163.8 209.5,154.4 209.7,157.3 209.8,154.1 210,160 210.2,162.4 210.4,153.8 210.6,167.7 210.7,167.8 210.9,157.9 211.1,155 211.3,160.4 211.5,159.4 211.6,159.7 211.8,157.7 212,161.4 212.2,157.7 212.4,157 212.5,159.6 212.7,159.2 212.9,153.7 213.1,158.9 213.3,160.8 213.4,157.2 213.6,156.8 213.8,161.6 214,162.3 214.2,156 214.3,156.6 214.5,156.2 214.7,155.5 214.9,162.7 215.1,163.7 215.2,156.7 215.4,156.9 215.6,159.6 215.8,159.5 216,162.5 216.1,161.7 216.3,158.9 216.5,157.4 216.7,157 216.9,158.8 217,157.2 217.2,156.4 217.4,160 217.6,164.7 217.8,161.2 217.9,167.9 218.1,161.3 218.3,154.8 218.5,152.8 218.7,155.9 218.8,164.1 219,171.9 219.2,170.8 219.4,167 219.6,162.1 219.7,162 219.9,160.1 220.1,158.8 220.3,159.4 220.5,155.9 220.6,157.1 220.8,156.8 221,159.8 221.2,158.4 221.4,163.4 221.5,159.5 221.7,162.1 221.9,157.7 222.1,156.7 222.3,157.8 222.4,154.3 222.6,159.5 222.8,157.9 223,159 223.2,158.4 223.3,154.3 223.5,160.8 223.7,153.2 223.9,153.8 224.1,155.6 224.2,157.8 224.4,156.2 224.6,157.6 224.8,153 225,159.4 225.1,158.9 225.3,156.5 225.5,162.8 225.7,153.1 225.9,157.7 226,154.9 226.2,156.3 226.4,161.1 226.6,156.5 226.8,155.8 226.9,159.8 227.1,159.5 227.3,159.6 227.5,155.2 227.7,160.4 227.8,159.4 228,157.4 228.2,156.9 228.4,159.2 228.6,155.1 228.7,156 228.9,162.4 229.1,155.1 229.3,159.1 229.5,158.2 229.6,156.7 229.8,160.9 230,160.1 230.2,155.8 230.4,158.7 230.5,150.3 230.7,157.9 230.9,154.4 231.1,159 231.3,151.4 231.4,152.1 231.6,160.1 231.8,155.8 232,156.5 232.2,153.1 232.3,162.7 232.5,157.8 232.7,155 232.9,158 233.1,158.9 233.2,161 233.4,156.8 233.6,158.3 233.8,161.4 234,158.1 234.1,160.8 234.3,157.9 234.5,156.5 234.7,155.5 234.9,157.3 235,160.5 235.2,158.6 235.4,158.8 235.6,155.3 235.8,159.4 235.9,154 236.1,157.7 236.3,156 236.5,158.7 236.7,154.8 236.8,159.1 237,154 237.2,157.2 237.4,156.5 237.6,156.7 237.7,159.7 237.9,154.6 238.1,161.6 238.3,157.7 238.5,156.1 238.6,155.4 238.8,159.2 239,158.8 239.2,158.3 239.4,160.3 239.5,159.5 239.7,163.8 239.9,164.9 240.1,169.4 240.3,169.3 240.4,163.6 240.6,158.4 240.8,159.6 241,160.8 241.2,160 241.3,157 241.5,161.7 241.7,157.7 241.9,156.5 242.1,160.8 242.2,161.7 242.4,166.3 242.6,166.3 242.8,171.9 243,162.2 243.1,162 243.3,162.1 243.5,159.7 243.7,160.7 243.9,153.8 244,159.1 244.2,154.2 244.4,161.3 244.6,160.1 244.8,154.7 244.9,158.7 245.1,153.4 245.3,156.5 245.5,155.3 245.7,162.1 245.8,158.2 246,159.5 246.2,155.3 246.4,159.9 246.6,159 246.7,161.1 246.9,163.5 247.1,159.6 247.3,162.8 247.5,160.9 247.6,162.7 247.8,160.1 248,161.6 248.2,160.8 248.4,159.2 248.5,160.9 248.7,158.7 248.9,164.6 249.1,168.1 249.3,162.8 249.4,162.8 249.6,164.6 249.8,158.7 250,161.7 250.2,162.9 250.3,162.5 250.5,158.5 250.7,162.2 250.9,163.5 251.1,158.4 251.2,159.4 251.4,159.3 251.6,163.7 251.8,164.3 252,168.1 252.1,165 252.3,161.3 252.5,159.6 252.7,157.3 252.9,157.7 253,161.4 253.2,160.6 253.4,157.8 253.6,156.6 253.8,158.3 253.9,160.2 254.1,159 254.3,157.3 254.5,157 254.7,161.1 254.8,162.1 255,160.2 255.2,161.6 255.4,160.5 255.6,162.3 255.7,160 255.9,159.7 256.1,157.8 256.3,158.3 256.5,160.4 256.6,162.7 256.8,159.1 257,162.1 257.2,163.7 257.4,161.5 257.5,163.7 257.7,157.4 257.9,160.1 258.1,160.8 258.3,164.1 258.4,162 258.6,160.5 258.8,161.6 259,160.7 259.2,159.9 259.3,162.1 259.5,160.8 259.7,158.3 259.9,160.5 260.1,164.3 260.2,162.7 260.4,162.2 260.6,161.8 260.8,160.7 261,162.8 261.1,158 261.3,161.7 261.5,160.4 261.7,163.3 261.9,165.7 262,160.8 262.2,160.1 262.4,159.8 262.6,162 262.8,161.4 262.9,163.4 263.1,164.9 263.3,161.7 263.5,161 263.7,161 263.8,160.2 264,159.9 264.2,160.4 264.4,160.5 264.6,161.5 264.7,163.1 264.9,165.9 265.1,161.7 265.3,159.5 265.5,161.2 265.6,158.4 265.8,160.8 266,166 266.2,160.2 266.4,163.8 266.5,162.2 266.7,162.9 266.9,162.2 267.1,159.1 267.3,159.9 267.4,164.7 267.6,161.4 267.8,163.5 268,159.9 268.2,159.2 268.3,162.8 268.5,160.2 268.7,160 268.9,160.6 269.1,160 269.2,162.2 269.4,161.2 269.6,162 269.8,164.4 270,169.8 270.1,169.9 270.3,162.4 270.5,160.2 270.7,165.6 270.9,165 271,169.1 271.2,162.3 271.4,163.2 271.6,163 271.8,162.8 271.9,166.6 272.1,164.8 272.3,161.6 272.5,163.7 272.7,162.4 272.8,166.6 273,163.6 273.2,164.7 273.4,165.6 273.6,162.7 273.7,165 273.9,164.2 274.1,164.1 274.3,168.7 274.5,162.6 274.6,162.9 274.8,163.1 275,164.1 275.2,161.2 275.4,163.1 275.5,165.5 275.7,162.9 275.9,162.2 276.1,165.3 276.3,164.8 276.4,162.9 276.6,162.1 276.8,162.4 277,163.8 277.2,162 277.3,163.6 277.5,163.8 277.7,161.2 277.9,163.9 278.1,164.8 278.2,162.5 278.4,166.5 278.6,167.3 278.8,174.5 279,172.3 279.1,168.3 279.3,166.3 279.5,168.5 279.7,165.2 279.9,161.8 280,164.6 280.2,162.3 280.4,162.1 280.6,166.7 280.8,164.6 280.9,164.2 281.1,161.6 281.3,161.4 281.5,165.2 281.7,162.9 281.8,163.4 282,165.8 282.2,162.2 282.4,161.2 282.6,165.7 282.7,162.8 282.9,165 283.1,161.9 283.3,161.9 283.5,164.3 283.6,164.1 283.8,161.1 284,164.1 284.2,162.1 284.4,166.7 284.5,166.2 284.7,162.2 284.9,163.6 285.1,164.6 285.3,166 285.4,163.9 285.6,166.7 285.8,165.8 286,165.5 286.2,166.5 286.3,167.5 286.5,167.3 286.7,172.9 286.9,168.3 287.1,163.9 287.2,166.6 287.4,165.9 287.6,165.4 287.8,166 288,162.6 288.1,165.8 288.3,166.8 288.5,163.5 288.7,166.1 288.9,162.4 289,163.6 289.2,165.4 289.4,164.6 289.6,166.4 289.8,166.6 289.9,163.1 290.1,165.4 290.3,165.1 290.5,165.7 290.7,164.8 290.8,165.5 291,165.1 291.2,165 291.4,163.1 291.6,166 291.7,165.3 291.9,165.1 292.1,166.8 292.3,165.1 292.5,166.8 292.6,167.6 292.8,167.5 293,167.1 293.2,169.3 293.4,172.5 293.5,173 293.7,172.5 293.9,168.7 294.1,170.7 294.3,167.4 294.4,167 294.6,163.9 294.8,165.5 295,166.7 295.2,166.3 295.3,165.4 295.5,168.2 295.7,165.4 295.9,168.7 296.1,165.4 296.2,167.1 296.4,167.7 296.6,166.8 296.8,164.1 297,163.7 297.1,166.9 297.3,164.1 297.5,165.9 297.7,163.8 297.9,166.3 298,165.3 298.2,167.9 298.4,164.5 298.6,165.1 298.8,164.6 298.9,164 299.1,166.9 299.3,165.9 299.5,169.4 299.7,168.1 299.8,168.6 300,165.7 300.2,166.1 300.4,166.4 300.6,160.5 300.7,164.1 300.9,166 301.1,168.5 301.3,165.3 301.5,165.1 301.6,166.3 301.8,171.1 302,169 302.2,166.6 302.4,167.6 302.5,169.4 302.7,166.8 302.9,168 303.1,166.4 303.3,166.3 303.4,164.4 303.6,168 303.8,165 304,168 304.2,165 304.3,165.8 304.5,165.9 304.7,166.3 304.9,167.5 305.1,165.8 305.2,165.7 305.4,164.9 305.6,166.5 305.8,167.4 306,171.4 306.1,174.1 306.3,180.3 306.5,169.1 306.7,171.9 306.9,171.5 307,172.7 307.2,167.1 307.4,169.1 307.6,168.5 307.8,167.9 307.9,169 308.1,169.3 308.3,170.7 308.5,170 308.7,169.6 308.8,170.8 309,169.5 309.2,169 309.4,175.3 309.6,172.6 309.7,169.2 309.9,168.6 310.1,169.3 310.3,169.1 310.5,167.6 310.6,168.8 310.8,167.6 311,166 311.2,169 311.4,169.4 311.5,167.1 311.7,168.1 311.9,169.8 312.1,171.5 312.3,166 312.4,165.9 312.6,168.9 312.8,167.9 313,168 313.2,167.6 313.3,165.6 313.5,167.3 313.7,168.2 313.9,167.7 314.1,168 314.2,167.6 314.4,170.1 314.6,170.8 314.8,166.1 315,167 315.1,166.7 315.3,164.9 315.5,168.1 315.7,168.4 315.9,167.7 316,170.4 316.2,172.3 316.4,172 316.6,168 316.8,170.7 316.9,168.4 317.1,168.7 317.3,166.3 317.5,169 317.7,167.1 317.8,167.3 318,167.5 318.2,166.5 318.4,171.5 318.6,169.7 318.7,172.2 318.9,172 319.1,170.4 319.3,172.5 319.5,169.7 319.6,166.9 319.8,171.5 320,166.8 320.2,170.4 320.4,166.6 320.5,170.8 320.7,169.1 320.9,169.4 321.1,169.5 321.3,168.7 321.4,169.5 321.6,168.1 321.8,169 322,172.3 322.2,173.3 322.3,166.1 322.5,172.6 322.7,169.3 322.9,170.4 323.1,170.6 323.2,170.8 323.4,166.4 323.6,168 323.8,171 324,168.4 324.1,168.9 324.3,166.3 324.5,168.8 324.7,171.4 324.9,166.5 325,166.4 325.2,166.2 325.4,167.8 325.6,171.6 325.8,170.4 325.9,169.3 326.1,168.7 326.3,169.6 326.5,168.2 326.7,170.7 326.8,170 327,170.4 327.2,169.6 327.4,171.7 327.6,166.6 327.7,170.9 327.9,170.4 328.1,168.9 328.3,171.3 328.5,169.4 328.6,169 328.8,168.3 329,170.6 329.2,170.7 329.4,169.9 329.5,170.2 329.7,170.2 329.9,171.2 330.1,171.1 330.3,170.6 330.4,168.3 330.6,168.5 330.8,169.5 331,169.9 331.2,169.8 331.3,167.9 331.5,170.9 331.7,171.8 331.9,170.3 332.1,170.2 332.2,170.5 332.4,170.5 332.6,170.4 332.8,169.6 333,171 333.1,171.5 333.3,170.2 333.5,169.4 333.7,170.4 333.9,171.9 334,170.2 334.2,170.9 334.4,169.3 334.6,170.5 334.8,169.8 334.9,168.4 335.1,169.5 335.3,169.8 335.5,170 335.7,170.8 335.8,169 336,171.8 336.2,170.8 336.4,171.4 336.6,169.4 336.7,167 336.9,171.9 337.1,169.3 337.3,170.4 337.5,167.9 337.6,174.6 337.8,173.2 338,171.7 338.2,172.1 338.4,171.1 338.5,174.3 338.7,172.7 338.9,172.8 339.1,168.4 339.3,170.4 339.4,170.3 339.6,171.2 339.8,168.9 340,170.7 340.2,170.5 340.3,172.3 340.5,169.8 340.7,169.8 340.9,172.5 341.1,172.2 341.2,170.6 341.4,171.3 341.6,172.2 341.8,170.9 342,170.6 342.1,172.5 342.3,173.5 342.5,171.4 342.7,171.4 342.9,171.3 343,170.3 343.2,168.9 343.4,169 343.6,170.5 343.8,171.2 343.9,170.7 344.1,170.4 344.3,169.9 344.5,171.1 344.7,170.9 344.8,170.4 345,172.3 345.2,171.1 345.4,170.7 345.6,170.1 345.7,170.9 345.9,172.1 346.1,173 346.3,172.5 346.5,173.2 346.6,172.8 346.8,172.3 347,172.1 347.2,170.5 347.4,171.5 347.5,171.4 347.7,171 347.9,172.3 348.1,173.1 348.3,172.3 348.4,172.7 348.6,169.3 348.8,169.3 349,171.5 349.2,171 349.3,169.6 349.5,169.6 349.7,170.1 349.9,170.6 350.1,170 350.2,173.1 350.4,174.5 350.6,172.9 350.8,171.2 351,173 351.1,172.4 351.3,171.8 351.5,171.8 351.7,173.2 351.9,172.3 352,171.8 352.2,173.9 352.4,175.3 352.6,174.3 352.8,170.6 352.9,169.7 353.1,173.2 353.3,172.7 353.5,172.5 353.7,171 353.8,171.8 354,172.2 354.2,169.6 354.4,171.2 354.6,173 354.7,171.8 354.9,172 355.1,169.9 355.3,174.5 355.5,172 355.6,171.7 355.8,170.4 356,172 356.2,170.9 356.4,170.9 356.5,174.2 356.7,172.8 356.9,172.8 357.1,171.9 357.3,173.8 357.4,171.9 357.6,174 357.8,174.2 358,176.8 358.2,172.3 358.3,172.1 358.5,174.3 358.7,172.9 358.9,171.9 359.1,170 359.2,174 359.4,173.5 359.6,174.4 359.8,172.2 360,174.5 360.1,173.4 360.3,172.4 360.5,172.5 360.7,173 360.9,173.2 361,173.8 361.2,171.9 361.4,173.2 361.6,174.7 361.8,171.9 361.9,171.6 362.1,170.6 362.3,170 362.5,172.3 362.7,171.2 362.8,172.3 363,171.5 363.2,172.9 363.4,172.4 363.6,172.8 363.7,175 363.9,172.7 364.1,174.4 364.3,172.1 364.5,175.7 364.6,172.4 364.8,174.9 365,173.8 365.2,173 365.4,172.1 365.5,174.1 365.7,173 365.9,171.5 366.1,173 366.3,172.2 366.4,172.8 366.6,171.3 366.8,171.7 367,171.1 367.2,172.8 367.3,173.1 367.5,176.7 367.7,174.3 367.9,174.2 368.1,171.7 368.2,173.5 368.4,174.3 368.6,173.4 368.8,174 369,174.6 369.1,174.8 369.3,171.9 369.5,171.1 369.7,173.3 369.9,172.8 370,172 370.2,173.8 370.4,172.8 370.6,174.9 370.8,175.9 370.9,174.2 371.1,171.7 371.3,173.3 371.5,175.1 371.7,173.5 371.8,173 372,175.9 372.2,174 372.4,172.4 372.6,175.7 372.7,174.3 372.9,174.8 373.1,175.5 373.3,175.4 373.5,172.3 373.6,172.9 373.8,173.8 374,171 374.2,174.1 374.4,173.5 374.5,172.7 374.7,174.6 374.9,175.1 375.1,174.5 375.3,175.2 375.4,173.6 375.6,173.5 375.8,174.6 376,176.5 376.2,174.5 376.3,175.5 376.5,174.4 376.7,173.3 376.9,171.7 377.1,172 377.2,175.7 377.4,173.7 377.6,174.7 377.8,173.6 378,171.6 378.1,173 378.3,173.4 378.5,174.6 378.7,174.9 378.9,174.4 379,173.4 379.2,172.2 379.4,173.6 379.6,174.6 379.8,174.5 379.9,173.6 380.1,172.5 380.3,172.2 380.5,176.3 380.7,177.3 380.8,174.7 381,174.9 381.2,174.4 381.4,173.3 381.6,175.5 381.7,174.1 381.9,176.6 382.1,173.5 382.3,175.3 382.5,175.2 382.6,176.5 382.8,173.1 383,173.7 383.2,174 383.4,176.5 383.5,175.7 383.7,173.2 383.9,175.1 384.1,176 384.3,177.4 384.4,177 384.6,173.4 384.8,177.2 385,172.4 385.2,172.5 385.3,173.9 385.5,173.5 385.7,174.7 385.9,172.1 386.1,175.4 386.2,175.8 386.4,174 386.6,175.3 386.8,175.1 387,172.6 387.1,177.7 387.3,174.6 387.5,177.2 387.7,175.3 387.9,174.4 388,174.5 388.2,177 388.4,175 388.6,174.6 388.8,173.2 388.9,174.9 389.1,176.4 389.3,175.8 389.5,176 389.7,173 389.8,173.6 390,176.8 390.2,175.4 390.4,172.9 390.6,175.9 390.7,174 390.9,175.3 391.1,174.5 391.3,175.6 391.5,176.8 391.6,176.4 391.8,174.6 392,173.4 392.2,175.5 392.4,174.8 392.5,174.7 392.7,176.8 392.9,176.7 393.1,174.5 393.3,174.8 393.4,176.5 393.6,177.9 393.8,176.3 394,176.2 394.2,174.8 394.3,175.9 394.5,175.5 394.7,174.1 394.9,174.6 395.1,175.9 395.2,173.8 395.4,174.6 395.6,173.1 395.8,176.2 396,175.1 396.1,175.9 396.3,176.9 396.5,176.7 396.7,175.2 396.9,174.6 397,176.1 397.2,175.9 397.4,174.2 397.6,176.3 397.8,176.8 397.9,174.9 398.1,176.7 398.3,175.3 398.5,176.6 398.7,176 398.8,176.4 399,176.7 399.2,175.9 399.4,173.6 399.6,175 399.7,175.9 399.9,174.2 400.1,178.2 400.3,175.7 400.5,176.9 400.6,177.5 400.8,176.6 401,176.1 401.2,177.3 401.4,175.8 401.5,178.5 401.7,175.7 401.9,175.7 402.1,174.2 402.3,176.5 402.4,177.8 402.6,177.5 402.8,175.8 403,175.7 403.2,178.1 403.3,178.6 403.5,175.6 403.7,176.2 403.9,178.3 404.1,174.8 404.2,176.2 404.4,176.9 404.6,176.8 404.8,175.8 405,176.8 405.1,176.9 405.3,175.6 405.5,178.2 405.7,177.1 405.9,177.6 406,176.8 406.2,177.6 406.4,176.4 406.6,175.8 406.8,175.3 406.9,177.7 407.1,177.1 407.3,177 407.5,174.4 407.7,175.4 407.8,176.1 408,176.1 408.2,176.7 408.4,175 408.6,177 408.7,175.8 408.9,176.3 409.1,177.9 409.3,175.2 409.5,176 409.6,177 409.8,178.8 410,177 410.2,178.4 410.4,178.7 410.5,175.4 410.7,177 410.9,176.5 411.1,176 411.3,175.2 411.4,178.4 411.6,179.2 411.8,175.6 412,177.6 412.2,176.8 412.3,176.2 412.5,175.4 412.7,178.4 412.9,178.2 413.1,180.3 413.2,177.2 413.4,177.7 413.6,177.5 413.8,175.1 414,178.7 414.1,179.3 414.3,178.6 414.5,176.4 414.7,179.2 414.9,178.6 415,176.6 415.2,178.6 415.4,178.1 415.6,178.6 415.8,176.4 415.9,178.3 416.1,176.4 416.3,178.1 416.5,177.2 416.7,178.9 416.8,177.1 417,181.2 417.2,174.8 417.4,176.9 417.6,178.9 417.7,178.3 417.9,177.3 418.1,177.1 418.3,178.7 418.5,180.4 418.6,182.7 418.8,179.1 419,177.4 419.2,176.2 419.4,179.4 419.5,178.6 419.7,176.2 419.9,177.1 420.1,177.7 420.3,175.4 420.4,175.7 420.6,179.4 420.8,179.7 421,177.3 421.2,176.8 421.3,178.3 421.5,177.4 421.7,179 421.9,177 422.1,179.7 422.2,177.7 422.4,177.3 422.6,178.4 422.8,178.1 423,178.1 423.1,177.1 423.3,179.3 423.5,176.7 423.7,180.4 423.9,176.7 424,177.8 424.2,177.2 424.4,176.7 424.6,177.7 424.8,176.6 424.9,177.5 425.1,178.3 425.3,177.1 425.5,176.6 425.7,180.8 425.8,178.2 426,181.2 426.2,178.5 426.4,178.6 426.6,178.7 426.7,177.2 426.9,177.8 427.1,177.9 427.3,182.2 427.5,176.8 427.6,179.5 427.8,182.7 428,178.8 428.2,179 428.4,179.1 428.5,176.6 428.7,178.8 428.9,179.6 429.1,177.2 429.3,179.7 429.4,177 429.6,179.6 429.8,177.4 430,175.8 430.2,177.2 430.3,179.5 430.5,180.7 430.7,179.2 430.9,180.7 431.1,177.1 431.2,178.5 431.4,183.1 431.6,180 431.8,178.2 432,177.6 432.1,180.3 432.3,178.8 432.5,180.3 432.7,179.3 432.9,177.8 433,181.5 433.2,178.8 433.4,177.8 433.6,181 433.8,180 433.9,176.9 434.1,179.1 434.3,178.3 434.5,178.9 434.7,177.7 434.8,177.9 435,179.2 435.2,180.3 435.4,178.5 435.6,180.6 435.7,180.1 435.9,179.9 436.1,179.7 436.3,180.8 436.5,179.5 436.6,178.4 436.8,181.7 437,182.2 437.2,180.4 437.4,179.6 437.5,179.1 437.7,179.4 437.9,179.9 438.1,177.2 438.3,178.8 438.4,179.6 438.6,178.9 438.8,179.3 439,179.8 439.2,179.3 439.3,180.1 439.5,180.2 439.7,178 439.9,181.9 440.1,180.7 440.2,181.3 440.4,179.5 440.6,181.3 440.8,179.5 441,179.4 441.1,179 441.3,178.8 441.5,179.9 441.7,180.8 441.9,180.1 442,182.2 442.2,178.8 442.4,181.3 442.6,180.5 442.8,181 442.9,179.2 443.1,182.7 443.3,181 443.5,178.6 443.7,179.8 443.8,181.1 444,179.1 444.2,180.6 444.4,179.3 444.6,178.6 444.7,181.2 444.9,181.7 445.1,181.4 445.3,180.1 445.5,178.3 445.6,179.8 445.8,180.3 446,181.7 446.2,180.4 446.4,180.1 446.5,182.9 446.7,181.1 446.9,181.3 447.1,180.6 447.3,179.5 447.4,180.6 447.6,179.7 447.8,180.2 448,180.2 448.2,181.4 448.3,181.1 448.5,180.8 448.7,181.3 448.9,180.4 449.1,181.9 449.2,179.8 449.4,180.8 449.6,182.5 449.8,179.3 450,179.4 450.1,180.5 450.3,184 450.5,184.5 450.7,183.1 450.9,182.7 451,180.2 451.2,181.7 451.4,181.3 451.6,180.3 451.8,181 451.9,182.2 452.1,180.5 452.3,181.6 452.5,180.6 452.7,180.7 452.8,180.9 453,182.3 453.2,181.8 453.4,180.7 453.6,182.8 453.7,179.5 453.9,181.5 454.1,182.7 454.3,184.9 454.5,182.1 454.6,181.9 454.8,183.3 455,182.6 455.2,179.6 455.4,182.5 455.5,181.1 455.7,180 455.9,181.8 456.1,181.1 456.3,181.8 456.4,181.9 456.6,180.1 456.8,181.8 457,184 457.2,182.9 457.3,181.7 457.5,180.5 457.7,182.4 457.9,179.8 458.1,183.7 458.2,182.2 458.4,181.4 458.6,181.9 458.8,182.2 459,180.4 459.1,183 459.3,182.3 459.5,181.9 459.7,183.7 459.9,181.6 460,181.4 460.2,181.3 460.4,180.2 460.6,182.5 460.8,180.7 460.9,181.5 461.1,182.6 461.3,183.4 461.5,180.8 461.7,184.4 461.8,181.1 462,181.9 462.2,180.7 462.4,183.1 462.6,184.2 462.7,181.7 462.9,181.4 463.1,181.2 463.3,182.2 463.5,182.7 463.6,182.6 463.8,181.5 464,183.5 464.2,182 464.4,181.7 464.5,181 464.7,182.9 464.9,183.2 465.1,179.9 465.3,181.7 465.4,181.2 465.6,183.7 465.8,185.1 466,183.6 466.2,182.4 466.3,181.8 466.5,181.5 466.7,184.4 466.9,184.3 467.1,186.1 467.2,184.6 467.4,183.5 467.6,183 467.8,181.4 468,182.1 468.1,181.2 468.3,185.1 468.5,182.6 468.7,184.3 468.9,181.6 469,183.2 469.2,182.3 469.4,181.6 469.6,182.4 469.8,183.8 469.9,183.4 470.1,183.7 470.3,183.6 470.5,184.3 470.7,182.3 470.8,184.9 471,178.6 471.2,182.1 471.4,181.8 471.6,182.8 471.7,182.4 471.9,182.4 472.1,182.9 472.3,180.4 472.5,182.3 472.6,182 472.8,182.7 473,178.2 473.2,182.9 473.4,181.6 473.5,180.7 473.7,183.7 473.9,183.5 474.1,183.9 474.3,182.1 474.4,182 474.6,181.3 474.8,183.8 475,182.6 475.2,183.2 475.3,182 475.5,186.2 475.7,180.2 475.9,183.6 476.1,181.6 476.2,183.9 476.4,176.2 476.6,183.4 476.8,183.3 477,180.6 477.1,180.2 477.3,184 477.5,183 477.7,184.4 477.9,180.8 478,181.4 478.2,181.6 478.4,184 478.6,182.1 478.8,182.9 478.9,183.2 479.1,182.6 479.3,181.4 479.5,180.8 479.7,181.8 479.8,180.8 480,182.2 480.2,182.6 480.4,181.9 480.6,182.3 480.7,182.5 480.9,180.7 481.1,181.3 481.3,182.4 481.5,183 481.6,182 481.8,181.8 482,183.1 482.2,184 482.4,185.4 482.5,180.5 482.7,182.8 482.9,183.1 483.1,181.6 483.3,180.7 483.4,184.3 483.6,180.8 483.8,181.3 484,181.6 484.2,183.5 484.3,183.2 484.5,182.3 484.7,182.7 484.9,183 485.1,181.8 485.2,182.2 485.4,183.9 485.6,185 485.8,183.2 486,183.3 486.1,184.9 486.3,185.5 486.5,186.1 486.7,183.5 486.9,185.2 487,181.8 487.2,183.2 487.4,182.6 487.6,180 487.8,182.6 487.9,184.8 488.1,181.2 488.3,182.9 488.5,185.1 488.7,185.8 488.8,185.8 489,188 489.2,186.8 489.4,190 489.6,197.3 489.7,187.9 489.9,188.7 490.1,175.7 490.3,185.1 490.5,184.4 490.6,183.9 490.8,182.5 491,183.3 491.2,181.2 491.4,184.1 491.5,185 491.7,183.1 491.9,186.8 492.1,182 492.3,181.5 492.4,183 492.6,185.1 492.8,187.4 493,187.9 493.2,191.2 493.3,190.7 493.5,203.8 493.7,190.4 493.9,191.5 494.1,188 494.2,187.7 494.4,187.6 494.6,186.9 494.8,185.6 495,184.9 495.1,189.4 495.3,185.6 495.5,182.7 495.7,182.2 495.9,184 496,184.9 496.2,185.5 496.4,182.1 496.6,184.6 496.8,183.4 496.9,186.4 497.1,185.5 497.3,182.5 497.5,183.6 497.7,184.4 497.8,186.9 498,184.4 498.2,184.6 498.4,184.4 498.6,188.2 498.7,188 498.9,186 499.1,185.7 499.3,186.1 499.5,186.4 499.6,187 499.8,185.7 500,187.2 500.2,186.3 500.4,185 500.5,186.9 500.7,186.2 500.9,183 501.1,187.5 501.3,186.6 501.4,185.6 501.6,184.1 501.8,184.8 502,184.1 502.2,184.8 502.3,186.8 502.5,186.6 502.7,186 502.9,185.7 503.1,184.5 503.2,186.6 503.4,185.7 503.6,185.1 503.8,188.8 504,186.8 504.1,188.1 504.3,189.8 504.5,191.3 504.7,194.7 504.9,202.5 505,192.2 505.2,192.3 505.4,188.8 505.6,190.3 505.8,189.2 505.9,186.3 506.1,187.2 506.3,185.8 506.5,187.9 506.7,188.3 506.8,185.3 507,185.9 507.2,188.5 507.4,188.2 507.6,184 507.7,186.6 507.9,183.6 508.1,186.7 508.3,187.1 508.5,187.1 508.6,186.4 508.8,187.9 509,187.7 509.2,187.8 509.4,188.3 509.5,187.5 509.7,186.3 509.9,187.3 510.1,188.4 510.3,187.6 510.4,187.9 510.6,187.1 510.8,189.1 511,186.1 511.2,187.3 511.3,189.2 511.5,189.1 511.7,188.2 511.9,187.2 512.1,187.1 512.2,186 512.4,186.3 512.6,190.1 512.8,187 513,184.5 513.1,188.3 513.3,187 513.5,188.1 513.7,189.7 513.9,185.8 514,186.4 514.2,190.4 514.4,187.8 514.6,195.2 514.8,186.6 514.9,189.4 515.1,186.5 515.3,187.1 515.5,189.3 515.7,188 515.8,186.8 516,186 516.2,187.4 516.4,185.3 516.6,187.2 516.7,186.8 516.9,186.4 517.1,188.9 517.3,187.4 517.5,188.8 517.6,189.3 517.8,188.2 518,188.3 518.2,187.3 518.4,186.6 518.5,187.4 518.7,188.2 518.9,186.9 519.1,188.5 519.3,187.1 519.4,185.4 519.6,187.3 519.8,190 520,190.4 520.2,185.6 520.3,185.9 520.5,186.8 520.7,185.1 520.9,186.1 521.1,185.8 521.2,187.9 521.4,185 521.6,183.9 521.8,184.5 522,186.4 522.1,186.2 522.3,185 522.5,187 522.7,179.6 522.9,187.6 523,184.6 523.2,184.8 523.4,184.5 523.6,185.8 523.8,188.2 523.9,186.2 524.1,186.4 524.3,187 524.5,186.8 524.7,183.8 524.8,186.1 525,185.1 525.2,185.8 525.4,187.5 525.6,186.1 525.7,186.9 525.9,185.1 526.1,187.4 526.3,187.9 526.5,186.4 526.6,186.1 526.8,187 527,186.8 527.2,185.8 527.4,186 527.5,186.3 527.7,184.6 527.9,185.7 528.1,184.7 528.3,185.2 528.4,187.1 528.6,186.2 528.8,184.5 529,180.7 529.2,183.4 529.3,185.9 529.5,186.3 529.7,187.3 529.9,188.7 530.1,187.3 530.2,183.5 530.4,188.4 530.6,183.8 530.8,184.8 531,189.2 531.1,187.1 531.3,184.4 531.5,184.3 531.7,185 531.9,185.7 532,184.6 532.2,185.5 532.4,188.9 532.6,187.4 532.8,188.7 532.9,186.8 533.1,184.1 533.3,188.1 533.5,189.3 533.7,186.3 533.8,190.8 534,187.9 534.2,187.7 534.4,185.9 534.6,187.9 534.7,185.8 534.9,189.6 535.1,188.2 535.3,190.7 535.5,188.9 535.6,189.1 535.8,192.4 536,192.5 536.2,193.4 536.6,227 536.8,243.7"/>
<polyline fill="none" stroke="#7a1484" stroke-width="1.35" stroke-linejoin="round" stroke-linecap="round" points="54.3,196.4 55.3,195 56.3,193.7 57.3,192.5 58.3,191.4 59.3,190.3 60.3,189.3 61.3,188.4 62.3,187.5 63.3,186.7 64.3,186 65.3,185.4 66.3,184.8 67.3,184.3 68.3,183.8 69.3,183.4 70.3,183.1 71.3,182.8 72.3,182.7 73.3,182.5 74.3,182.5 75.3,182.5 76.3,182.6 77.3,182.7 78.3,182.8 79.3,183.1 80.3,183.3 81.3,183.5 82.3,183.7 83.3,183.9 84.3,184.1 85.3,184.2 86.3,184.3 87.3,184.3 88.3,184.2 89.3,184 90.3,183.7 91.3,183.4 92.3,182.9 93.3,182.4 94.3,181.8 95.3,181.1 96.3,180.4 97.3,179.6 98.3,178.8 99.3,178 100.3,177.2 101.3,176.3 102.3,175.4 103.3,174.6 104.3,173.7 105.3,172.8 106.3,172 107.3,171.1 108.3,170.3 109.3,169.6 110.3,168.8 111.3,168.2 112.3,167.5 113.3,166.9 114.3,166.3 115.3,165.8 116.3,165.3 117.3,164.8 118.3,164.4 119.3,164 120.3,163.6 121.3,163.3 122.3,163 123.3,162.7 124.3,162.4 125.3,162.2 126.3,162 127.3,161.8 128.3,161.7 129.3,161.5 130.3,161.4 131.3,161.3 132.3,161.2 133.3,161.2 134.3,161.1 135.3,161.1 136.3,161.1 137.3,161.1 138.3,161.1 139.3,161.2 140.3,161.2 141.3,161.3 142.3,161.3 143.3,161.4 144.3,161.5 145.3,161.6 146.3,161.7 147.3,161.9 148.3,162 149.3,162.1 150.3,162.3 151.3,162.5 152.3,162.6 153.3,162.8 154.3,163 155.3,163.1 156.3,163.3 157.3,163.5 158.3,163.7 159.3,163.9 160.3,164.1 161.3,164.3 162.3,164.5 163.3,164.7 164.3,164.9 165.3,165.1 166.3,165.3 167.3,165.5 168.3,165.7 169.3,165.8 170.3,166 171.3,166.2 172.3,166.3 173.3,166.3 174.3,166.3 175.3,166.3 176.3,166.1 177.3,165.9 178.3,165.6 179.3,165.2 180.3,164.7 181.3,164.2 182.3,163.7 183.3,163.2 184.3,162.8 185.3,162.4 186.3,162 187.3,161.7 188.3,161.4 189.3,161.1 190.3,160.9 191.3,160.7 192.3,160.5 193.3,160.3 194.3,160.2 195.3,160 196.3,159.9 197.3,159.9 198.3,159.8 199.3,159.7 200.3,159.7 201.3,159.7 202.3,159.7 203.3,159.7 204.3,159.7 205.3,159.7 206.3,159.7 207.3,159.7 208.3,159.7 209.3,159.7 210.3,159.6 211.3,159.6 212.3,159.6 213.3,159.5 214.3,159.4 215.3,159.4 216.3,159.3 217.3,159.1 218.3,159 219.3,158.9 220.3,158.8 221.3,158.6 222.3,158.5 223.3,158.4 224.3,158.2 225.3,158.1 226.3,158.1 227.3,158 228.3,157.9 229.3,157.9 230.3,157.9 231.3,157.9 232.3,158 233.3,158.1 234.3,158.2 235.3,158.3 236.3,158.4 237.3,158.6 238.3,158.7 239.3,158.8 240.3,158.9 241.3,159.1 242.3,159.2 243.3,159.3 244.3,159.5 245.3,159.6 246.3,159.7 247.3,159.9 248.3,160 249.3,160.1 250.3,160.3 251.3,160.4 252.3,160.5 253.3,160.7 254.3,160.8 255.3,160.9 256.3,161.1 257.3,161.2 258.3,161.3 259.3,161.5 260.3,161.6 261.3,161.7 262.3,161.8 263.3,162 264.3,162.1 265.3,162.2 266.3,162.4 267.3,162.5 268.3,162.6 269.3,162.8 270.3,162.9 271.3,163 272.3,163.2 273.3,163.3 274.3,163.4 275.3,163.5 276.3,163.7 277.3,163.8 278.3,163.9 279.3,164.1 280.3,164.2 281.3,164.3 282.3,164.4 283.3,164.6 284.3,164.7 285.3,164.8 286.3,164.9 287.3,165.1 288.3,165.2 289.3,165.3 290.3,165.4 291.3,165.6 292.3,165.7 293.3,165.8 294.3,165.9 295.3,166 296.3,166.2 297.3,166.3 298.3,166.4 299.3,166.5 300.3,166.6 301.3,166.8 302.3,166.9 303.3,167 304.3,167.1 305.3,167.2 306.3,167.3 307.3,167.4 308.3,167.5 309.3,167.7 310.3,167.8 311.3,167.9 312.3,168 313.3,168.1 314.3,168.2 315.3,168.3 316.3,168.4 317.3,168.5 318.3,168.6 319.3,168.7 320.3,168.8 321.3,168.9 322.3,169 323.3,169.1 324.3,169.2 325.3,169.3 326.3,169.4 327.3,169.5 328.3,169.6 329.3,169.7 330.3,169.8 331.3,169.9 332.3,170 333.3,170.1 334.3,170.2 335.3,170.3 336.3,170.4 337.3,170.5 338.3,170.6 339.3,170.6 340.3,170.7 341.3,170.8 342.3,170.9 343.3,171 344.3,171.1 345.3,171.2 346.3,171.3 347.3,171.4 348.3,171.4 349.3,171.5 350.3,171.6 351.3,171.7 352.3,171.8 353.3,171.9 354.3,172 355.3,172.1 356.3,172.1 357.3,172.2 358.3,172.3 359.3,172.4 360.3,172.5 361.3,172.6 362.3,172.7 363.3,172.7 364.3,172.8 365.3,172.9 366.3,173 367.3,173.1 368.3,173.2 369.3,173.2 370.3,173.3 371.3,173.4 372.3,173.5 373.3,173.6 374.3,173.7 375.3,173.8 376.3,173.8 377.3,173.9 378.3,174 379.3,174.1 380.3,174.2 381.3,174.3 382.3,174.3 383.3,174.4 384.3,174.5 385.3,174.6 386.3,174.7 387.3,174.8 388.3,174.9 389.3,174.9 390.3,175 391.3,175.1 392.3,175.2 393.3,175.3 394.3,175.4 395.3,175.5 396.3,175.5 397.3,175.6 398.3,175.7 399.3,175.8 400.3,175.9 401.3,176 402.3,176.1 403.3,176.2 404.3,176.3 405.3,176.3 406.3,176.4 407.3,176.5 408.3,176.6 409.3,176.7 410.3,176.8 411.3,176.9 412.3,177 413.3,177.1 414.3,177.2 415.3,177.3 416.3,177.4 417.3,177.5 418.3,177.6 419.3,177.7 420.3,177.8 421.3,177.9 422.3,178 423.3,178 424.3,178.1 425.3,178.2 426.3,178.3 427.3,178.4 428.3,178.5 429.3,178.6 430.3,178.7 431.3,178.9 432.3,179 433.3,179.1 434.3,179.2 435.3,179.3 436.3,179.4 437.3,179.5 438.3,179.6 439.3,179.7 440.3,179.8 441.3,179.9 442.3,180 443.3,180.1 444.3,180.2 445.3,180.3 446.3,180.4 447.3,180.5 448.3,180.6 449.3,180.8 450.3,180.9 451.3,181 452.3,181.1 453.3,181.2 454.3,181.3 455.3,181.4 456.3,181.5 457.3,181.6 458.3,181.7 459.3,181.8 460.3,181.9 461.3,182 462.3,182.1 463.3,182.2 464.3,182.3 465.3,182.3 466.3,182.4 467.3,182.4 468.3,182.5 469.3,182.5 470.3,182.5 471.3,182.5 472.3,182.5 473.3,182.4 474.3,182.4 475.3,182.4 476.3,182.3 477.3,182.3 478.3,182.3 479.3,182.3 480.3,182.3 481.3,182.4 482.3,182.4 483.3,182.5 484.3,182.6 485.3,182.8 486.3,182.9 487.3,183 488.3,183.2 489.3,183.4 490.3,183.6 491.3,183.7 492.3,183.9 493.3,184.1 494.3,184.3 495.3,184.6 496.3,184.8 497.3,185 498.3,185.2 499.3,185.4 500.3,185.6 501.3,185.8 502.3,186 503.3,186.2 504.3,186.4 505.3,186.5 506.3,186.7 507.3,186.8 508.3,186.9 509.3,187 510.3,187.1 511.3,187.2 512.3,187.3 513.3,187.3 514.3,187.3 515.3,187.3 516.3,187.2 517.3,187.2 518.3,187.1 519.3,187 520.3,186.8 521.3,186.7 522.3,186.5 523.3,186.3 524.3,186.2 525.3,186.1 526.3,186 527.3,185.9 528.3,185.9 529.3,185.9 530.3,186 531.3,186.1 532.3,186.3 533.3,186.6 534.3,186.9 535.3,187.4 536.3,187.9"/>
<polyline fill="none" stroke="#000" stroke-width="0.42" stroke-linejoin="round" clip-path="url(#c3)" points="54.5,305.7 54.7,308.8 54.9,296.4 55,290.9 55.2,305.4 55.4,318.1 55.6,321.6 55.8,313.9 55.9,351.8 56.1,317.9 56.3,344.4 56.5,343 56.7,347 56.8,350.8 57,346.5 57.2,339.5 57.4,341 57.6,342 57.7,348.9 57.9,338.4 58.1,359.9 58.3,343 58.5,344.6 58.6,338.8 58.8,334.3 59,371.1 59.2,349 59.4,350.9 59.5,358.6 59.7,371 59.9,340.8 60.1,339.3 60.3,343.2 60.4,346.9 60.6,351.8 60.8,345.3 61,345 61.2,375.4 61.3,331.6 61.5,325.1 61.7,336.5 61.9,331.3 62.1,303.2 62.2,335.9 62.4,330.8 62.6,321.5 62.8,318.5 63,313 63.1,312.9 63.3,304.9 63.5,313.2 63.7,317 63.9,309 64,291.2 64.2,330.7 64.4,327.3 64.6,322.3 64.8,306.3 64.9,304.6 65.1,308.4 65.3,311 65.5,304.4 65.7,300.2 65.8,307.6 66,306.1 66.2,310.6 66.4,309.1 66.6,310 66.7,310.1 66.9,312 67.1,306.4 67.3,301.2 67.5,313.1 67.6,299.5 67.8,309 68,308.5 68.2,318 68.4,319.3 68.5,301.3 68.7,311.1 68.9,300.2 69.1,304 69.3,302.6 69.4,296.8 69.6,304.2 69.8,321.7 70,313.1 70.2,298.1 70.3,292.5 70.5,304.2 70.7,308 70.9,312 71.1,301.8 71.2,314.9 71.4,311.9 71.6,304.8 71.8,304.8 72,306.8 72.1,299.7 72.3,312.9 72.5,313.1 72.7,308.6 72.9,305.7 73,307.8 73.2,294.9 73.4,309.5 73.6,302.5 73.8,308.6 73.9,302.7 74.1,307.2 74.3,310.2 74.5,298.7 74.7,305 74.8,292.2 75,305.6 75.2,303.8 75.4,295.4 75.6,315.7 75.7,311.7 75.9,302.5 76.1,300.3 76.3,300.3 76.5,306 76.6,313 76.8,301.1 77,303.8 77.2,313.6 77.4,308.1 77.5,300.8 77.7,309.4 77.9,315.6 78.1,311 78.3,310.7 78.4,306.6 78.6,302.8 78.8,313.1 79,311.2 79.2,301.7 79.3,302.8 79.5,298.8 79.7,314.6 79.9,311.5 80.1,300.2 80.2,310.7 80.4,303 80.6,304.9 80.8,308.8 81,296 81.1,304.5 81.3,307.5 81.5,305.7 81.7,303.5 81.9,315.3 82,312.1 82.2,313.9 82.4,318.9 82.6,301.7 82.8,299.2 82.9,300.9 83.1,317.7 83.3,305.6 83.5,303.8 83.7,310.7 83.8,302.8 84,313.5 84.2,312.8 84.4,311 84.6,309.9 84.7,310.7 84.9,299 85.1,309.8 85.3,305.6 85.5,306.2 85.6,336.7 85.8,308 86,300.5 86.2,292.1 86.4,308.6 86.5,307.1 86.7,304.5 86.9,310.2 87.1,296.1 87.3,306.5 87.4,298.4 87.6,301.6 87.8,305.1 88,300.2 88.2,307.9 88.3,300.8 88.5,314.6 88.7,312 88.9,301.4 89.1,319.8 89.2,305.5 89.4,310.4 89.6,310.7 89.8,310.8 90,299.2 90.1,314.4 90.3,300.5 90.5,302.1 90.7,306.7 90.9,304.7 91,300.5 91.2,308.3 91.4,314.4 91.6,305.7 91.8,313.4 91.9,343 92.1,310.5 92.3,306.9 92.5,299.9 92.7,306.9 92.8,306.6 93,301.4 93.2,303.7 93.4,314.5 93.6,312.3 93.7,313.5 93.9,301.8 94.1,299 94.3,304.6 94.5,312.2 94.6,304 94.8,315.5 95,312.3 95.2,320.5 95.4,320.2 95.5,318.2 95.7,309.1 95.9,310.9 96.1,292 96.3,312.5 96.4,303.5 96.6,308.2 96.8,298.9 97,299.8 97.2,305.1 97.3,303.4 97.5,302.8 97.7,301.9 97.9,305.3 98.1,299.2 98.2,306.5 98.4,313.8 98.6,306.2 98.8,307.6 99,301.8 99.1,301.6 99.3,303.4 99.5,303.5 99.7,303.5 99.9,306.6 100,335.6 100.2,307 100.4,303.9 100.6,312.7 100.8,305.3 100.9,307.4 101.1,303.7 101.3,306.7 101.5,303.1 101.7,304.4 101.8,298.6 102,305.5 102.2,305.2 102.4,304.3 102.6,312 102.7,309.2 102.9,299.4 103.1,303.2 103.3,308.9 103.5,309.1 103.6,306.8 103.8,305.9 104,306 104.2,311.8 104.4,301.2 104.5,305.8 104.7,306.5 104.9,309.7 105.1,313.3 105.3,320 105.4,308.7 105.6,298.3 105.8,301.7 106,306.1 106.2,308.6 106.3,305.2 106.5,304.1 106.7,306.1 106.9,302.6 107.1,309.4 107.2,301.8 107.4,305.1 107.6,307.5 107.8,306.5 108,303.9 108.1,302 108.3,304.6 108.5,302.1 108.7,294.9 108.9,310 109,311 109.2,303 109.4,306.8 109.6,302.9 109.8,310.5 109.9,311.8 110.1,313.9 110.3,313.9 110.5,320.7 110.7,312.5 110.8,303 111,297.1 111.2,307.2 111.4,306.9 111.6,300 111.7,305.8 111.9,308.8 112.1,301.4 112.3,311.7 112.5,308.4 112.6,302.8 112.8,308.9 113,304.2 113.2,312 113.4,305 113.5,306.5 113.7,302.4 113.9,309.6 114.1,310.1 114.3,309 114.4,304.7 114.6,311.3 114.8,309 115,301.7 115.2,306.8 115.3,308 115.5,311.8 115.7,305.1 115.9,311.5 116.1,312.5 116.2,310.4 116.4,302 116.6,306.3 116.8,309.9 117,307.8 117.1,304.8 117.3,302.2 117.5,311.9 117.7,301.4 117.9,302.8 118,308.3 118.2,307.2 118.4,304.2 118.6,306.8 118.8,305.4 118.9,309.5 119.1,312.1 119.3,297.3 119.5,305 119.7,304.7 119.8,303.7 120,300.8 120.2,302.3 120.4,309 120.6,305.7 120.7,305 120.9,302.6 121.1,307.3 121.3,304 121.5,304.4 121.6,300.7 121.8,314.1 122,305 122.2,304.4 122.4,303.4 122.5,305.8 122.7,308.6 122.9,303.8 123.1,305 123.3,309.2 123.4,310.8 123.6,304.6 123.8,309.2 124,304.2 124.2,301.3 124.3,305.5 124.5,305.3 124.7,305.6 124.9,301.6 125.1,301.6 125.2,306.8 125.4,307 125.6,313.3 125.8,318.3 126,315.2 126.1,317.9 126.3,314.3 126.5,311.9 126.7,303.2 126.9,309.6 127,310.5 127.2,307.8 127.4,304.5 127.6,312.3 127.8,304.7 127.9,305.7 128.1,310.6 128.3,310.2 128.5,307 128.7,300.3 128.8,307.1 129,303 129.2,303.9 129.4,312.6 129.6,308 129.7,304.5 129.9,308.7 130.1,303.5 130.3,311.2 130.5,312.8 130.6,309.6 130.8,305.6 131,308.4 131.2,304.2 131.4,311.7 131.5,308.7 131.7,302.7 131.9,314.4 132.1,305.8 132.3,309.6 132.4,309.2 132.6,308 132.8,311.3 133,303.9 133.2,304.8 133.3,302.7 133.5,306.1 133.7,309.6 133.9,304.8 134.1,311 134.2,310 134.4,301 134.6,303.8 134.8,305.5 135,302.2 135.1,307.4 135.3,304.5 135.5,308.7 135.7,307.2 135.9,305.8 136,301.6 136.2,308.3 136.4,302.8 136.6,306 136.8,311.5 136.9,312.1 137.1,308.2 137.3,302.8 137.5,305.1 137.7,300.4 137.8,305.6 138,301.8 138.2,305.4 138.4,309.1 138.6,304.1 138.7,308.5 138.9,310.4 139.1,308.4 139.3,307.3 139.5,305.4 139.6,303.6 139.8,304.4 140,299.9 140.2,311.9 140.4,306.7 140.5,298.3 140.7,307 140.9,309.9 141.1,308.6 141.3,309.4 141.4,308 141.6,301.4 141.8,310.6 142,308.5 142.2,302.2 142.3,305.8 142.5,305.6 142.7,307.4 142.9,303.7 143.1,310.8 143.2,306.3 143.4,308.1 143.6,309.7 143.8,313.4 144,311.6 144.1,315.3 144.3,321 144.5,323.6 144.7,328 144.9,318.6 145,327.4 145.2,314.9 145.4,316.2 145.6,313.6 145.8,316.5 145.9,311.5 146.1,309.7 146.3,308.3 146.5,305.6 146.7,308.4 146.8,309.1 147,303.4 147.2,308.4 147.4,311.6 147.6,320.1 147.7,321.1 147.9,315.2 148.1,309.1 148.3,312.4 148.5,306.6 148.6,305.4 148.8,307.9 149,306.1 149.2,302.1 149.4,308.1 149.5,310.7 149.7,307 149.9,308.5 150.1,306 150.3,303.9 150.4,303.4 150.6,304.9 150.8,301.9 151,305 151.2,303.5 151.3,322.3 151.5,306.6 151.7,308.4 151.9,307.2 152.1,309.5 152.2,308.6 152.4,306.7 152.6,303.4 152.8,307.9 153,305.8 153.1,310.3 153.3,307.2 153.5,302.9 153.7,305.7 153.9,311.8 154,307 154.2,307.6 154.4,310.3 154.6,312 154.8,309.9 154.9,310.2 155.1,305.2 155.3,305.7 155.5,305.6 155.7,304.4 155.8,313.5 156,308.4 156.2,308 156.4,316.6 156.6,324.4 156.7,321 156.9,310 157.1,307.5 157.3,303.6 157.5,305.9 157.6,306.2 157.8,306.7 158,308.8 158.2,306.1 158.4,304.1 158.5,304.9 158.7,309.1 158.9,310.2 159.1,304.1 159.3,305.5 159.4,305.2 159.6,308.2 159.8,303.8 160,304.3 160.2,312.7 160.3,312.2 160.5,309.1 160.7,306.7 160.9,312.5 161.1,308.4 161.2,301 161.4,305.2 161.6,302.2 161.8,305.3 162,318.6 162.1,306.4 162.3,308.2 162.5,305.3 162.7,309.2 162.9,307.2 163,298.8 163.2,306.1 163.4,308.7 163.6,304.6 163.8,306.4 163.9,308.1 164.1,310.2 164.3,307.6 164.5,308.2 164.7,307 164.8,306.4 165,307.4 165.2,311.1 165.4,307 165.6,307.4 165.7,313.6 165.9,309.5 166.1,309.5 166.3,307.1 166.5,310.4 166.6,310 166.8,311.2 167,311.2 167.2,305.8 167.4,307.9 167.5,306.1 167.7,309.7 167.9,310.7 168.1,310.1 168.3,312.8 168.4,309.1 168.6,306.1 168.8,303.2 169,303.8 169.2,303.2 169.3,303.2 169.5,301.3 169.7,306.9 169.9,304.9 170.1,304.8 170.2,312.6 170.4,305.2 170.6,305.6 170.8,304.6 171,306.9 171.1,307.6 171.3,307 171.5,303.8 171.7,304.7 171.9,302.2 172,309.6 172.2,303.5 172.4,301.7 172.6,309.2 172.8,306.9 172.9,311.2 173.1,314.7 173.3,311.6 173.5,308.7 173.7,309.4 173.8,312.7 174,312.2 174.2,315.6 174.4,314.8 174.6,328.3 174.7,330.6 174.9,337.1 175.1,327 175.3,325.4 175.5,316.1 175.6,321.2 175.8,318.7 176,324 176.2,317.7 176.4,308.7 176.5,305.9 176.7,311.7 176.9,301.6 177.1,305.5 177.3,308.5 177.4,305.2 177.6,308 177.8,309.9 178,305.6 178.2,303.9 178.3,303.2 178.5,310 178.7,308.3 178.9,306.6 179.1,304.1 179.2,305 179.4,310.8 179.6,313.3 179.8,310 180,313.1 180.1,308.8 180.3,305 180.5,305.1 180.7,308.9 180.9,309.5 181,310.1 181.2,304.7 181.4,305.2 181.6,313.8 181.8,316.6 181.9,319.5 182.1,314.8 182.3,312.6 182.5,310.1 182.7,303.9 182.8,304.5 183,306.7 183.2,303.9 183.4,308.4 183.6,305.8 183.7,309.7 183.9,310.1 184.1,307.5 184.3,323 184.5,309.8 184.6,310.5 184.8,310.5 185,307.3 185.2,307.3 185.4,311.2 185.5,301.9 185.7,303.5 185.9,309.6 186.1,306.4 186.3,307 186.4,309.2 186.6,310.7 186.8,307.4 187,307.8 187.2,304.5 187.3,306.9 187.5,309.6 187.7,308.8 187.9,307.8 188.1,306.5 188.2,312.2 188.4,311.9 188.6,311.6 188.8,314.6 189,304 189.1,308.1 189.3,306.8 189.5,308 189.7,322.3 189.9,305.2 190,305.1 190.2,299.5 190.4,312.7 190.6,308.6 190.8,310.5 190.9,307.2 191.1,308.3 191.3,307.1 191.5,306.5 191.7,308 191.8,304.3 192,310.3 192.2,307.9 192.4,306.4 192.6,303.1 192.7,309.6 192.9,309.3 193.1,306.9 193.3,313.1 193.5,312.3 193.6,303.4 193.8,305.5 194,306.9 194.2,306.9 194.4,305.7 194.5,307 194.7,305.3 194.9,305.5 195.1,309 195.3,310.2 195.4,302.7 195.6,307.9 195.8,302.6 196,306.4 196.2,313.4 196.3,306.5 196.5,309.2 196.7,312.3 196.9,306.9 197.1,309.7 197.2,307.5 197.4,304.2 197.6,305 197.8,306.6 198,306.5 198.1,306.5 198.3,308.1 198.5,309 198.7,307.7 198.9,306.2 199,308.3 199.2,307.1 199.4,306.6 199.6,308.8 199.8,304.1 199.9,303.6"/>
<polyline fill="none" stroke="#000" stroke-width="0.35" stroke-linejoin="round" clip-path="url(#c3)" points="199.9,303.6 200.1,306.3 200.3,309.3 200.5,311.8 200.7,313.8 200.8,308.7 201,312.4 201.2,310.5 201.4,311.2 201.6,308 201.7,305.5 201.9,307 202.1,310.3 202.3,300.9 202.5,308 202.6,316.5 202.8,315.6 203,311.9 203.2,307.1 203.4,306.8 203.5,310.3 203.7,306.5 203.9,309.1 204.1,306.8 204.3,307 204.4,305.3 204.6,306.3 204.8,307.6 205,300.6 205.2,307.4 205.3,307.4 205.5,305.4 205.7,305.4 205.9,304.2 206.1,309.8 206.2,307.8 206.4,303.8 206.6,306.8 206.8,310.4 207,313.6 207.1,310.3 207.3,308.5 207.5,307.2 207.7,309.2 207.9,313.4 208,321.4 208.2,314.1 208.4,309.4 208.6,308.1 208.8,307.4 208.9,308.8 209.1,307.2 209.3,311.9 209.5,303.6 209.7,306.1 209.8,303.3 210,308.5 210.2,310.7 210.4,303.1 210.6,315.4 210.7,315.4 210.9,306.7 211.1,304.2 211.3,309 211.5,308 211.6,308.3 211.8,306.5 212,309.8 212.2,306.6 212.4,306 212.5,308.3 212.7,307.9 212.9,303.1 213.1,307.6 213.3,309.3 213.4,306.2 213.6,305.8 213.8,310.1 214,310.7 214.2,305.2 214.3,305.7 214.5,305.4 214.7,304.8 214.9,311.1 215.1,312 215.2,305.9 215.4,306 215.6,308.5 215.8,308.4 216,311 216.1,310.3 216.3,307.9 216.5,306.6 216.7,306.2 216.9,307.9 217,306.5 217.2,305.8 217.4,309 217.6,313.1 217.8,310.1 217.9,315.9 218.1,310.2 218.3,304.6 218.5,302.8 218.7,305.6 218.8,312.7 219,319.5 219.2,318.6 219.4,315.3 219.6,311.1 219.7,311 219.9,309.4 220.1,308.2 220.3,308.8 220.5,305.8 220.6,306.8 220.8,306.6 221,309.2 221.2,308 221.4,312.4 221.5,309 221.7,311.3 221.9,307.5 222.1,306.7 222.3,307.6 222.4,304.6 222.6,309.1 222.8,307.8 223,308.8 223.2,308.3 223.3,304.7 223.5,310.3 223.7,303.8 223.9,304.4 224.1,305.9 224.2,307.8 224.4,306.5 224.6,307.7 224.8,303.7 225,309.3 225.1,308.9 225.3,306.8 225.5,312.3 225.7,303.9 225.9,307.9 226,305.5 226.2,306.7 226.4,310.8 226.6,306.9 226.8,306.4 226.9,309.8 227.1,309.5 227.3,309.6 227.5,305.8 227.7,310.3 227.8,309.5 228,307.7 228.2,307.4 228.4,309.3 228.6,305.8 228.7,306.6 228.9,312.1 229.1,305.8 229.3,309.3 229.5,308.5 229.6,307.2 229.8,310.8 230,310.1 230.2,306.4 230.4,308.9 230.5,301.7 230.7,308.2 230.9,305.2 231.1,309.2 231.3,302.6 231.4,303.2 231.6,310.1 231.8,306.4 232,306.9 232.2,304 232.3,312.3 232.5,308.1 232.7,305.6 232.9,308.2 233.1,309 233.2,310.8 233.4,307.1 233.6,308.4 233.8,311.1 234,308.2 234.1,310.5 234.3,308 234.5,306.8 234.7,305.9 234.9,307.4 235,310.1 235.2,308.5 235.4,308.6 235.6,305.6 235.8,309.1 235.9,304.5 236.1,307.6 236.3,306.1 236.5,308.5 236.7,305 236.8,308.8 237,304.3 237.2,307.1 237.4,306.4 237.6,306.6 237.7,309.2 237.9,304.7 238.1,310.7 238.3,307.4 238.5,306 238.6,305.3 238.8,308.6 239,308.3 239.2,307.8 239.4,309.5 239.5,308.8 239.7,312.5 239.9,313.4 240.1,317.3 240.3,317.3 240.4,312.2 240.6,307.7 240.8,308.7 241,309.7 241.2,309 241.3,306.4 241.5,310.5 241.7,306.9 241.9,305.9 242.1,309.6 242.2,310.4 242.4,314.4 242.6,314.4 242.8,319.3 243,310.7 243.1,310.6 243.3,310.6 243.5,308.5 243.7,309.4 243.9,303.3 244,307.9 244.2,303.6 244.4,309.8 244.6,308.7 244.8,304 244.9,307.5 245.1,302.8 245.3,305.5 245.5,304.5 245.7,310.3 245.8,306.9 246,308.1 246.2,304.3 246.4,308.4 246.6,307.6 246.7,309.4 246.9,311.5 247.1,308 247.3,310.8 247.5,309.1 247.6,310.7 247.8,308.4 248,309.7 248.2,309 248.4,307.5 248.5,308.9 248.7,307 248.9,312.2 249.1,315.3 249.3,310.6 249.4,310.6 249.6,312.1 249.8,306.9 250,309.5 250.2,310.6 250.3,310.2 250.5,306.6 250.7,309.9 250.9,311 251.1,306.5 251.2,307.3 251.4,307.2 251.6,311.1 251.8,311.6 252,315 252.1,312.2 252.3,308.9 252.5,307.4 252.7,305.3 252.9,305.7 253,308.9 253.2,308.2 253.4,305.6 253.6,304.6 253.8,306 253.9,307.8 254.1,306.6 254.3,305.1 254.5,304.8 254.7,308.4 254.8,309.3 255,307.6 255.2,308.8 255.4,307.8 255.6,309.4 255.7,307.3 255.9,307 256.1,305.4 256.3,305.7 256.5,307.6 256.6,309.6 256.8,306.4 257,309.1 257.2,310.5 257.4,308.5 257.5,310.4 257.7,304.8 257.9,307.2 258.1,307.8 258.3,310.7 258.4,308.8 258.6,307.5 258.8,308.4 259,307.6 259.2,306.8 259.3,308.8 259.5,307.6 259.7,305.3 259.9,307.3 260.1,310.7 260.2,309.2 260.4,308.8 260.6,308.4 260.8,307.3 261,309.3 261.1,304.9 261.3,308.2 261.5,307 261.7,309.6 261.9,311.8 262,307.3 262.2,306.6 262.4,306.4 262.6,308.3 262.8,307.8 262.9,309.6 263.1,310.9 263.3,308 263.5,307.3 263.7,307.3 263.8,306.5 264,306.2 264.2,306.6 264.4,306.8 264.6,307.6 264.7,309.1 264.9,311.6 265.1,307.8 265.3,305.7 265.5,307.3 265.6,304.7 265.8,306.9 266,311.6 266.2,306.2 266.4,309.5 266.5,308 266.7,308.6 266.9,307.9 267.1,305.1 267.3,305.8 267.4,310.2 267.6,307.1 267.8,309.1 268,305.7 268.2,305.1 268.3,308.4 268.5,306 268.7,305.8 268.9,306.3 269.1,305.7 269.2,307.7 269.4,306.7 269.6,307.5 269.8,309.7 270,314.6 270.1,314.6 270.3,307.8 270.5,305.7 270.7,310.7 270.9,310.1 271,313.8 271.2,307.5 271.4,308.4 271.6,308.2 271.8,307.9 271.9,311.4 272.1,309.7 272.3,306.8 272.5,308.7 272.7,307.5 272.8,311.4 273,308.5 273.2,309.5 273.4,310.3 273.6,307.6 273.7,309.7 273.9,308.9 274.1,308.9 274.3,313 274.5,307.4 274.6,307.7 274.8,307.9 275,308.8 275.2,306.1 275.4,307.8 275.5,310 275.7,307.6 275.9,306.9 276.1,309.7 276.3,309.2 276.4,307.5 276.6,306.7 276.8,307 277,308.3 277.2,306.6 277.3,308 277.5,308.2 277.7,305.7 277.9,308.2 278.1,309 278.2,306.9 278.4,310.6 278.6,311.3 278.8,317.9 279,315.9 279.1,312.2 279.3,310.3 279.5,312.4 279.7,309.3 279.9,306 280,308.6 280.2,306.5 280.4,306.2 280.6,310.5 280.8,308.5 280.9,308.1 281.1,305.7 281.3,305.5 281.5,309.1 281.7,306.9 281.8,307.3 282,309.6 282.2,306.2 282.4,305.2 282.6,309.4 282.7,306.6 282.9,308.6 283.1,305.8 283.3,305.7 283.5,307.9 283.6,307.7 283.8,304.9 284,307.7 284.2,305.8 284.4,310.1 284.5,309.6 284.7,305.8 284.9,307.1 285.1,308.1 285.3,309.3 285.4,307.3 285.6,310 285.8,309.1 286,308.7 286.2,309.7 286.3,310.6 286.5,310.4 286.7,315.6 286.9,311.3 287.1,307.1 287.2,309.7 287.4,309 287.6,308.5 287.8,309.1 288,305.8 288.1,308.8 288.3,309.7 288.5,306.7 288.7,309 288.9,305.5 289,306.6 289.2,308.3 289.4,307.6 289.6,309.2 289.8,309.4 289.9,306 290.1,308.2 290.3,307.9 290.5,308.5 290.7,307.6 290.8,308.3 291,307.8 291.2,307.7 291.4,305.9 291.6,308.6 291.7,308 291.9,307.7 292.1,309.3 292.3,307.7 292.5,309.3 292.6,310 292.8,309.9 293,309.4 293.2,311.5 293.4,314.5 293.5,315 293.7,314.6 293.9,310.9 294.1,312.8 294.3,309.6 294.4,309.2 294.6,306.3 294.8,307.7 295,308.9 295.2,308.5 295.3,307.6 295.5,310.3 295.7,307.5 295.9,310.7 296.1,307.6 296.2,309.1 296.4,309.7 296.6,308.8 296.8,306.2 297,305.8 297.1,308.8 297.3,306.2 297.5,307.8 297.7,305.8 297.9,308.2 298,307.2 298.2,309.7 298.4,306.4 298.6,307 298.8,306.4 298.9,305.8 299.1,308.6 299.3,307.6 299.5,311 299.7,309.7 299.8,310.2 300,307.4 300.2,307.7 300.4,308 300.6,302.3 300.7,305.8 300.9,307.6 301.1,309.9 301.3,306.9 301.5,306.6 301.6,307.8 301.8,312.3 302,310.3 302.2,308 302.4,308.9 302.5,310.6 302.7,308.1 302.9,309.3 303.1,307.7 303.3,307.5 303.4,305.7 303.6,309.1 303.8,306.2 304,309.2 304.2,306.2 304.3,307 304.5,307.1 304.7,307.4 304.9,308.5 305.1,306.9 305.2,306.8 305.4,306 305.6,307.5 305.8,308.4 306,312.2 306.1,314.8 306.3,320.8 306.5,310 306.7,312.6 306.9,312.2 307,313.4 307.2,307.9 307.4,309.8 307.6,309.2 307.8,308.6 307.9,309.7 308.1,310 308.3,311.2 308.5,310.6 308.7,310.2 308.8,311.3 309,310.1 309.2,309.6 309.4,315.7 309.6,313 309.7,309.7 309.9,309 310.1,309.8 310.3,309.5 310.5,308 310.6,309.2 310.8,308 311,306.4 311.2,309.3 311.4,309.7 311.5,307.4 311.7,308.4 311.9,310 312.1,311.7 312.3,306.3 312.4,306.2 312.6,309.1 312.8,308.1 313,308.2 313.2,307.7 313.3,305.8 313.5,307.4 313.7,308.3 313.9,307.7 314.1,308.1 314.2,307.6 314.4,310 314.6,310.7 314.8,306.1 315,307 315.1,306.7 315.3,304.9 315.5,308 315.7,308.3 315.9,307.6 316,310.2 316.2,312 316.4,311.8 316.6,307.8 316.8,310.4 316.9,308.1 317.1,308.4 317.3,306.1 317.5,308.7 317.7,306.8 317.8,307 318,307.2 318.2,306.2 318.4,311.1 318.6,309.2 318.7,311.7 318.9,311.5 319.1,309.9 319.3,311.9 319.5,309.2 319.6,306.4 319.8,310.9 320,306.3 320.2,309.8 320.4,306 320.5,310.1 320.7,308.4 320.9,308.7 321.1,308.8 321.3,308 321.4,308.7 321.6,307.4 321.8,308.2 322,311.5 322.2,312.5 322.3,305.3 322.5,311.8 322.7,308.5 322.9,309.5 323.1,309.7 323.2,309.9 323.4,305.5 323.6,307.1 323.8,310.1 324,307.5 324.1,307.9 324.3,305.3 324.5,307.8 324.7,310.4 324.9,305.5 325,305.3 325.2,305.2 325.4,306.7 325.6,310.4 325.8,309.2 325.9,308.1 326.1,307.5 326.3,308.5 326.5,307 326.7,309.5 326.8,308.8 327,309.1 327.2,308.4 327.4,310.4 327.6,305.3 327.7,309.6 327.9,309.1 328.1,307.6 328.3,309.9 328.5,307.9 328.6,307.6 328.8,306.8 329,309.1 329.2,309.2 329.4,308.4 329.5,308.6 329.7,308.7 329.9,309.6 330.1,309.5 330.3,309 330.4,306.7 330.6,306.9 330.8,307.9 331,308.3 331.2,308.1 331.3,306.2 331.5,309.2 331.7,310 331.9,308.6 332.1,308.4 332.2,308.8 332.4,308.7 332.6,308.6 332.8,307.8 333,309.2 333.1,309.6 333.3,308.3 333.5,307.5 333.7,308.5 333.9,310 334,308.3 334.2,309 334.4,307.4 334.6,308.5 334.8,307.8 334.9,306.4 335.1,307.4 335.3,307.8 335.5,308 335.7,308.8 335.8,306.9 336,309.7 336.2,308.7 336.4,309.2 336.6,307.2 336.7,304.8 336.9,309.7 337.1,307.1 337.3,308.2 337.5,305.6 337.6,312.4 337.8,311 338,309.4 338.2,309.8 338.4,308.8 338.5,312 338.7,310.3 338.9,310.5 339.1,306 339.3,307.9 339.4,307.8 339.6,308.8 339.8,306.4 340,308.3 340.2,308 340.3,309.8 340.5,307.2 340.7,307.3 340.9,310 341.1,309.6 341.2,308 341.4,308.7 341.6,309.6 341.8,308.3 342,308 342.1,309.9 342.3,310.8 342.5,308.7 342.7,308.7 342.9,308.6 343,307.5 343.2,306.1 343.4,306.2 343.6,307.7 343.8,308.4 343.9,307.9 344.1,307.5 344.3,307 344.5,308.2 344.7,308 344.8,307.5 345,309.4 345.2,308.2 345.4,307.7 345.6,307.1 345.7,307.9 345.9,309.1 346.1,310 346.3,309.5 346.5,310.2 346.6,309.8 346.8,309.2 347,309 347.2,307.4 347.4,308.4 347.5,308.3 347.7,307.8 347.9,309.2 348.1,309.9 348.3,309.1 348.4,309.5 348.6,306 348.8,306 349,308.2 349.2,307.7 349.3,306.2 349.5,306.2 349.7,306.7 349.9,307.2 350.1,306.6 350.2,309.7 350.4,311.1 350.6,309.5 350.8,307.7 351,309.6 351.1,308.9 351.3,308.3 351.5,308.3 351.7,309.7 351.9,308.8 352,308.3 352.2,310.3 352.4,311.8 352.6,310.8 352.8,307 352.9,306 353.1,309.6 353.3,309 353.5,308.8 353.7,307.3 353.8,308.1 354,308.5 354.2,305.7 354.4,307.4 354.6,309.2 354.7,308 354.9,308.2 355.1,306 355.3,310.7 355.5,308.2 355.6,307.8 355.8,306.4 356,308.1 356.2,307 356.4,306.9 356.5,310.3 356.7,308.8 356.9,308.9 357.1,307.9 357.3,309.8 357.4,307.9 357.6,310 357.8,310.2 358,312.9 358.2,308.2 358.3,307.9 358.5,310.3 358.7,308.7 358.9,307.8 359.1,305.8 359.2,309.9 359.4,309.3 359.6,310.3 359.8,308 360,310.3 360.1,309.2 360.3,308.1 360.5,308.2 360.7,308.8 360.9,308.9 361,309.5 361.2,307.6 361.4,308.8 361.6,310.4 361.8,307.5 361.9,307.2 362.1,306.1 362.3,305.4 362.5,307.9 362.7,306.7 362.8,307.8 363,307 363.2,308.4 363.4,307.8 363.6,308.3 363.7,310.6 363.9,308.2 364.1,309.9 364.3,307.5 364.5,311.2 364.6,307.7 364.8,310.3 365,309.2 365.2,308.3 365.4,307.4 365.5,309.4 365.7,308.2 365.9,306.7 366.1,308.2 366.3,307.3 366.4,308.1 366.6,306.4 366.8,306.8 367,306.1 367.2,307.9 367.3,308.2 367.5,312 367.7,309.5 367.9,309.4 368.1,306.7 368.2,308.6 368.4,309.4 368.6,308.5 368.8,309.1 369,309.7 369.1,309.9 369.3,306.8 369.5,306 369.7,308.3 369.9,307.7 370,306.9 370.2,308.7 370.4,307.7 370.6,309.9 370.8,310.8 370.9,309.1 371.1,306.4 371.3,308.1 371.5,310 371.7,308.2 371.8,307.7 372,310.8 372.2,308.7 372.4,307 372.6,310.5 372.7,309.1 372.9,309.5 373.1,310.2 373.3,310.1 373.5,306.8 373.6,307.5 373.8,308.4 374,305.4 374.2,308.7 374.4,308 374.5,307.1 374.7,309.1 374.9,309.7 375.1,309 375.3,309.7 375.4,308.1 375.6,308 375.8,309 376,311.1 376.2,309 376.3,310 376.5,308.8 376.7,307.7 376.9,305.9 377.1,306.2 377.2,310.1 377.4,308 377.6,309 377.8,307.9 378,305.7 378.1,307.1 378.3,307.6 378.5,308.8 378.7,309.1 378.9,308.6 379,307.5 379.2,306.2 379.4,307.7 379.6,308.8 379.8,308.7 379.9,307.6 380.1,306.4 380.3,306.1 380.5,310.5 380.7,311.5 380.8,308.7 381,308.9 381.2,308.4 381.4,307.1 381.6,309.6 381.7,308.1 381.9,310.7 382.1,307.4 382.3,309.2 382.5,309.1 382.6,310.5 382.8,306.9 383,307.4 383.2,307.8 383.4,310.4 383.5,309.6 383.7,306.9 383.9,308.9 384.1,309.8 384.3,311.3 384.4,310.9 384.6,307 384.8,311 385,305.9 385.2,306 385.3,307.5 385.5,307.1 385.7,308.3 385.9,305.5 386.1,309 386.2,309.4 386.4,307.5 386.6,308.9 386.8,308.7 387,305.9 387.1,311.4 387.3,308.1 387.5,310.9 387.7,308.7 387.9,307.7 388,307.8 388.2,310.6 388.4,308.4 388.6,308 388.8,306.4 388.9,308.2 389.1,309.9 389.3,309.2 389.5,309.3 389.7,306.1 389.8,306.7 390,310.1 390.2,308.6 390.4,305.9 390.6,309.1 390.7,307.1 390.9,308.4 391.1,307.6 391.3,308.7 391.5,310.1 391.6,309.6 391.8,307.7 392,306.3 392.2,308.6 392.4,307.8 392.5,307.6 392.7,309.9 392.9,309.7 393.1,307.4 393.3,307.7 393.4,309.5 393.6,311 393.8,309.3 394,309.1 394.2,307.7 394.3,308.8 394.5,308.3 394.7,306.9 394.9,307.4 395.1,308.7 395.2,306.4 395.4,307.3 395.6,305.6 395.8,309 396,307.8 396.1,308.6 396.3,309.6 396.5,309.5 396.7,307.8 396.9,307.2 397,308.8 397.2,308.5 397.4,306.6 397.6,308.9 397.8,309.4 397.9,307.4 398.1,309.3 398.3,307.7 398.5,309.2 398.7,308.5 398.8,308.9 399,309.3 399.2,308.3 399.4,305.8 399.6,307.3 399.7,308.3 399.9,306.4 400.1,310.8 400.3,308 400.5,309.3 400.6,309.9 400.8,309 401,308.4 401.2,309.7 401.4,308 401.5,311 401.7,307.9 401.9,307.8 402.1,306.2 402.3,308.7 402.4,310 402.6,309.8 402.8,307.9 403,307.8 403.2,310.4 403.3,310.9 403.5,307.5 403.7,308.2 403.9,310.5 404.1,306.6 404.2,308.1 404.4,308.9 404.6,308.8 404.8,307.7 405,308.7 405.1,308.8 405.3,307.4 405.5,310.3 405.7,309 405.9,309.5 406,308.6 406.2,309.5 406.4,308.2 406.6,307.5 406.8,306.9 406.9,309.6 407.1,308.8 407.3,308.7 407.5,305.8 407.7,306.9 407.8,307.7 408,307.6 408.2,308.3 408.4,306.4 408.6,308.6 408.7,307.3 408.9,307.8 409.1,309.5 409.3,306.5 409.5,307.4 409.6,308.5 409.8,310.4 410,308.4 410.2,310 410.4,310.3 410.5,306.6 410.7,308.4 410.9,307.8 411.1,307.2 411.3,306.4 411.4,309.9 411.6,310.8 411.8,306.8 412,308.9 412.2,308.1 412.3,307.3 412.5,306.4 412.7,309.8 412.9,309.5 413.1,311.8 413.2,308.4 413.4,308.9 413.6,308.7 413.8,305.9 414,310 414.1,310.6 414.3,309.8 414.5,307.3 414.7,310.5 414.9,309.8 415,307.5 415.2,309.7 415.4,309.1 415.6,309.6 415.8,307.2 415.9,309.3 416.1,307.2 416.3,309.1 416.5,308 416.7,309.9 416.8,307.8 417,312.4 417.2,305.3 417.4,307.6 417.6,309.8 417.7,309.1 417.9,308 418.1,307.8 418.3,309.5 418.5,311.4 418.6,314 418.8,309.9 419,308 419.2,306.6 419.4,310.2 419.5,309.3 419.7,306.5 419.9,307.6 420.1,308.2 420.3,305.6 420.4,305.8 420.6,310 420.8,310.3 421,307.6 421.2,307 421.3,308.7 421.5,307.7 421.7,309.5 421.9,307.2 422.1,310.3 422.2,308 422.4,307.5 422.6,308.7 422.8,308.3 423,308.4 423.1,307.1 423.3,309.6 423.5,306.7 423.7,310.9 423.9,306.6 424,307.9 424.2,307.1 424.4,306.6 424.6,307.6 424.8,306.4 424.9,307.5 425.1,308.3 425.3,306.9 425.5,306.4 425.7,311 425.8,308.1 426,311.5 426.2,308.4 426.4,308.5 426.6,308.6 426.7,306.9 426.9,307.5 427.1,307.6 427.3,312.5 427.5,306.4 427.6,309.4 427.8,313 428,308.5 428.2,308.7 428.4,308.8 428.5,306 428.7,308.5 428.9,309.4 429.1,306.6 429.3,309.4 429.4,306.3 429.6,309.2 429.8,306.7 430,304.9 430.2,306.5 430.3,309 430.5,310.5 430.7,308.7 430.9,310.3 431.1,306.3 431.2,307.8 431.4,313.1 431.6,309.5 431.8,307.4 432,306.7 432.1,309.8 432.3,308 432.5,309.8 432.7,308.6 432.9,306.9 433,311 433.2,307.9 433.4,306.7 433.6,310.4 433.8,309.2 433.9,305.7 434.1,308.1 434.3,307.2 434.5,307.9 434.7,306.5 434.8,306.8 435,308.2 435.2,309.4 435.4,307.3 435.6,309.7 435.7,309.2 435.9,308.9 436.1,308.6 436.3,309.9 436.5,308.4 436.6,307.1 436.8,310.8 437,311.4 437.2,309.3 437.4,308.3 437.5,307.8 437.7,308.1 437.9,308.7 438.1,305.5 438.3,307.4 438.4,308.2 438.6,307.4 438.8,307.8 439,308.4 439.2,307.8 439.3,308.8 439.5,308.7 439.7,306.2 439.9,310.7 440.1,309.3 440.2,310 440.4,307.9 440.6,309.9 440.8,307.9 441,307.7 441.1,307.2 441.3,307 441.5,308.2 441.7,309.2 441.9,308.4 442,310.8 442.2,306.8 442.4,309.8 442.6,308.8 442.8,309.3 442.9,307.3 443.1,311.3 443.3,309.2 443.5,306.4 443.7,307.8 443.8,309.3 444,306.9 444.2,308.7 444.4,307.2 444.6,306.3 444.7,309.4 444.9,309.9 445.1,309.5 445.3,308 445.5,305.8 445.6,307.6 445.8,308.1 446,309.7 446.2,308.3 446.4,307.9 446.5,311.1 446.7,309 446.9,309.2 447.1,308.3 447.3,307 447.4,308.3 447.6,307.2 447.8,307.7 448,307.7 448.2,309.1 448.3,308.7 448.5,308.3 448.7,308.9 448.9,307.9 449.1,309.6 449.2,307.1 449.4,308.3 449.6,310.2 449.8,306.5 450,306.6 450.1,307.8 450.3,311.9 450.5,312.4 450.7,310.8 450.9,310.4 451,307.3 451.2,309.1 451.4,308.6 451.6,307.4 451.8,308.2 451.9,309.5 452.1,307.6 452.3,308.8 452.5,307.6 452.7,307.7 452.8,307.9 453,309.5 453.2,309 453.4,307.6 453.6,310.1 453.7,306.2 453.9,308.4 454.1,309.9 454.3,312.4 454.5,309.2 454.6,308.9 454.8,310.4 455,309.6 455.2,306.1 455.4,309.5 455.5,307.8 455.7,306.5 455.9,308.6 456.1,307.7 456.3,308.6 456.4,308.7 456.6,306.5 456.8,308.5 457,311.1 457.2,309.7 457.3,308.3 457.5,306.8 457.7,309.1 457.9,305.9 458.1,310.5 458.2,308.7 458.4,307.8 458.6,308.4 458.8,308.7 459,306.6 459.1,309.6 459.3,308.7 459.5,308.3 459.7,310.4 459.9,307.9 460,307.6 460.2,307.4 460.4,306.2 460.6,308.8 460.8,306.7 460.9,307.6 461.1,308.9 461.3,309.8 461.5,306.7 461.7,311 461.8,307.1 462,308 462.2,306.5 462.4,309.4 462.6,310.7 462.7,307.7 462.9,307.3 463.1,307 463.3,308.2 463.5,308.8 463.6,308.7 463.8,307.3 464,309.7 464.2,307.9 464.4,307.6 464.5,306.7 464.7,308.9 464.9,309.3 465.1,305.3 465.3,307.5 465.4,306.8 465.6,309.8 465.8,311.6 466,309.8 466.2,308.2 466.3,307.5 466.5,307.2 466.7,310.6 466.9,310.5 467.1,312.7 467.2,310.8 467.4,309.5 467.6,308.9 467.8,306.9 468,307.8 468.1,306.7 468.3,311.4 468.5,308.4 468.7,310.4 468.9,307.2 469,309.1 469.2,308.1 469.4,307.1 469.6,308.1 469.8,309.8 469.9,309.3 470.1,309.7 470.3,309.6 470.5,310.4 470.7,308 470.8,311.1 471,303.6 471.2,307.8 471.4,307.4 471.6,308.6 471.7,308.2 471.9,308.1 472.1,308.8 472.3,305.7 472.5,308 472.6,307.7 472.8,308.5 473,303.1 473.2,308.8 473.4,307.2 473.5,306.2 473.7,309.8 473.9,309.5 474.1,310 474.3,307.8 474.4,307.7 474.6,306.9 474.8,310 475,308.5 475.2,309.2 475.3,307.8 475.5,312.9 475.7,305.6 475.9,309.7 476.1,307.3 476.2,310.1 476.4,300.8 476.6,309.5 476.8,309.4 477,306.2 477.1,305.7 477.3,310.2 477.5,309.1 477.7,310.7 477.9,306.4 478,307.1 478.2,307.4 478.4,310.3 478.6,308 478.8,309 478.9,309.3 479.1,308.5 479.3,307.2 479.5,306.4 479.7,307.6 479.8,306.4 480,308.1 480.2,308.5 480.4,307.7 480.6,308.2 480.7,308.4 480.9,306.3 481.1,306.9 481.3,308.3 481.5,309 481.6,307.8 481.8,307.5 482,309.1 482.2,310.2 482.4,311.8 482.5,305.8 482.7,308.6 482.9,308.9 483.1,307.2 483.3,306 483.4,310.3 483.6,306.1 483.8,306.7 484,307 484.2,309.2 484.3,308.9 484.5,307.8 484.7,308.2 484.9,308.5 485.1,307 485.2,307.5 485.4,309.6 485.6,310.9 485.8,308.7 486,308.7 486.1,310.7 486.3,311.4 486.5,312 486.7,308.8 486.9,311 487,306.7 487.2,308.5 487.4,307.7 487.6,304.5 487.8,307.6 487.9,310.2 488.1,305.8 488.3,307.9 488.5,310.5 488.7,311.3 488.8,311.3 489,314 489.2,312.5 489.4,316.4 489.6,325.2 489.7,313.6 489.9,314.6 490.1,298.6 490.3,310.1 490.5,309.2 490.6,308.6 490.8,306.8 491,307.8 491.2,305.1 491.4,308.7 491.5,309.7 491.7,307.3 491.9,311.9 492.1,305.8 492.3,305.2 492.4,307 492.6,309.6 492.8,312.4 493,312.9 493.2,317.1 493.3,316.4 493.5,332.6 493.7,315.9 493.9,317.3 494.1,312.9 494.2,312.3 494.4,312.2 494.6,311.4 494.8,309.6 495,308.7 495.1,314.3 495.3,309.6 495.5,305.8 495.7,305.2 495.9,307.4 496,308.4 496.2,309.1 496.4,304.8 496.6,307.9 496.8,306.4 496.9,310.1 497.1,309 497.3,305.1 497.5,306.4 497.7,307.4 497.8,310.5 498,307.3 498.2,307.5 498.4,307.2 498.6,312 498.7,311.7 498.9,309.1 499.1,308.6 499.3,309.1 499.5,309.4 499.6,310.1 499.8,308.5 500,310.3 500.2,309.1 500.4,307.5 500.5,309.9 500.7,308.8 500.9,304.7 501.1,310.4 501.3,309.2 501.4,307.9 501.6,305.9 501.8,306.8 502,305.9 502.2,306.7 502.3,309.3 502.5,309 502.7,308.2 502.9,307.7 503.1,306.1 503.2,308.8 503.4,307.5 503.6,306.8 503.8,311.5 504,308.8 504.1,310.5 504.3,312.7 504.5,314.5 504.7,318.9 504.9,328.9 505,315.6 505.2,315.7 505.4,311.2 505.6,313 505.8,311.6 505.9,307.7 506.1,309 506.3,307.1 506.5,309.8 506.7,310.2 506.8,306.4 507,307.1 507.2,310.5 507.4,310 507.6,304.5 507.7,307.8 507.9,304 508.1,308 508.3,308.4 508.5,308.3 508.6,307.5 508.8,309.4 509,309.1 509.2,309.3 509.4,309.9 509.5,308.8 509.7,307.1 509.9,308.5 510.1,309.9 510.3,308.8 510.4,309.3 510.6,308.1 510.8,310.7 511,306.7 511.2,308.4 511.3,310.8 511.5,310.7 511.7,309.4 511.9,308.1 512.1,308 512.2,306.5 512.4,306.9 512.6,312 512.8,307.9 513,304.5 513.1,309.6 513.3,307.9 513.5,309.3 513.7,311.4 513.9,306.3 514,307.1 514.2,312.3 514.4,308.8 514.6,318.6 514.8,307.3 514.9,311 515.1,307.1 515.3,308 515.5,310.9 515.7,309.2 515.8,307.6 516,306.6 516.2,308.4 516.4,305.7 516.6,308.2 516.7,307.7 516.9,307.2 517.1,310.4 517.3,308.5 517.5,310.4 517.6,311.1 517.8,309.6 518,309.8 518.2,308.6 518.4,307.5 518.5,308.7 518.7,309.7 518.9,308 519.1,310.1 519.3,308.5 519.4,306.2 519.6,308.7 519.8,312.2 520,312.8 520.2,306.7 520.3,307 520.5,308.2 520.7,306.1 520.9,307.4 521.1,307.1 521.2,309.8 521.4,306.1 521.6,304.8 521.8,305.5 522,308 522.1,307.8 522.3,306.2 522.5,308.9 522.7,299.3 522.9,309.8 523,305.9 523.2,306.2 523.4,305.9 523.6,307.6 523.8,310.7 523.9,308.2 524.1,308.4 524.3,309.3 524.5,309.1 524.7,305.2 524.8,308.2 525,307 525.2,307.9 525.4,310.1 525.6,308.3 525.7,309.3 525.9,307 526.1,310.1 526.3,310.7 526.5,308.8 526.6,308.5 526.8,309.6 527,309.4 527.2,308.1 527.4,308.3 527.5,308.8 527.7,306.6 527.9,308 528.1,306.7 528.3,307.4 528.4,309.8 528.6,308.7 528.8,306.5 529,301.6 529.2,305 529.3,308.2 529.5,308.7 529.7,310.1 529.9,311.8 530.1,309.9 530.2,305.1 530.4,311.3 530.6,305.4 530.8,306.7 531,312.3 531.1,309.6 531.3,306.1 531.5,305.9 531.7,306.8 531.9,307.6 532,306.1 532.2,307.3 532.4,311.6 532.6,309.5 532.8,311.2 532.9,308.7 533.1,305.1 533.3,310.2 533.5,311.7 533.7,307.7 533.8,313.4 534,309.6 534.2,309.2 534.4,306.9 534.6,309.3 534.7,306.5 534.9,311.4 535.1,309.5 535.3,312.6 535.5,310.1 535.6,310.2 535.8,314.5 536,314.5 536.2,315.6 536.6,360 536.8,382.1"/>
<line x1="44.6" y1="308.2" x2="547" y2="308.2" stroke="#7a1484" stroke-width="1.35"/>
<rect x="66.3" y="77" width="387" height="21" rx="3" ry="3" fill="#fff" stroke="#000" stroke-width="1.25"/>
<rect x="66.3" y="217.7" width="127.4" height="19.8" rx="3" ry="3" fill="#fff" stroke="#000" stroke-width="1.25"/>
<rect x="66.3" y="357.1" width="129.8" height="18.3" rx="3" ry="3" fill="#fff" stroke="#000" stroke-width="1.25"/>
<text x="71.17" y="88" font-size="13.2" textLength="52.7" lengthAdjust="spacingAndGlyphs" stroke="#000" stroke-width="0.4">APOGEE</text>
<text x="123.62" y="88" font-size="13.2" stroke="#000" stroke-width="0.18">(</text>
<text x="129.46" y="88" font-size="13.2" textLength="6.93" lengthAdjust="spacingAndGlyphs" class="i" stroke="#000" stroke-width="0.18">R</text>
<text x="141.25" y="88" font-size="13.2" textLength="8.84" lengthAdjust="spacingAndGlyphs" stroke="#000" stroke-width="0.18">≈</text>
<text x="154.79" y="88" font-size="13.2" textLength="11.66" lengthAdjust="spacingAndGlyphs" stroke="#000" stroke-width="0.18">22</text>
<text x="166.44" y="88" font-size="13.2" textLength="2.35" lengthAdjust="spacingAndGlyphs" stroke="#000" stroke-width="0.18">,</text>
<text x="171.36" y="88" font-size="13.2" textLength="16.56" lengthAdjust="spacingAndGlyphs" stroke="#000" stroke-width="0.18">500</text>
<text x="188.08" y="88" font-size="13.2" stroke="#000" stroke-width="0.18">)</text>
<text x="197.63" y="88" font-size="13.2" textLength="1.65" lengthAdjust="spacingAndGlyphs" stroke="#000" stroke-width="0.4">:</text>
<text x="204.79" y="88" font-size="13.2" textLength="7" lengthAdjust="spacingAndGlyphs" stroke="#000" stroke-width="0.4">T</text>
<text x="227.94" y="88" font-size="13.2" textLength="2.35" lengthAdjust="spacingAndGlyphs" stroke="#000" stroke-width="0.18">,</text>
<text x="233.08" y="88" font-size="13.2" textLength="14.34" lengthAdjust="spacingAndGlyphs" stroke="#000" stroke-width="0.4">log</text>
<text x="251.7" y="88" font-size="13.2" textLength="5.82" lengthAdjust="spacingAndGlyphs" stroke="#000" stroke-width="0.4">g</text>
<text x="259.37" y="88" font-size="13.2" textLength="2.18" lengthAdjust="spacingAndGlyphs" stroke="#000" stroke-width="0.18">,</text>
<text x="263.52" y="88" font-size="13.2" textLength="35.16" lengthAdjust="spacingAndGlyphs" stroke="#000" stroke-width="0.4">[Fe/H]</text>
<text x="302.72" y="88" font-size="13.2" textLength="8.85" lengthAdjust="spacingAndGlyphs" stroke="#000" stroke-width="0.18">=</text>
<text x="315.38" y="88" font-size="13.2" textLength="22.44" lengthAdjust="spacingAndGlyphs" stroke="#000" stroke-width="0.18">4937</text>
<text x="341.33" y="88" font-size="13.2" textLength="9.2" lengthAdjust="spacingAndGlyphs" stroke="#000" stroke-width="0.4">K</text>
<text x="350.84" y="88" font-size="13.2" textLength="2.35" lengthAdjust="spacingAndGlyphs" stroke="#000" stroke-width="0.18">,</text>
<text x="356.2" y="88" font-size="13.2" textLength="15.8" lengthAdjust="spacingAndGlyphs" stroke="#000" stroke-width="0.18">3.3</text>
<text x="373.22" y="88" font-size="13.2" textLength="19.35" lengthAdjust="spacingAndGlyphs" stroke="#000" stroke-width="0.4">dex</text>
<text x="393.14" y="88" font-size="13.2" textLength="3.02" lengthAdjust="spacingAndGlyphs" stroke="#000" stroke-width="0.18">,</text>
<text x="398.48" y="88" font-size="13.2" textLength="8.12" lengthAdjust="spacingAndGlyphs" stroke="#000" stroke-width="0.18">−</text>
<text x="407.53" y="88" font-size="13.2" textLength="21.75" lengthAdjust="spacingAndGlyphs" stroke="#000" stroke-width="0.18">0.40</text>
<text x="431.34" y="88" font-size="13.2" textLength="18.42" lengthAdjust="spacingAndGlyphs" stroke="#000" stroke-width="0.4">dex</text>
<text x="211.97" y="92" font-size="11.55" textLength="15.13" lengthAdjust="spacingAndGlyphs" stroke="#000" stroke-width="0.4">eff</text>
<text x="70.94" y="230.5" font-size="13.2" textLength="52.08" lengthAdjust="spacingAndGlyphs" stroke="#000" stroke-width="0.4">LAMOST</text>
<text x="126.32" y="230.5" font-size="13.2" stroke="#000" stroke-width="0.18">(</text>
<text x="132.86" y="230.5" font-size="13.2" textLength="6.83" lengthAdjust="spacingAndGlyphs" class="i" stroke="#000" stroke-width="0.18">R</text>
<text x="143.65" y="230.5" font-size="13.2" textLength="8.89" lengthAdjust="spacingAndGlyphs" stroke="#000" stroke-width="0.18">≈</text>
<text x="156.65" y="230.5" font-size="13.2" textLength="4.83" lengthAdjust="spacingAndGlyphs" stroke="#000" stroke-width="0.18">1</text>
<text x="162.38" y="230.5" font-size="13.2" textLength="2.77" lengthAdjust="spacingAndGlyphs" stroke="#000" stroke-width="0.18">,</text>
<text x="167.76" y="230.5" font-size="13.2" textLength="17.17" lengthAdjust="spacingAndGlyphs" stroke="#000" stroke-width="0.18">800</text>
<text x="185.08" y="230.5" font-size="13.2" stroke="#000" stroke-width="0.18">)</text>
<text x="70.51" y="369.5" font-size="13.2" textLength="63.65" lengthAdjust="spacingAndGlyphs" stroke="#000" stroke-width="0.4">Normalized</text>
<text x="139.53" y="369.5" font-size="13.2" textLength="52.38" lengthAdjust="spacingAndGlyphs" stroke="#000" stroke-width="0.4">LAMOST</text>
<rect x="44.6" y="1.8" width="502.35" height="103.5" fill="none" stroke="#000" stroke-width="1.3"/>
<rect x="44.6" y="140.2" width="502.35" height="103.5" fill="none" stroke="#000" stroke-width="1.3"/>
<rect x="44.6" y="278.65" width="502.35" height="103.5" fill="none" stroke="#000" stroke-width="1.3"/>
<line x1="150.36" y1="105.3" x2="150.36" y2="101.1" stroke="#000" stroke-width="0.9"/>
<line x1="150.36" y1="1.8" x2="150.36" y2="6" stroke="#000" stroke-width="0.9"/>
<line x1="282.56" y1="105.3" x2="282.56" y2="101.1" stroke="#000" stroke-width="0.9"/>
<line x1="282.56" y1="1.8" x2="282.56" y2="6" stroke="#000" stroke-width="0.9"/>
<line x1="414.75" y1="105.3" x2="414.75" y2="101.1" stroke="#000" stroke-width="0.9"/>
<line x1="414.75" y1="1.8" x2="414.75" y2="6" stroke="#000" stroke-width="0.9"/>
<line x1="546.95" y1="105.3" x2="546.95" y2="101.1" stroke="#000" stroke-width="0.9"/>
<line x1="546.95" y1="1.8" x2="546.95" y2="6" stroke="#000" stroke-width="0.9"/>
<text x="135.44" y="118.3" font-size="13.0" textLength="28.28" lengthAdjust="spacingAndGlyphs">15500</text>
<text x="267.64" y="118.3" font-size="13.0" textLength="28.27" lengthAdjust="spacingAndGlyphs">16000</text>
<text x="399.83" y="118.3" font-size="13.0" textLength="28.27" lengthAdjust="spacingAndGlyphs">16500</text>
<text x="531.23" y="118.3" font-size="13.0" textLength="28.27" lengthAdjust="spacingAndGlyphs">17000</text>
<line x1="44.6" y1="94.95" x2="48.8" y2="94.95" stroke="#000" stroke-width="0.9"/>
<line x1="546.95" y1="94.95" x2="542.75" y2="94.95" stroke="#000" stroke-width="0.9"/>
<line x1="44.6" y1="74.25" x2="48.8" y2="74.25" stroke="#000" stroke-width="0.9"/>
<line x1="546.95" y1="74.25" x2="542.75" y2="74.25" stroke="#000" stroke-width="0.9"/>
<line x1="44.6" y1="53.55" x2="48.8" y2="53.55" stroke="#000" stroke-width="0.9"/>
<line x1="546.95" y1="53.55" x2="542.75" y2="53.55" stroke="#000" stroke-width="0.9"/>
<line x1="44.6" y1="32.85" x2="48.8" y2="32.85" stroke="#000" stroke-width="0.9"/>
<line x1="546.95" y1="32.85" x2="542.75" y2="32.85" stroke="#000" stroke-width="0.9"/>
<line x1="44.6" y1="12.15" x2="48.8" y2="12.15" stroke="#000" stroke-width="0.9"/>
<line x1="546.95" y1="12.15" x2="542.75" y2="12.15" stroke="#000" stroke-width="0.9"/>
<text x="25.83" y="98.11" font-size="12.9" textLength="14.35" lengthAdjust="spacingAndGlyphs">0.4</text>
<text x="25.99" y="77.41" font-size="12.9" textLength="14.35" lengthAdjust="spacingAndGlyphs">0.6</text>
<text x="26.09" y="56.71" font-size="12.9" textLength="14.35" lengthAdjust="spacingAndGlyphs">0.8</text>
<text x="25.69" y="36.01" font-size="12.9" textLength="14.35" lengthAdjust="spacingAndGlyphs">1.0</text>
<text x="25.88" y="15.31" font-size="12.9" textLength="14.35" lengthAdjust="spacingAndGlyphs">1.2</text>
<line x1="63.56" y1="243.7" x2="63.56" y2="239.5" stroke="#000" stroke-width="0.9"/>
<line x1="63.56" y1="140.2" x2="63.56" y2="144.4" stroke="#000" stroke-width="0.9"/>
<line x1="158.34" y1="243.7" x2="158.34" y2="239.5" stroke="#000" stroke-width="0.9"/>
<line x1="158.34" y1="140.2" x2="158.34" y2="144.4" stroke="#000" stroke-width="0.9"/>
<line x1="253.12" y1="243.7" x2="253.12" y2="239.5" stroke="#000" stroke-width="0.9"/>
<line x1="253.12" y1="140.2" x2="253.12" y2="144.4" stroke="#000" stroke-width="0.9"/>
<line x1="347.91" y1="243.7" x2="347.91" y2="239.5" stroke="#000" stroke-width="0.9"/>
<line x1="347.91" y1="140.2" x2="347.91" y2="144.4" stroke="#000" stroke-width="0.9"/>
<line x1="442.69" y1="243.7" x2="442.69" y2="239.5" stroke="#000" stroke-width="0.9"/>
<line x1="442.69" y1="140.2" x2="442.69" y2="144.4" stroke="#000" stroke-width="0.9"/>
<line x1="537.47" y1="243.7" x2="537.47" y2="239.5" stroke="#000" stroke-width="0.9"/>
<line x1="537.47" y1="140.2" x2="537.47" y2="144.4" stroke="#000" stroke-width="0.9"/>
<text x="51.85" y="256.7" font-size="13.0" textLength="22.62" lengthAdjust="spacingAndGlyphs">4000</text>
<text x="146.42" y="256.7" font-size="13.0" textLength="22.62" lengthAdjust="spacingAndGlyphs">5000</text>
<text x="241.29" y="256.7" font-size="13.0" textLength="22.62" lengthAdjust="spacingAndGlyphs">6000</text>
<text x="335.94" y="256.7" font-size="13.0" textLength="22.62" lengthAdjust="spacingAndGlyphs">7000</text>
<text x="430.88" y="256.7" font-size="13.0" textLength="22.62" lengthAdjust="spacingAndGlyphs">8000</text>
<text x="525.69" y="256.7" font-size="13.0" textLength="22.62" lengthAdjust="spacingAndGlyphs">9000</text>
<line x1="44.6" y1="243.7" x2="48.8" y2="243.7" stroke="#000" stroke-width="0.9"/>
<line x1="546.95" y1="243.7" x2="542.75" y2="243.7" stroke="#000" stroke-width="0.9"/>
<line x1="44.6" y1="230.76" x2="48.8" y2="230.76" stroke="#000" stroke-width="0.9"/>
<line x1="546.95" y1="230.76" x2="542.75" y2="230.76" stroke="#000" stroke-width="0.9"/>
<line x1="44.6" y1="217.82" x2="48.8" y2="217.82" stroke="#000" stroke-width="0.9"/>
<line x1="546.95" y1="217.82" x2="542.75" y2="217.82" stroke="#000" stroke-width="0.9"/>
<line x1="44.6" y1="204.89" x2="48.8" y2="204.89" stroke="#000" stroke-width="0.9"/>
<line x1="546.95" y1="204.89" x2="542.75" y2="204.89" stroke="#000" stroke-width="0.9"/>
<line x1="44.6" y1="191.95" x2="48.8" y2="191.95" stroke="#000" stroke-width="0.9"/>
<line x1="546.95" y1="191.95" x2="542.75" y2="191.95" stroke="#000" stroke-width="0.9"/>
<line x1="44.6" y1="179.01" x2="48.8" y2="179.01" stroke="#000" stroke-width="0.9"/>
<line x1="546.95" y1="179.01" x2="542.75" y2="179.01" stroke="#000" stroke-width="0.9"/>
<line x1="44.6" y1="166.07" x2="48.8" y2="166.07" stroke="#000" stroke-width="0.9"/>
<line x1="546.95" y1="166.07" x2="542.75" y2="166.07" stroke="#000" stroke-width="0.9"/>
<line x1="44.6" y1="153.14" x2="48.8" y2="153.14" stroke="#000" stroke-width="0.9"/>
<line x1="546.95" y1="153.14" x2="542.75" y2="153.14" stroke="#000" stroke-width="0.9"/>
<line x1="44.6" y1="140.2" x2="48.8" y2="140.2" stroke="#000" stroke-width="0.9"/>
<line x1="546.95" y1="140.2" x2="542.75" y2="140.2" stroke="#000" stroke-width="0.9"/>
<text x="34.7" y="247.56" font-size="12.9" textLength="5.74" lengthAdjust="spacingAndGlyphs">0</text>
<text x="23.02" y="234.48" font-size="12.9" textLength="17.22" lengthAdjust="spacingAndGlyphs">200</text>
<text x="23.02" y="221.41" font-size="12.9" textLength="17.22" lengthAdjust="spacingAndGlyphs">400</text>
<text x="23.02" y="208.33" font-size="12.9" textLength="17.22" lengthAdjust="spacingAndGlyphs">600</text>
<text x="23.02" y="195.26" font-size="12.9" textLength="17.22" lengthAdjust="spacingAndGlyphs">800</text>
<text x="15.88" y="182.18" font-size="12.9" textLength="22.96" lengthAdjust="spacingAndGlyphs">1000</text>
<text x="15.88" y="169.11" font-size="12.9" textLength="22.96" lengthAdjust="spacingAndGlyphs">1200</text>
<text x="15.88" y="156.03" font-size="12.9" textLength="22.96" lengthAdjust="spacingAndGlyphs">1400</text>
<text x="15.88" y="142.96" font-size="12.9" textLength="22.96" lengthAdjust="spacingAndGlyphs">1600</text>
<line x1="63.56" y1="382.15" x2="63.56" y2="377.95" stroke="#000" stroke-width="0.9"/>
<line x1="63.56" y1="278.65" x2="63.56" y2="282.85" stroke="#000" stroke-width="0.9"/>
<line x1="158.34" y1="382.15" x2="158.34" y2="377.95" stroke="#000" stroke-width="0.9"/>
<line x1="158.34" y1="278.65" x2="158.34" y2="282.85" stroke="#000" stroke-width="0.9"/>
<line x1="253.12" y1="382.15" x2="253.12" y2="377.95" stroke="#000" stroke-width="0.9"/>
<line x1="253.12" y1="278.65" x2="253.12" y2="282.85" stroke="#000" stroke-width="0.9"/>
<line x1="347.91" y1="382.15" x2="347.91" y2="377.95" stroke="#000" stroke-width="0.9"/>
<line x1="347.91" y1="278.65" x2="347.91" y2="282.85" stroke="#000" stroke-width="0.9"/>
<line x1="442.69" y1="382.15" x2="442.69" y2="377.95" stroke="#000" stroke-width="0.9"/>
<line x1="442.69" y1="278.65" x2="442.69" y2="282.85" stroke="#000" stroke-width="0.9"/>
<line x1="537.47" y1="382.15" x2="537.47" y2="377.95" stroke="#000" stroke-width="0.9"/>
<line x1="537.47" y1="278.65" x2="537.47" y2="282.85" stroke="#000" stroke-width="0.9"/>
<text x="51.85" y="395.15" font-size="13.0" textLength="22.62" lengthAdjust="spacingAndGlyphs">4000</text>
<text x="146.42" y="395.15" font-size="13.0" textLength="22.62" lengthAdjust="spacingAndGlyphs">5000</text>
<text x="241.29" y="395.15" font-size="13.0" textLength="22.62" lengthAdjust="spacingAndGlyphs">6000</text>
<text x="335.94" y="395.15" font-size="13.0" textLength="22.62" lengthAdjust="spacingAndGlyphs">7000</text>
<text x="430.88" y="395.15" font-size="13.0" textLength="22.62" lengthAdjust="spacingAndGlyphs">8000</text>
<text x="525.69" y="395.15" font-size="13.0" textLength="22.62" lengthAdjust="spacingAndGlyphs">9000</text>
<line x1="44.6" y1="382.15" x2="48.8" y2="382.15" stroke="#000" stroke-width="0.9"/>
<line x1="546.95" y1="382.15" x2="542.75" y2="382.15" stroke="#000" stroke-width="0.9"/>
<line x1="44.6" y1="367.36" x2="48.8" y2="367.36" stroke="#000" stroke-width="0.9"/>
<line x1="546.95" y1="367.36" x2="542.75" y2="367.36" stroke="#000" stroke-width="0.9"/>
<line x1="44.6" y1="352.58" x2="48.8" y2="352.58" stroke="#000" stroke-width="0.9"/>
<line x1="546.95" y1="352.58" x2="542.75" y2="352.58" stroke="#000" stroke-width="0.9"/>
<line x1="44.6" y1="337.79" x2="48.8" y2="337.79" stroke="#000" stroke-width="0.9"/>
<line x1="546.95" y1="337.79" x2="542.75" y2="337.79" stroke="#000" stroke-width="0.9"/>
<line x1="44.6" y1="323.01" x2="48.8" y2="323.01" stroke="#000" stroke-width="0.9"/>
<line x1="546.95" y1="323.01" x2="542.75" y2="323.01" stroke="#000" stroke-width="0.9"/>
<line x1="44.6" y1="308.22" x2="48.8" y2="308.22" stroke="#000" stroke-width="0.9"/>
<line x1="546.95" y1="308.22" x2="542.75" y2="308.22" stroke="#000" stroke-width="0.9"/>
<line x1="44.6" y1="293.44" x2="48.8" y2="293.44" stroke="#000" stroke-width="0.9"/>
<line x1="546.95" y1="293.44" x2="542.75" y2="293.44" stroke="#000" stroke-width="0.9"/>
<line x1="44.6" y1="278.65" x2="48.8" y2="278.65" stroke="#000" stroke-width="0.9"/>
<line x1="546.95" y1="278.65" x2="542.75" y2="278.65" stroke="#000" stroke-width="0.9"/>
<text x="26.09" y="385.31" font-size="12.9" textLength="14.35" lengthAdjust="spacingAndGlyphs">0.0</text>
<text x="26.28" y="370.52" font-size="12.9" textLength="14.35" lengthAdjust="spacingAndGlyphs">0.2</text>
<text x="25.83" y="355.74" font-size="12.9" textLength="14.35" lengthAdjust="spacingAndGlyphs">0.4</text>
<text x="25.99" y="340.95" font-size="12.9" textLength="14.35" lengthAdjust="spacingAndGlyphs">0.6</text>
<text x="26.09" y="326.16" font-size="12.9" textLength="14.35" lengthAdjust="spacingAndGlyphs">0.8</text>
<text x="25.69" y="311.38" font-size="12.9" textLength="14.35" lengthAdjust="spacingAndGlyphs">1.0</text>
<text x="25.88" y="296.59" font-size="12.9" textLength="14.35" lengthAdjust="spacingAndGlyphs">1.2</text>
<text x="25.43" y="281.81" font-size="12.9" textLength="14.35" lengthAdjust="spacingAndGlyphs">1.4</text>
<text x="248.02" y="413.2" font-size="12.2" textLength="64.37" lengthAdjust="spacingAndGlyphs" class="b">Wavelength</text>
<text x="318.52" y="413.2" font-size="13.86" textLength="5.61" lengthAdjust="spacingAndGlyphs" class="i">λ</text>
<text x="323.21" y="413.2" font-size="13.86">(</text>
<text x="329.8" y="413.2" font-size="13.86" textLength="6.67" lengthAdjust="spacingAndGlyphs" class="i">Å</text>
<text x="337.42" y="413.2" font-size="13.86">)</text>
<text x="-0.15" y="0" font-size="13" stroke="#000" stroke-width="0.25" textLength="25.37" lengthAdjust="spacingAndGlyphs" transform="translate(10.2,204.6) rotate(-90)">Flux</text>
</svg></body></html>
